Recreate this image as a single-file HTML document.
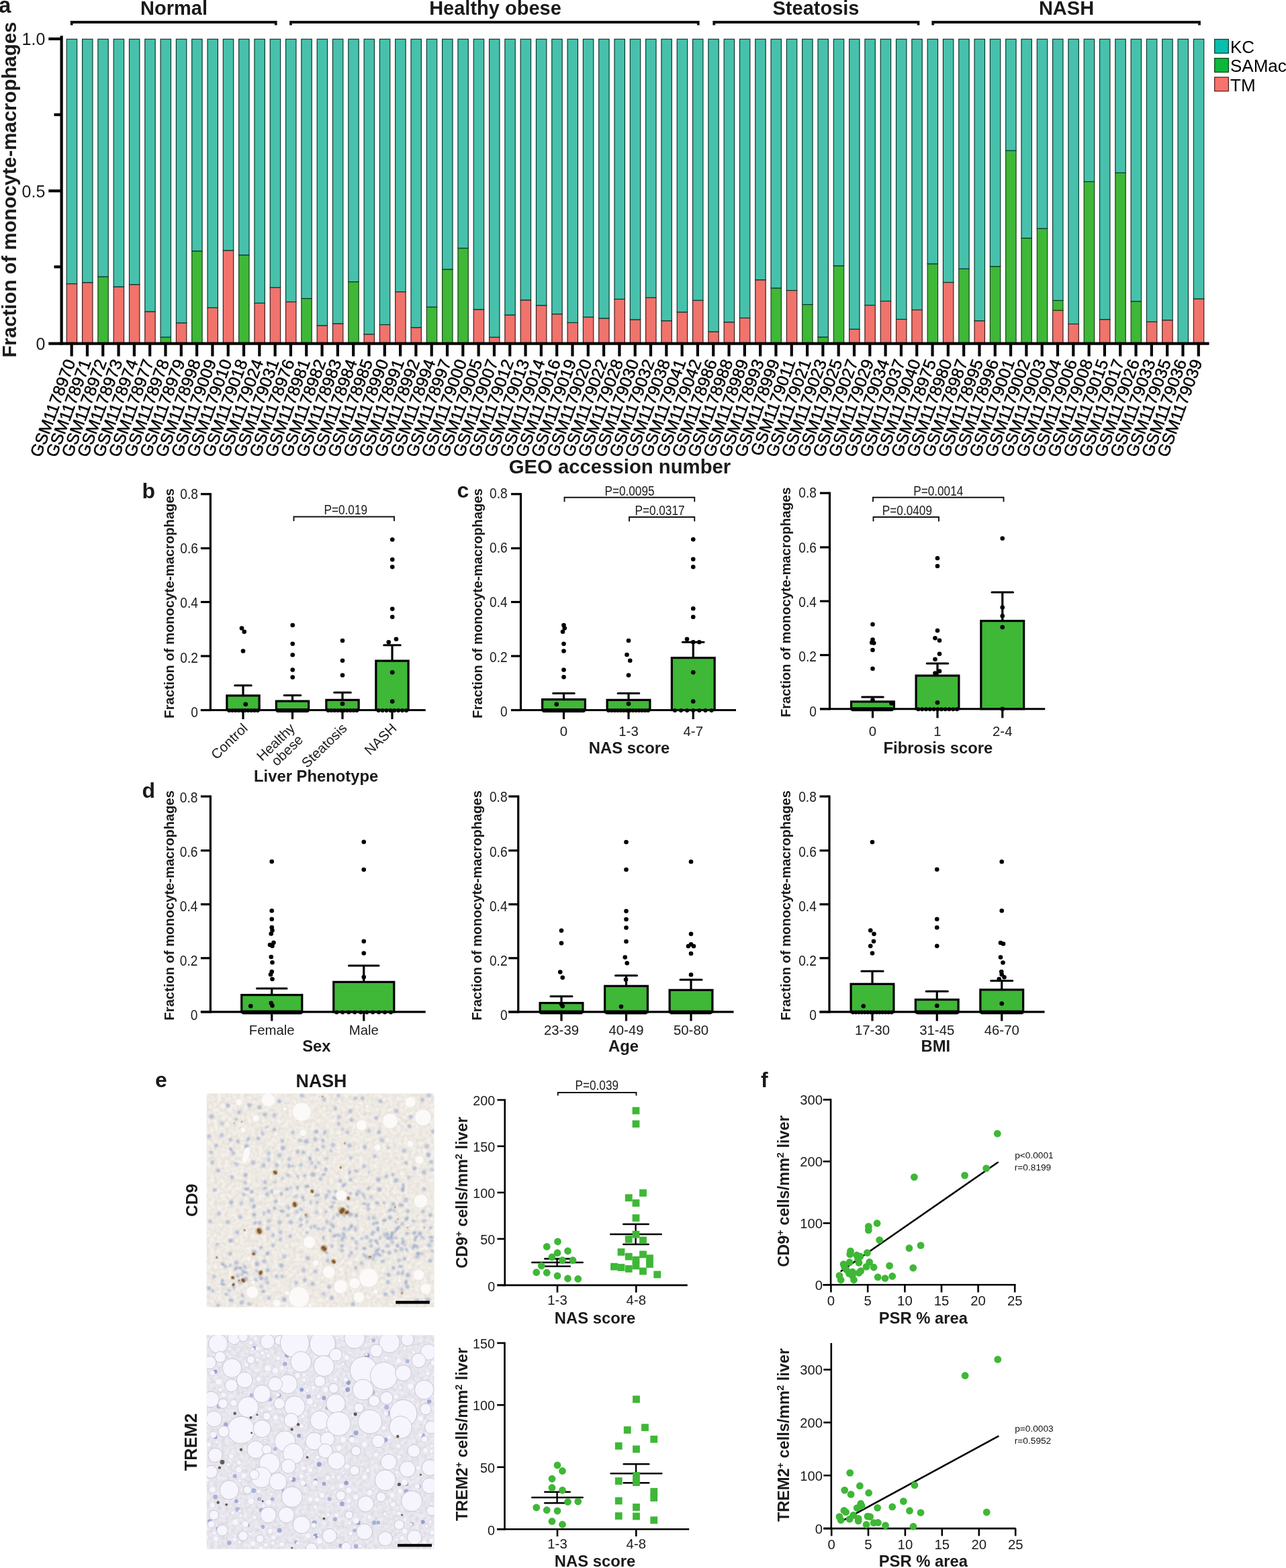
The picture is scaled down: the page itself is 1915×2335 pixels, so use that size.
<!DOCTYPE html>
<html lang="en"><head><meta charset="utf-8"><title>Figure</title>
<style>
html,body{margin:0;padding:0;background:#fff;}
body{width:1915px;height:2335px;overflow:hidden;}
svg{display:block;}
svg text{font-family:"Liberation Sans",sans-serif;}
</style></head><body>
<svg width="1915" height="2335" viewBox="0 0 1915 2335">
<rect width="1915" height="2335" fill="#fff"/>
<g id="panel-a">
<text x="-2.00" y="18.60" font-size="33" font-weight="bold" text-anchor="start" fill="#1a1a1a">a</text>
<text x="259.00" y="22.00" font-size="29" font-weight="bold" text-anchor="middle" fill="#1a1a1a">Normal</text>
<path d="M106.75 37.6V33H410.75V37.6" fill="none" stroke="#111" stroke-width="3.8"/>
<text x="737.50" y="22.00" font-size="29" font-weight="bold" text-anchor="middle" fill="#1a1a1a">Healthy obese</text>
<path d="M433.00 37.6V33H1039.75V37.6" fill="none" stroke="#111" stroke-width="3.8"/>
<text x="1215.00" y="22.00" font-size="29" font-weight="bold" text-anchor="middle" fill="#1a1a1a">Steatosis</text>
<path d="M1063.25 37.6V33H1367.50V37.6" fill="none" stroke="#111" stroke-width="3.8"/>
<text x="1588.00" y="22.00" font-size="29" font-weight="bold" text-anchor="middle" fill="#1a1a1a">NASH</text>
<path d="M1389.25 37.6V33H1786.00V37.6" fill="none" stroke="#111" stroke-width="3.8"/>
<g stroke-width="1.15">
<rect x="99.25" y="422.54" width="15.4" height="88.96" fill="#f0736c" stroke="#3d1815"/>
<rect x="99.25" y="58.30" width="15.4" height="364.24" fill="#47c1ab" stroke="#0a322c"/>
<rect x="122.56" y="420.72" width="15.4" height="90.78" fill="#f0736c" stroke="#3d1815"/>
<rect x="122.56" y="58.30" width="15.4" height="362.42" fill="#47c1ab" stroke="#0a322c"/>
<rect x="145.86" y="412.07" width="15.4" height="99.43" fill="#3fb737" stroke="#143d12"/>
<rect x="145.86" y="58.30" width="15.4" height="353.77" fill="#47c1ab" stroke="#0a322c"/>
<rect x="169.17" y="427.02" width="15.4" height="84.48" fill="#f0736c" stroke="#3d1815"/>
<rect x="169.17" y="58.30" width="15.4" height="368.72" fill="#47c1ab" stroke="#0a322c"/>
<rect x="192.48" y="423.67" width="15.4" height="87.83" fill="#f0736c" stroke="#3d1815"/>
<rect x="192.48" y="58.30" width="15.4" height="365.37" fill="#47c1ab" stroke="#0a322c"/>
<rect x="215.79" y="464.00" width="15.4" height="47.50" fill="#f0736c" stroke="#3d1815"/>
<rect x="215.79" y="58.30" width="15.4" height="405.70" fill="#47c1ab" stroke="#0a322c"/>
<rect x="239.09" y="502.07" width="15.4" height="9.43" fill="#3fb737" stroke="#143d12"/>
<rect x="239.09" y="58.30" width="15.4" height="443.77" fill="#47c1ab" stroke="#0a322c"/>
<rect x="262.40" y="480.77" width="15.4" height="30.73" fill="#f0736c" stroke="#3d1815"/>
<rect x="262.40" y="58.30" width="15.4" height="422.47" fill="#47c1ab" stroke="#0a322c"/>
<rect x="285.71" y="373.82" width="15.4" height="137.68" fill="#3fb737" stroke="#143d12"/>
<rect x="285.71" y="58.30" width="15.4" height="315.52" fill="#47c1ab" stroke="#0a322c"/>
<rect x="309.01" y="458.25" width="15.4" height="53.25" fill="#f0736c" stroke="#3d1815"/>
<rect x="309.01" y="58.30" width="15.4" height="399.95" fill="#47c1ab" stroke="#0a322c"/>
<rect x="332.32" y="372.91" width="15.4" height="138.59" fill="#f0736c" stroke="#3d1815"/>
<rect x="332.32" y="58.30" width="15.4" height="314.61" fill="#47c1ab" stroke="#0a322c"/>
<rect x="355.63" y="379.71" width="15.4" height="131.79" fill="#3fb737" stroke="#143d12"/>
<rect x="355.63" y="58.30" width="15.4" height="321.41" fill="#47c1ab" stroke="#0a322c"/>
<rect x="378.93" y="451.32" width="15.4" height="60.18" fill="#f0736c" stroke="#3d1815"/>
<rect x="378.93" y="58.30" width="15.4" height="393.02" fill="#47c1ab" stroke="#0a322c"/>
<rect x="402.24" y="428.20" width="15.4" height="83.30" fill="#f0736c" stroke="#3d1815"/>
<rect x="402.24" y="58.30" width="15.4" height="369.90" fill="#47c1ab" stroke="#0a322c"/>
<rect x="425.55" y="449.50" width="15.4" height="62.00" fill="#f0736c" stroke="#3d1815"/>
<rect x="425.55" y="58.30" width="15.4" height="391.20" fill="#47c1ab" stroke="#0a322c"/>
<rect x="448.85" y="444.52" width="15.4" height="66.98" fill="#3fb737" stroke="#143d12"/>
<rect x="448.85" y="58.30" width="15.4" height="386.22" fill="#47c1ab" stroke="#0a322c"/>
<rect x="472.16" y="484.72" width="15.4" height="26.78" fill="#f0736c" stroke="#3d1815"/>
<rect x="472.16" y="58.30" width="15.4" height="426.42" fill="#47c1ab" stroke="#0a322c"/>
<rect x="495.47" y="481.95" width="15.4" height="29.55" fill="#f0736c" stroke="#3d1815"/>
<rect x="495.47" y="58.30" width="15.4" height="423.65" fill="#47c1ab" stroke="#0a322c"/>
<rect x="518.78" y="419.59" width="15.4" height="91.91" fill="#3fb737" stroke="#143d12"/>
<rect x="518.78" y="58.30" width="15.4" height="361.29" fill="#47c1ab" stroke="#0a322c"/>
<rect x="542.08" y="497.68" width="15.4" height="13.82" fill="#f0736c" stroke="#3d1815"/>
<rect x="542.08" y="58.30" width="15.4" height="439.38" fill="#47c1ab" stroke="#0a322c"/>
<rect x="565.39" y="483.49" width="15.4" height="28.01" fill="#f0736c" stroke="#3d1815"/>
<rect x="565.39" y="58.30" width="15.4" height="425.19" fill="#47c1ab" stroke="#0a322c"/>
<rect x="588.70" y="434.55" width="15.4" height="76.95" fill="#f0736c" stroke="#3d1815"/>
<rect x="588.70" y="58.30" width="15.4" height="376.25" fill="#47c1ab" stroke="#0a322c"/>
<rect x="612.00" y="487.71" width="15.4" height="23.79" fill="#f0736c" stroke="#3d1815"/>
<rect x="612.00" y="58.30" width="15.4" height="429.41" fill="#47c1ab" stroke="#0a322c"/>
<rect x="635.31" y="457.21" width="15.4" height="54.29" fill="#3fb737" stroke="#143d12"/>
<rect x="635.31" y="58.30" width="15.4" height="398.91" fill="#47c1ab" stroke="#0a322c"/>
<rect x="658.62" y="401.01" width="15.4" height="110.49" fill="#3fb737" stroke="#143d12"/>
<rect x="658.62" y="58.30" width="15.4" height="342.71" fill="#47c1ab" stroke="#0a322c"/>
<rect x="681.92" y="369.51" width="15.4" height="141.99" fill="#3fb737" stroke="#143d12"/>
<rect x="681.92" y="58.30" width="15.4" height="311.21" fill="#47c1ab" stroke="#0a322c"/>
<rect x="705.23" y="460.83" width="15.4" height="50.67" fill="#f0736c" stroke="#3d1815"/>
<rect x="705.23" y="58.30" width="15.4" height="402.53" fill="#47c1ab" stroke="#0a322c"/>
<rect x="728.54" y="502.21" width="15.4" height="9.29" fill="#f0736c" stroke="#3d1815"/>
<rect x="728.54" y="58.30" width="15.4" height="443.91" fill="#47c1ab" stroke="#0a322c"/>
<rect x="751.85" y="468.99" width="15.4" height="42.51" fill="#f0736c" stroke="#3d1815"/>
<rect x="751.85" y="58.30" width="15.4" height="410.69" fill="#47c1ab" stroke="#0a322c"/>
<rect x="775.15" y="446.78" width="15.4" height="64.72" fill="#f0736c" stroke="#3d1815"/>
<rect x="775.15" y="58.30" width="15.4" height="388.48" fill="#47c1ab" stroke="#0a322c"/>
<rect x="798.46" y="454.71" width="15.4" height="56.79" fill="#f0736c" stroke="#3d1815"/>
<rect x="798.46" y="58.30" width="15.4" height="396.41" fill="#47c1ab" stroke="#0a322c"/>
<rect x="821.77" y="467.63" width="15.4" height="43.87" fill="#f0736c" stroke="#3d1815"/>
<rect x="821.77" y="58.30" width="15.4" height="409.33" fill="#47c1ab" stroke="#0a322c"/>
<rect x="845.07" y="480.46" width="15.4" height="31.04" fill="#f0736c" stroke="#3d1815"/>
<rect x="845.07" y="58.30" width="15.4" height="422.16" fill="#47c1ab" stroke="#0a322c"/>
<rect x="868.38" y="472.21" width="15.4" height="39.29" fill="#f0736c" stroke="#3d1815"/>
<rect x="868.38" y="58.30" width="15.4" height="413.91" fill="#47c1ab" stroke="#0a322c"/>
<rect x="891.69" y="473.98" width="15.4" height="37.52" fill="#f0736c" stroke="#3d1815"/>
<rect x="891.69" y="58.30" width="15.4" height="415.68" fill="#47c1ab" stroke="#0a322c"/>
<rect x="915.00" y="445.47" width="15.4" height="66.03" fill="#f0736c" stroke="#3d1815"/>
<rect x="915.00" y="58.30" width="15.4" height="387.17" fill="#47c1ab" stroke="#0a322c"/>
<rect x="938.30" y="475.97" width="15.4" height="35.53" fill="#f0736c" stroke="#3d1815"/>
<rect x="938.30" y="58.30" width="15.4" height="417.67" fill="#47c1ab" stroke="#0a322c"/>
<rect x="961.61" y="443.25" width="15.4" height="68.25" fill="#f0736c" stroke="#3d1815"/>
<rect x="961.61" y="58.30" width="15.4" height="384.95" fill="#47c1ab" stroke="#0a322c"/>
<rect x="984.92" y="477.69" width="15.4" height="33.81" fill="#f0736c" stroke="#3d1815"/>
<rect x="984.92" y="58.30" width="15.4" height="419.39" fill="#47c1ab" stroke="#0a322c"/>
<rect x="1008.22" y="464.73" width="15.4" height="46.77" fill="#f0736c" stroke="#3d1815"/>
<rect x="1008.22" y="58.30" width="15.4" height="406.43" fill="#47c1ab" stroke="#0a322c"/>
<rect x="1031.53" y="447.24" width="15.4" height="64.26" fill="#f0736c" stroke="#3d1815"/>
<rect x="1031.53" y="58.30" width="15.4" height="388.94" fill="#47c1ab" stroke="#0a322c"/>
<rect x="1054.84" y="493.96" width="15.4" height="17.54" fill="#f0736c" stroke="#3d1815"/>
<rect x="1054.84" y="58.30" width="15.4" height="435.66" fill="#47c1ab" stroke="#0a322c"/>
<rect x="1078.14" y="479.69" width="15.4" height="31.81" fill="#f0736c" stroke="#3d1815"/>
<rect x="1078.14" y="58.30" width="15.4" height="421.39" fill="#47c1ab" stroke="#0a322c"/>
<rect x="1101.45" y="473.48" width="15.4" height="38.02" fill="#f0736c" stroke="#3d1815"/>
<rect x="1101.45" y="58.30" width="15.4" height="415.18" fill="#47c1ab" stroke="#0a322c"/>
<rect x="1124.76" y="416.74" width="15.4" height="94.76" fill="#f0736c" stroke="#3d1815"/>
<rect x="1124.76" y="58.30" width="15.4" height="358.44" fill="#47c1ab" stroke="#0a322c"/>
<rect x="1148.06" y="428.97" width="15.4" height="82.53" fill="#3fb737" stroke="#143d12"/>
<rect x="1148.06" y="58.30" width="15.4" height="370.67" fill="#47c1ab" stroke="#0a322c"/>
<rect x="1171.37" y="432.51" width="15.4" height="78.99" fill="#f0736c" stroke="#3d1815"/>
<rect x="1171.37" y="58.30" width="15.4" height="374.21" fill="#47c1ab" stroke="#0a322c"/>
<rect x="1194.68" y="453.49" width="15.4" height="58.01" fill="#3fb737" stroke="#143d12"/>
<rect x="1194.68" y="58.30" width="15.4" height="395.19" fill="#47c1ab" stroke="#0a322c"/>
<rect x="1217.99" y="501.94" width="15.4" height="9.56" fill="#3fb737" stroke="#143d12"/>
<rect x="1217.99" y="58.30" width="15.4" height="443.64" fill="#47c1ab" stroke="#0a322c"/>
<rect x="1241.29" y="395.80" width="15.4" height="115.70" fill="#3fb737" stroke="#143d12"/>
<rect x="1241.29" y="58.30" width="15.4" height="337.50" fill="#47c1ab" stroke="#0a322c"/>
<rect x="1264.60" y="490.20" width="15.4" height="21.30" fill="#f0736c" stroke="#3d1815"/>
<rect x="1264.60" y="58.30" width="15.4" height="431.90" fill="#47c1ab" stroke="#0a322c"/>
<rect x="1287.91" y="454.49" width="15.4" height="57.01" fill="#f0736c" stroke="#3d1815"/>
<rect x="1287.91" y="58.30" width="15.4" height="396.19" fill="#47c1ab" stroke="#0a322c"/>
<rect x="1311.21" y="448.46" width="15.4" height="63.04" fill="#f0736c" stroke="#3d1815"/>
<rect x="1311.21" y="58.30" width="15.4" height="390.16" fill="#47c1ab" stroke="#0a322c"/>
<rect x="1334.52" y="475.47" width="15.4" height="36.03" fill="#f0736c" stroke="#3d1815"/>
<rect x="1334.52" y="58.30" width="15.4" height="417.17" fill="#47c1ab" stroke="#0a322c"/>
<rect x="1357.83" y="461.47" width="15.4" height="50.03" fill="#f0736c" stroke="#3d1815"/>
<rect x="1357.83" y="58.30" width="15.4" height="403.17" fill="#47c1ab" stroke="#0a322c"/>
<rect x="1381.13" y="392.85" width="15.4" height="118.65" fill="#3fb737" stroke="#143d12"/>
<rect x="1381.13" y="58.30" width="15.4" height="334.55" fill="#47c1ab" stroke="#0a322c"/>
<rect x="1404.44" y="420.50" width="15.4" height="91.00" fill="#f0736c" stroke="#3d1815"/>
<rect x="1404.44" y="58.30" width="15.4" height="362.20" fill="#47c1ab" stroke="#0a322c"/>
<rect x="1427.75" y="400.24" width="15.4" height="111.26" fill="#3fb737" stroke="#143d12"/>
<rect x="1427.75" y="58.30" width="15.4" height="341.94" fill="#47c1ab" stroke="#0a322c"/>
<rect x="1451.06" y="477.69" width="15.4" height="33.81" fill="#f0736c" stroke="#3d1815"/>
<rect x="1451.06" y="58.30" width="15.4" height="419.39" fill="#47c1ab" stroke="#0a322c"/>
<rect x="1474.36" y="396.75" width="15.4" height="114.75" fill="#3fb737" stroke="#143d12"/>
<rect x="1474.36" y="58.30" width="15.4" height="338.45" fill="#47c1ab" stroke="#0a322c"/>
<rect x="1497.67" y="224.26" width="15.4" height="287.24" fill="#3fb737" stroke="#143d12"/>
<rect x="1497.67" y="58.30" width="15.4" height="165.96" fill="#47c1ab" stroke="#0a322c"/>
<rect x="1520.98" y="354.56" width="15.4" height="156.94" fill="#3fb737" stroke="#143d12"/>
<rect x="1520.98" y="58.30" width="15.4" height="296.26" fill="#47c1ab" stroke="#0a322c"/>
<rect x="1544.28" y="340.28" width="15.4" height="171.22" fill="#3fb737" stroke="#143d12"/>
<rect x="1544.28" y="58.30" width="15.4" height="281.98" fill="#47c1ab" stroke="#0a322c"/>
<rect x="1567.59" y="462.19" width="15.4" height="49.31" fill="#f0736c" stroke="#3d1815"/>
<rect x="1567.59" y="447.46" width="15.4" height="14.73" fill="#3fb737" stroke="#143d12"/>
<rect x="1567.59" y="58.30" width="15.4" height="389.16" fill="#47c1ab" stroke="#0a322c"/>
<rect x="1590.90" y="482.45" width="15.4" height="29.05" fill="#f0736c" stroke="#3d1815"/>
<rect x="1590.90" y="58.30" width="15.4" height="424.15" fill="#47c1ab" stroke="#0a322c"/>
<rect x="1614.20" y="270.49" width="15.4" height="241.01" fill="#3fb737" stroke="#143d12"/>
<rect x="1614.20" y="58.30" width="15.4" height="212.19" fill="#47c1ab" stroke="#0a322c"/>
<rect x="1637.51" y="475.70" width="15.4" height="35.80" fill="#f0736c" stroke="#3d1815"/>
<rect x="1637.51" y="58.30" width="15.4" height="417.40" fill="#47c1ab" stroke="#0a322c"/>
<rect x="1660.82" y="257.35" width="15.4" height="254.15" fill="#3fb737" stroke="#143d12"/>
<rect x="1660.82" y="58.30" width="15.4" height="199.05" fill="#47c1ab" stroke="#0a322c"/>
<rect x="1684.13" y="448.73" width="15.4" height="62.77" fill="#3fb737" stroke="#143d12"/>
<rect x="1684.13" y="58.30" width="15.4" height="390.43" fill="#47c1ab" stroke="#0a322c"/>
<rect x="1707.43" y="479.19" width="15.4" height="32.31" fill="#f0736c" stroke="#3d1815"/>
<rect x="1707.43" y="58.30" width="15.4" height="420.89" fill="#47c1ab" stroke="#0a322c"/>
<rect x="1730.74" y="476.69" width="15.4" height="34.81" fill="#f0736c" stroke="#3d1815"/>
<rect x="1730.74" y="58.30" width="15.4" height="418.39" fill="#47c1ab" stroke="#0a322c"/>
<rect x="1754.05" y="58.30" width="15.4" height="453.20" fill="#47c1ab" stroke="#0a322c"/>
<rect x="1777.35" y="444.97" width="15.4" height="66.53" fill="#f0736c" stroke="#3d1815"/>
<rect x="1777.35" y="58.30" width="15.4" height="386.67" fill="#47c1ab" stroke="#0a322c"/>
</g>
<line x1="91.60" y1="53.20" x2="91.60" y2="513.60" stroke="#000" stroke-width="4.2" stroke-linecap="butt"/>
<line x1="72.30" y1="511.55" x2="1800.50" y2="511.55" stroke="#000" stroke-width="4.3" stroke-linecap="butt"/>
<line x1="72.30" y1="57.90" x2="91.60" y2="57.90" stroke="#000" stroke-width="4.2" stroke-linecap="butt"/>
<line x1="72.30" y1="284.28" x2="91.60" y2="284.28" stroke="#000" stroke-width="4.2" stroke-linecap="butt"/>
<line x1="80.50" y1="170.78" x2="91.60" y2="170.78" stroke="#000" stroke-width="4.2" stroke-linecap="butt"/>
<line x1="80.50" y1="397.38" x2="91.60" y2="397.38" stroke="#000" stroke-width="4.2" stroke-linecap="butt"/>
<text x="67.30" y="66.50" font-size="25" text-anchor="end" fill="#1a1a1a">1.0</text>
<text x="67.30" y="293.50" font-size="25" text-anchor="end" fill="#1a1a1a">0.5</text>
<text x="67.30" y="520.60" font-size="25" text-anchor="end" fill="#1a1a1a">0</text>
<line x1="106.65" y1="511.50" x2="106.65" y2="530.60" stroke="#000" stroke-width="4.2" stroke-linecap="butt"/>
<text x="112.75" y="539.00" font-size="25" text-anchor="end" fill="#000" transform="rotate(-70 112.75 539.00)" stroke="#000" stroke-width="0.45">GSM1178970</text>
<line x1="129.96" y1="511.50" x2="129.96" y2="530.60" stroke="#000" stroke-width="4.2" stroke-linecap="butt"/>
<text x="136.06" y="539.00" font-size="25" text-anchor="end" fill="#000" transform="rotate(-70 136.06 539.00)" stroke="#000" stroke-width="0.45">GSM1178971</text>
<line x1="153.26" y1="511.50" x2="153.26" y2="530.60" stroke="#000" stroke-width="4.2" stroke-linecap="butt"/>
<text x="159.36" y="539.00" font-size="25" text-anchor="end" fill="#000" transform="rotate(-70 159.36 539.00)" stroke="#000" stroke-width="0.45">GSM1178972</text>
<line x1="176.57" y1="511.50" x2="176.57" y2="530.60" stroke="#000" stroke-width="4.2" stroke-linecap="butt"/>
<text x="182.67" y="539.00" font-size="25" text-anchor="end" fill="#000" transform="rotate(-70 182.67 539.00)" stroke="#000" stroke-width="0.45">GSM1178973</text>
<line x1="199.88" y1="511.50" x2="199.88" y2="530.60" stroke="#000" stroke-width="4.2" stroke-linecap="butt"/>
<text x="205.98" y="539.00" font-size="25" text-anchor="end" fill="#000" transform="rotate(-70 205.98 539.00)" stroke="#000" stroke-width="0.45">GSM1178974</text>
<line x1="223.19" y1="511.50" x2="223.19" y2="530.60" stroke="#000" stroke-width="4.2" stroke-linecap="butt"/>
<text x="229.29" y="539.00" font-size="25" text-anchor="end" fill="#000" transform="rotate(-70 229.29 539.00)" stroke="#000" stroke-width="0.45">GSM1178977</text>
<line x1="246.49" y1="511.50" x2="246.49" y2="530.60" stroke="#000" stroke-width="4.2" stroke-linecap="butt"/>
<text x="252.59" y="539.00" font-size="25" text-anchor="end" fill="#000" transform="rotate(-70 252.59 539.00)" stroke="#000" stroke-width="0.45">GSM1178978</text>
<line x1="269.80" y1="511.50" x2="269.80" y2="530.60" stroke="#000" stroke-width="4.2" stroke-linecap="butt"/>
<text x="275.90" y="539.00" font-size="25" text-anchor="end" fill="#000" transform="rotate(-70 275.90 539.00)" stroke="#000" stroke-width="0.45">GSM1178979</text>
<line x1="293.11" y1="511.50" x2="293.11" y2="530.60" stroke="#000" stroke-width="4.2" stroke-linecap="butt"/>
<text x="299.21" y="539.00" font-size="25" text-anchor="end" fill="#000" transform="rotate(-70 299.21 539.00)" stroke="#000" stroke-width="0.45">GSM1178998</text>
<line x1="316.41" y1="511.50" x2="316.41" y2="530.60" stroke="#000" stroke-width="4.2" stroke-linecap="butt"/>
<text x="322.51" y="539.00" font-size="25" text-anchor="end" fill="#000" transform="rotate(-70 322.51 539.00)" stroke="#000" stroke-width="0.45">GSM1179009</text>
<line x1="339.72" y1="511.50" x2="339.72" y2="530.60" stroke="#000" stroke-width="4.2" stroke-linecap="butt"/>
<text x="345.82" y="539.00" font-size="25" text-anchor="end" fill="#000" transform="rotate(-70 345.82 539.00)" stroke="#000" stroke-width="0.45">GSM1179010</text>
<line x1="363.03" y1="511.50" x2="363.03" y2="530.60" stroke="#000" stroke-width="4.2" stroke-linecap="butt"/>
<text x="369.13" y="539.00" font-size="25" text-anchor="end" fill="#000" transform="rotate(-70 369.13 539.00)" stroke="#000" stroke-width="0.45">GSM1179018</text>
<line x1="386.33" y1="511.50" x2="386.33" y2="530.60" stroke="#000" stroke-width="4.2" stroke-linecap="butt"/>
<text x="392.43" y="539.00" font-size="25" text-anchor="end" fill="#000" transform="rotate(-70 392.43 539.00)" stroke="#000" stroke-width="0.45">GSM1179024</text>
<line x1="409.64" y1="511.50" x2="409.64" y2="530.60" stroke="#000" stroke-width="4.2" stroke-linecap="butt"/>
<text x="415.74" y="539.00" font-size="25" text-anchor="end" fill="#000" transform="rotate(-70 415.74 539.00)" stroke="#000" stroke-width="0.45">GSM1179031</text>
<line x1="432.95" y1="511.50" x2="432.95" y2="530.60" stroke="#000" stroke-width="4.2" stroke-linecap="butt"/>
<text x="439.05" y="539.00" font-size="25" text-anchor="end" fill="#000" transform="rotate(-70 439.05 539.00)" stroke="#000" stroke-width="0.45">GSM1178976</text>
<line x1="456.25" y1="511.50" x2="456.25" y2="530.60" stroke="#000" stroke-width="4.2" stroke-linecap="butt"/>
<text x="462.35" y="539.00" font-size="25" text-anchor="end" fill="#000" transform="rotate(-70 462.35 539.00)" stroke="#000" stroke-width="0.45">GSM1178981</text>
<line x1="479.56" y1="511.50" x2="479.56" y2="530.60" stroke="#000" stroke-width="4.2" stroke-linecap="butt"/>
<text x="485.66" y="539.00" font-size="25" text-anchor="end" fill="#000" transform="rotate(-70 485.66 539.00)" stroke="#000" stroke-width="0.45">GSM1178982</text>
<line x1="502.87" y1="511.50" x2="502.87" y2="530.60" stroke="#000" stroke-width="4.2" stroke-linecap="butt"/>
<text x="508.97" y="539.00" font-size="25" text-anchor="end" fill="#000" transform="rotate(-70 508.97 539.00)" stroke="#000" stroke-width="0.45">GSM1178983</text>
<line x1="526.18" y1="511.50" x2="526.18" y2="530.60" stroke="#000" stroke-width="4.2" stroke-linecap="butt"/>
<text x="532.28" y="539.00" font-size="25" text-anchor="end" fill="#000" transform="rotate(-70 532.28 539.00)" stroke="#000" stroke-width="0.45">GSM1178984</text>
<line x1="549.48" y1="511.50" x2="549.48" y2="530.60" stroke="#000" stroke-width="4.2" stroke-linecap="butt"/>
<text x="555.58" y="539.00" font-size="25" text-anchor="end" fill="#000" transform="rotate(-70 555.58 539.00)" stroke="#000" stroke-width="0.45">GSM1178985</text>
<line x1="572.79" y1="511.50" x2="572.79" y2="530.60" stroke="#000" stroke-width="4.2" stroke-linecap="butt"/>
<text x="578.89" y="539.00" font-size="25" text-anchor="end" fill="#000" transform="rotate(-70 578.89 539.00)" stroke="#000" stroke-width="0.45">GSM1178990</text>
<line x1="596.10" y1="511.50" x2="596.10" y2="530.60" stroke="#000" stroke-width="4.2" stroke-linecap="butt"/>
<text x="602.20" y="539.00" font-size="25" text-anchor="end" fill="#000" transform="rotate(-70 602.20 539.00)" stroke="#000" stroke-width="0.45">GSM1178991</text>
<line x1="619.40" y1="511.50" x2="619.40" y2="530.60" stroke="#000" stroke-width="4.2" stroke-linecap="butt"/>
<text x="625.50" y="539.00" font-size="25" text-anchor="end" fill="#000" transform="rotate(-70 625.50 539.00)" stroke="#000" stroke-width="0.45">GSM1178992</text>
<line x1="642.71" y1="511.50" x2="642.71" y2="530.60" stroke="#000" stroke-width="4.2" stroke-linecap="butt"/>
<text x="648.81" y="539.00" font-size="25" text-anchor="end" fill="#000" transform="rotate(-70 648.81 539.00)" stroke="#000" stroke-width="0.45">GSM1178994</text>
<line x1="666.02" y1="511.50" x2="666.02" y2="530.60" stroke="#000" stroke-width="4.2" stroke-linecap="butt"/>
<text x="672.12" y="539.00" font-size="25" text-anchor="end" fill="#000" transform="rotate(-70 672.12 539.00)" stroke="#000" stroke-width="0.45">GSM1178997</text>
<line x1="689.33" y1="511.50" x2="689.33" y2="530.60" stroke="#000" stroke-width="4.2" stroke-linecap="butt"/>
<text x="695.42" y="539.00" font-size="25" text-anchor="end" fill="#000" transform="rotate(-70 695.42 539.00)" stroke="#000" stroke-width="0.45">GSM1179000</text>
<line x1="712.63" y1="511.50" x2="712.63" y2="530.60" stroke="#000" stroke-width="4.2" stroke-linecap="butt"/>
<text x="718.73" y="539.00" font-size="25" text-anchor="end" fill="#000" transform="rotate(-70 718.73 539.00)" stroke="#000" stroke-width="0.45">GSM1179005</text>
<line x1="735.94" y1="511.50" x2="735.94" y2="530.60" stroke="#000" stroke-width="4.2" stroke-linecap="butt"/>
<text x="742.04" y="539.00" font-size="25" text-anchor="end" fill="#000" transform="rotate(-70 742.04 539.00)" stroke="#000" stroke-width="0.45">GSM1179007</text>
<line x1="759.25" y1="511.50" x2="759.25" y2="530.60" stroke="#000" stroke-width="4.2" stroke-linecap="butt"/>
<text x="765.35" y="539.00" font-size="25" text-anchor="end" fill="#000" transform="rotate(-70 765.35 539.00)" stroke="#000" stroke-width="0.45">GSM1179012</text>
<line x1="782.55" y1="511.50" x2="782.55" y2="530.60" stroke="#000" stroke-width="4.2" stroke-linecap="butt"/>
<text x="788.65" y="539.00" font-size="25" text-anchor="end" fill="#000" transform="rotate(-70 788.65 539.00)" stroke="#000" stroke-width="0.45">GSM1179013</text>
<line x1="805.86" y1="511.50" x2="805.86" y2="530.60" stroke="#000" stroke-width="4.2" stroke-linecap="butt"/>
<text x="811.96" y="539.00" font-size="25" text-anchor="end" fill="#000" transform="rotate(-70 811.96 539.00)" stroke="#000" stroke-width="0.45">GSM1179014</text>
<line x1="829.17" y1="511.50" x2="829.17" y2="530.60" stroke="#000" stroke-width="4.2" stroke-linecap="butt"/>
<text x="835.27" y="539.00" font-size="25" text-anchor="end" fill="#000" transform="rotate(-70 835.27 539.00)" stroke="#000" stroke-width="0.45">GSM1179016</text>
<line x1="852.47" y1="511.50" x2="852.47" y2="530.60" stroke="#000" stroke-width="4.2" stroke-linecap="butt"/>
<text x="858.57" y="539.00" font-size="25" text-anchor="end" fill="#000" transform="rotate(-70 858.57 539.00)" stroke="#000" stroke-width="0.45">GSM1179019</text>
<line x1="875.78" y1="511.50" x2="875.78" y2="530.60" stroke="#000" stroke-width="4.2" stroke-linecap="butt"/>
<text x="881.88" y="539.00" font-size="25" text-anchor="end" fill="#000" transform="rotate(-70 881.88 539.00)" stroke="#000" stroke-width="0.45">GSM1179020</text>
<line x1="899.09" y1="511.50" x2="899.09" y2="530.60" stroke="#000" stroke-width="4.2" stroke-linecap="butt"/>
<text x="905.19" y="539.00" font-size="25" text-anchor="end" fill="#000" transform="rotate(-70 905.19 539.00)" stroke="#000" stroke-width="0.45">GSM1179022</text>
<line x1="922.40" y1="511.50" x2="922.40" y2="530.60" stroke="#000" stroke-width="4.2" stroke-linecap="butt"/>
<text x="928.50" y="539.00" font-size="25" text-anchor="end" fill="#000" transform="rotate(-70 928.50 539.00)" stroke="#000" stroke-width="0.45">GSM1179028</text>
<line x1="945.70" y1="511.50" x2="945.70" y2="530.60" stroke="#000" stroke-width="4.2" stroke-linecap="butt"/>
<text x="951.80" y="539.00" font-size="25" text-anchor="end" fill="#000" transform="rotate(-70 951.80 539.00)" stroke="#000" stroke-width="0.45">GSM1179030</text>
<line x1="969.01" y1="511.50" x2="969.01" y2="530.60" stroke="#000" stroke-width="4.2" stroke-linecap="butt"/>
<text x="975.11" y="539.00" font-size="25" text-anchor="end" fill="#000" transform="rotate(-70 975.11 539.00)" stroke="#000" stroke-width="0.45">GSM1179032</text>
<line x1="992.32" y1="511.50" x2="992.32" y2="530.60" stroke="#000" stroke-width="4.2" stroke-linecap="butt"/>
<text x="998.42" y="539.00" font-size="25" text-anchor="end" fill="#000" transform="rotate(-70 998.42 539.00)" stroke="#000" stroke-width="0.45">GSM1179038</text>
<line x1="1015.62" y1="511.50" x2="1015.62" y2="530.60" stroke="#000" stroke-width="4.2" stroke-linecap="butt"/>
<text x="1021.72" y="539.00" font-size="25" text-anchor="end" fill="#000" transform="rotate(-70 1021.72 539.00)" stroke="#000" stroke-width="0.45">GSM1179041</text>
<line x1="1038.93" y1="511.50" x2="1038.93" y2="530.60" stroke="#000" stroke-width="4.2" stroke-linecap="butt"/>
<text x="1045.03" y="539.00" font-size="25" text-anchor="end" fill="#000" transform="rotate(-70 1045.03 539.00)" stroke="#000" stroke-width="0.45">GSM1179042</text>
<line x1="1062.24" y1="511.50" x2="1062.24" y2="530.60" stroke="#000" stroke-width="4.2" stroke-linecap="butt"/>
<text x="1068.34" y="539.00" font-size="25" text-anchor="end" fill="#000" transform="rotate(-70 1068.34 539.00)" stroke="#000" stroke-width="0.45">GSM1178986</text>
<line x1="1085.54" y1="511.50" x2="1085.54" y2="530.60" stroke="#000" stroke-width="4.2" stroke-linecap="butt"/>
<text x="1091.64" y="539.00" font-size="25" text-anchor="end" fill="#000" transform="rotate(-70 1091.64 539.00)" stroke="#000" stroke-width="0.45">GSM1178988</text>
<line x1="1108.85" y1="511.50" x2="1108.85" y2="530.60" stroke="#000" stroke-width="4.2" stroke-linecap="butt"/>
<text x="1114.95" y="539.00" font-size="25" text-anchor="end" fill="#000" transform="rotate(-70 1114.95 539.00)" stroke="#000" stroke-width="0.45">GSM1178989</text>
<line x1="1132.16" y1="511.50" x2="1132.16" y2="530.60" stroke="#000" stroke-width="4.2" stroke-linecap="butt"/>
<text x="1138.26" y="539.00" font-size="25" text-anchor="end" fill="#000" transform="rotate(-70 1138.26 539.00)" stroke="#000" stroke-width="0.45">GSM1178993</text>
<line x1="1155.46" y1="511.50" x2="1155.46" y2="530.60" stroke="#000" stroke-width="4.2" stroke-linecap="butt"/>
<text x="1161.56" y="539.00" font-size="25" text-anchor="end" fill="#000" transform="rotate(-70 1161.56 539.00)" stroke="#000" stroke-width="0.45">GSM1178999</text>
<line x1="1178.77" y1="511.50" x2="1178.77" y2="530.60" stroke="#000" stroke-width="4.2" stroke-linecap="butt"/>
<text x="1184.87" y="539.00" font-size="25" text-anchor="end" fill="#000" transform="rotate(-70 1184.87 539.00)" stroke="#000" stroke-width="0.45">GSM1179011</text>
<line x1="1202.08" y1="511.50" x2="1202.08" y2="530.60" stroke="#000" stroke-width="4.2" stroke-linecap="butt"/>
<text x="1208.18" y="539.00" font-size="25" text-anchor="end" fill="#000" transform="rotate(-70 1208.18 539.00)" stroke="#000" stroke-width="0.45">GSM1179021</text>
<line x1="1225.39" y1="511.50" x2="1225.39" y2="530.60" stroke="#000" stroke-width="4.2" stroke-linecap="butt"/>
<text x="1231.49" y="539.00" font-size="25" text-anchor="end" fill="#000" transform="rotate(-70 1231.49 539.00)" stroke="#000" stroke-width="0.45">GSM1179023</text>
<line x1="1248.69" y1="511.50" x2="1248.69" y2="530.60" stroke="#000" stroke-width="4.2" stroke-linecap="butt"/>
<text x="1254.79" y="539.00" font-size="25" text-anchor="end" fill="#000" transform="rotate(-70 1254.79 539.00)" stroke="#000" stroke-width="0.45">GSM1179025</text>
<line x1="1272.00" y1="511.50" x2="1272.00" y2="530.60" stroke="#000" stroke-width="4.2" stroke-linecap="butt"/>
<text x="1278.10" y="539.00" font-size="25" text-anchor="end" fill="#000" transform="rotate(-70 1278.10 539.00)" stroke="#000" stroke-width="0.45">GSM1179027</text>
<line x1="1295.31" y1="511.50" x2="1295.31" y2="530.60" stroke="#000" stroke-width="4.2" stroke-linecap="butt"/>
<text x="1301.41" y="539.00" font-size="25" text-anchor="end" fill="#000" transform="rotate(-70 1301.41 539.00)" stroke="#000" stroke-width="0.45">GSM1179029</text>
<line x1="1318.61" y1="511.50" x2="1318.61" y2="530.60" stroke="#000" stroke-width="4.2" stroke-linecap="butt"/>
<text x="1324.71" y="539.00" font-size="25" text-anchor="end" fill="#000" transform="rotate(-70 1324.71 539.00)" stroke="#000" stroke-width="0.45">GSM1179034</text>
<line x1="1341.92" y1="511.50" x2="1341.92" y2="530.60" stroke="#000" stroke-width="4.2" stroke-linecap="butt"/>
<text x="1348.02" y="539.00" font-size="25" text-anchor="end" fill="#000" transform="rotate(-70 1348.02 539.00)" stroke="#000" stroke-width="0.45">GSM1179037</text>
<line x1="1365.23" y1="511.50" x2="1365.23" y2="530.60" stroke="#000" stroke-width="4.2" stroke-linecap="butt"/>
<text x="1371.33" y="539.00" font-size="25" text-anchor="end" fill="#000" transform="rotate(-70 1371.33 539.00)" stroke="#000" stroke-width="0.45">GSM1179040</text>
<line x1="1388.54" y1="511.50" x2="1388.54" y2="530.60" stroke="#000" stroke-width="4.2" stroke-linecap="butt"/>
<text x="1394.63" y="539.00" font-size="25" text-anchor="end" fill="#000" transform="rotate(-70 1394.63 539.00)" stroke="#000" stroke-width="0.45">GSM1178975</text>
<line x1="1411.84" y1="511.50" x2="1411.84" y2="530.60" stroke="#000" stroke-width="4.2" stroke-linecap="butt"/>
<text x="1417.94" y="539.00" font-size="25" text-anchor="end" fill="#000" transform="rotate(-70 1417.94 539.00)" stroke="#000" stroke-width="0.45">GSM1178980</text>
<line x1="1435.15" y1="511.50" x2="1435.15" y2="530.60" stroke="#000" stroke-width="4.2" stroke-linecap="butt"/>
<text x="1441.25" y="539.00" font-size="25" text-anchor="end" fill="#000" transform="rotate(-70 1441.25 539.00)" stroke="#000" stroke-width="0.45">GSM1178987</text>
<line x1="1458.46" y1="511.50" x2="1458.46" y2="530.60" stroke="#000" stroke-width="4.2" stroke-linecap="butt"/>
<text x="1464.56" y="539.00" font-size="25" text-anchor="end" fill="#000" transform="rotate(-70 1464.56 539.00)" stroke="#000" stroke-width="0.45">GSM1178995</text>
<line x1="1481.76" y1="511.50" x2="1481.76" y2="530.60" stroke="#000" stroke-width="4.2" stroke-linecap="butt"/>
<text x="1487.86" y="539.00" font-size="25" text-anchor="end" fill="#000" transform="rotate(-70 1487.86 539.00)" stroke="#000" stroke-width="0.45">GSM1178996</text>
<line x1="1505.07" y1="511.50" x2="1505.07" y2="530.60" stroke="#000" stroke-width="4.2" stroke-linecap="butt"/>
<text x="1511.17" y="539.00" font-size="25" text-anchor="end" fill="#000" transform="rotate(-70 1511.17 539.00)" stroke="#000" stroke-width="0.45">GSM1179001</text>
<line x1="1528.38" y1="511.50" x2="1528.38" y2="530.60" stroke="#000" stroke-width="4.2" stroke-linecap="butt"/>
<text x="1534.48" y="539.00" font-size="25" text-anchor="end" fill="#000" transform="rotate(-70 1534.48 539.00)" stroke="#000" stroke-width="0.45">GSM1179002</text>
<line x1="1551.68" y1="511.50" x2="1551.68" y2="530.60" stroke="#000" stroke-width="4.2" stroke-linecap="butt"/>
<text x="1557.78" y="539.00" font-size="25" text-anchor="end" fill="#000" transform="rotate(-70 1557.78 539.00)" stroke="#000" stroke-width="0.45">GSM1179003</text>
<line x1="1574.99" y1="511.50" x2="1574.99" y2="530.60" stroke="#000" stroke-width="4.2" stroke-linecap="butt"/>
<text x="1581.09" y="539.00" font-size="25" text-anchor="end" fill="#000" transform="rotate(-70 1581.09 539.00)" stroke="#000" stroke-width="0.45">GSM1179004</text>
<line x1="1598.30" y1="511.50" x2="1598.30" y2="530.60" stroke="#000" stroke-width="4.2" stroke-linecap="butt"/>
<text x="1604.40" y="539.00" font-size="25" text-anchor="end" fill="#000" transform="rotate(-70 1604.40 539.00)" stroke="#000" stroke-width="0.45">GSM1179006</text>
<line x1="1621.61" y1="511.50" x2="1621.61" y2="530.60" stroke="#000" stroke-width="4.2" stroke-linecap="butt"/>
<text x="1627.70" y="539.00" font-size="25" text-anchor="end" fill="#000" transform="rotate(-70 1627.70 539.00)" stroke="#000" stroke-width="0.45">GSM1179008</text>
<line x1="1644.91" y1="511.50" x2="1644.91" y2="530.60" stroke="#000" stroke-width="4.2" stroke-linecap="butt"/>
<text x="1651.01" y="539.00" font-size="25" text-anchor="end" fill="#000" transform="rotate(-70 1651.01 539.00)" stroke="#000" stroke-width="0.45">GSM1179015</text>
<line x1="1668.22" y1="511.50" x2="1668.22" y2="530.60" stroke="#000" stroke-width="4.2" stroke-linecap="butt"/>
<text x="1674.32" y="539.00" font-size="25" text-anchor="end" fill="#000" transform="rotate(-70 1674.32 539.00)" stroke="#000" stroke-width="0.45">GSM1179017</text>
<line x1="1691.53" y1="511.50" x2="1691.53" y2="530.60" stroke="#000" stroke-width="4.2" stroke-linecap="butt"/>
<text x="1697.63" y="539.00" font-size="25" text-anchor="end" fill="#000" transform="rotate(-70 1697.63 539.00)" stroke="#000" stroke-width="0.45">GSM1179026</text>
<line x1="1714.83" y1="511.50" x2="1714.83" y2="530.60" stroke="#000" stroke-width="4.2" stroke-linecap="butt"/>
<text x="1720.93" y="539.00" font-size="25" text-anchor="end" fill="#000" transform="rotate(-70 1720.93 539.00)" stroke="#000" stroke-width="0.45">GSM1179033</text>
<line x1="1738.14" y1="511.50" x2="1738.14" y2="530.60" stroke="#000" stroke-width="4.2" stroke-linecap="butt"/>
<text x="1744.24" y="539.00" font-size="25" text-anchor="end" fill="#000" transform="rotate(-70 1744.24 539.00)" stroke="#000" stroke-width="0.45">GSM1179035</text>
<line x1="1761.45" y1="511.50" x2="1761.45" y2="530.60" stroke="#000" stroke-width="4.2" stroke-linecap="butt"/>
<text x="1767.55" y="539.00" font-size="25" text-anchor="end" fill="#000" transform="rotate(-70 1767.55 539.00)" stroke="#000" stroke-width="0.45">GSM1179036</text>
<line x1="1784.75" y1="511.50" x2="1784.75" y2="530.60" stroke="#000" stroke-width="4.2" stroke-linecap="butt"/>
<text x="1790.85" y="539.00" font-size="25" text-anchor="end" fill="#000" transform="rotate(-70 1790.85 539.00)" stroke="#000" stroke-width="0.45">GSM1179039</text>
<text x="23.70" y="532.60" font-size="29.6" font-weight="bold" text-anchor="start" fill="#1a1a1a" transform="rotate(-90 23.70 532.60)" textLength="500" lengthAdjust="spacingAndGlyphs">Fraction of monocyte-macrophages</text>
<text x="923.00" y="704.50" font-size="29.3" font-weight="bold" text-anchor="middle" fill="#1a1a1a">GEO accession number</text>
<rect x="1808.70" y="58.50" width="20.70" height="20.70" fill="#08bfad" stroke="#0a423c" stroke-width="1.3"/>
<text x="1832.00" y="79.00" font-size="26" text-anchor="start" fill="#000">KC</text>
<rect x="1808.70" y="86.80" width="20.70" height="20.70" fill="#0ab93a" stroke="#0d4a18" stroke-width="1.3"/>
<text x="1832.00" y="107.30" font-size="26" text-anchor="start" fill="#000">SAMac</text>
<rect x="1808.70" y="115.00" width="20.70" height="20.70" fill="#f7736c" stroke="#5a2320" stroke-width="1.3"/>
<text x="1832.00" y="135.50" font-size="26" text-anchor="start" fill="#000">TM</text>
</g>
<g id="panel-b">
<text x="211.50" y="742.00" font-size="32" font-weight="bold" text-anchor="start" fill="#1a1a1a">b</text>
<rect x="337.85" y="1035.85" width="48.30" height="21.65" fill="#3fb737" stroke="#000" stroke-width="3.2"/>
<line x1="362.00" y1="1020.75" x2="362.00" y2="1035.25" stroke="#000" stroke-width="3.2" stroke-linecap="butt"/>
<line x1="349.80" y1="1020.75" x2="374.20" y2="1020.75" stroke="#000" stroke-width="3.2" stroke-linecap="round"/>
<rect x="411.35" y="1044.10" width="48.30" height="13.40" fill="#3fb737" stroke="#000" stroke-width="3.2"/>
<line x1="435.50" y1="1035.50" x2="435.50" y2="1043.50" stroke="#000" stroke-width="3.2" stroke-linecap="butt"/>
<line x1="423.30" y1="1035.50" x2="447.70" y2="1035.50" stroke="#000" stroke-width="3.2" stroke-linecap="round"/>
<rect x="485.85" y="1042.35" width="48.30" height="15.15" fill="#3fb737" stroke="#000" stroke-width="3.2"/>
<line x1="510.00" y1="1031.25" x2="510.00" y2="1041.75" stroke="#000" stroke-width="3.2" stroke-linecap="butt"/>
<line x1="497.80" y1="1031.25" x2="522.20" y2="1031.25" stroke="#000" stroke-width="3.2" stroke-linecap="round"/>
<rect x="559.85" y="984.10" width="48.30" height="73.40" fill="#3fb737" stroke="#000" stroke-width="3.2"/>
<line x1="584.00" y1="960.75" x2="584.00" y2="983.50" stroke="#000" stroke-width="3.2" stroke-linecap="butt"/>
<line x1="571.80" y1="960.75" x2="596.20" y2="960.75" stroke="#000" stroke-width="3.2" stroke-linecap="round"/>
<line x1="313.40" y1="734.15" x2="313.40" y2="1059.10" stroke="#000" stroke-width="3.2" stroke-linecap="butt"/>
<line x1="298.90" y1="1057.50" x2="633.70" y2="1057.50" stroke="#000" stroke-width="3.2" stroke-linecap="butt"/>
<line x1="298.90" y1="735.75" x2="313.40" y2="735.75" stroke="#000" stroke-width="3.2" stroke-linecap="butt"/>
<text transform="translate(295.00 742.75) scale(0.9 1)" font-size="21.3" text-anchor="end" fill="#1a1a1a">0.8</text>
<line x1="298.90" y1="816.50" x2="313.40" y2="816.50" stroke="#000" stroke-width="3.2" stroke-linecap="butt"/>
<text transform="translate(295.00 824.40) scale(0.9 1)" font-size="21.3" text-anchor="end" fill="#1a1a1a">0.6</text>
<line x1="298.90" y1="896.50" x2="313.40" y2="896.50" stroke="#000" stroke-width="3.2" stroke-linecap="butt"/>
<text transform="translate(295.00 905.30) scale(0.9 1)" font-size="21.3" text-anchor="end" fill="#1a1a1a">0.4</text>
<line x1="298.90" y1="977.00" x2="313.40" y2="977.00" stroke="#000" stroke-width="3.2" stroke-linecap="butt"/>
<text transform="translate(295.00 986.70) scale(0.9 1)" font-size="21.3" text-anchor="end" fill="#1a1a1a">0.2</text>
<line x1="298.90" y1="1057.50" x2="313.40" y2="1057.50" stroke="#000" stroke-width="3.2" stroke-linecap="butt"/>
<text transform="translate(295.00 1068.10) scale(0.9 1)" font-size="21.3" text-anchor="end" fill="#1a1a1a">0</text>
<line x1="362.00" y1="1057.50" x2="362.00" y2="1071.00" stroke="#000" stroke-width="3.2" stroke-linecap="butt"/>
<text x="370.00" y="1086.00" font-size="20.5" text-anchor="end" fill="#1a1a1a" transform="rotate(-44 370.00 1086.00)">Control</text>
<line x1="435.50" y1="1057.50" x2="435.50" y2="1071.00" stroke="#000" stroke-width="3.2" stroke-linecap="butt"/>
<text x="440.50" y="1086.00" font-size="20.5" text-anchor="end" fill="#1a1a1a" transform="rotate(-44 440.50 1086.00)">Healthy</text>
<text x="452.50" y="1103.00" font-size="20.5" text-anchor="end" fill="#1a1a1a" transform="rotate(-44 452.50 1103.00)">obese</text>
<line x1="510.00" y1="1057.50" x2="510.00" y2="1071.00" stroke="#000" stroke-width="3.2" stroke-linecap="butt"/>
<text x="518.00" y="1086.00" font-size="20.5" text-anchor="end" fill="#1a1a1a" transform="rotate(-44 518.00 1086.00)">Steatosis</text>
<line x1="584.00" y1="1057.50" x2="584.00" y2="1071.00" stroke="#000" stroke-width="3.2" stroke-linecap="butt"/>
<text x="592.00" y="1086.00" font-size="20.5" text-anchor="end" fill="#1a1a1a" transform="rotate(-44 592.00 1086.00)">NASH</text>
<text x="470.60" y="1163.50" font-size="23.8" font-weight="bold" text-anchor="middle" fill="#1a1a1a">Liver Phenotype</text>
<text x="259.15" y="898.42" font-size="20.15" font-weight="bold" text-anchor="middle" fill="#1a1a1a" transform="rotate(-90 259.15 898.42)">Fraction of monocyte-macrophages</text>
<circle cx="360.00" cy="935.50" r="3.3" fill="#000"/>
<circle cx="363.75" cy="940.75" r="3.3" fill="#000"/>
<circle cx="362.00" cy="969.50" r="3.3" fill="#000"/>
<circle cx="365.75" cy="1048.75" r="3.3" fill="#000"/>
<circle cx="435.75" cy="931.00" r="3.3" fill="#000"/>
<circle cx="435.75" cy="958.75" r="3.3" fill="#000"/>
<circle cx="435.75" cy="975.25" r="3.3" fill="#000"/>
<circle cx="435.75" cy="997.50" r="3.3" fill="#000"/>
<circle cx="435.75" cy="1008.50" r="3.3" fill="#000"/>
<circle cx="510.00" cy="954.00" r="3.3" fill="#000"/>
<circle cx="510.00" cy="983.75" r="3.3" fill="#000"/>
<circle cx="510.00" cy="1005.50" r="3.3" fill="#000"/>
<circle cx="510.00" cy="1048.00" r="3.3" fill="#000"/>
<circle cx="584.25" cy="803.50" r="3.3" fill="#000"/>
<circle cx="584.25" cy="833.25" r="3.3" fill="#000"/>
<circle cx="584.25" cy="844.25" r="3.3" fill="#000"/>
<circle cx="584.25" cy="906.75" r="3.3" fill="#000"/>
<circle cx="584.25" cy="918.75" r="3.3" fill="#000"/>
<circle cx="578.75" cy="956.25" r="3.3" fill="#000"/>
<circle cx="590.00" cy="951.75" r="3.3" fill="#000"/>
<circle cx="584.25" cy="1001.25" r="3.3" fill="#000"/>
<circle cx="584.25" cy="1044.50" r="3.3" fill="#000"/>
<circle cx="341.25" cy="1058.00" r="3.0" fill="#000"/>
<circle cx="345.97" cy="1058.00" r="3.0" fill="#000"/>
<circle cx="350.69" cy="1058.00" r="3.0" fill="#000"/>
<circle cx="355.42" cy="1058.00" r="3.0" fill="#000"/>
<circle cx="360.14" cy="1058.00" r="3.0" fill="#000"/>
<circle cx="364.86" cy="1058.00" r="3.0" fill="#000"/>
<circle cx="369.58" cy="1058.00" r="3.0" fill="#000"/>
<circle cx="374.31" cy="1058.00" r="3.0" fill="#000"/>
<circle cx="379.03" cy="1058.00" r="3.0" fill="#000"/>
<circle cx="383.75" cy="1058.00" r="3.0" fill="#000"/>
<circle cx="413.75" cy="1058.00" r="3.0" fill="#000"/>
<circle cx="415.83" cy="1058.00" r="3.0" fill="#000"/>
<circle cx="417.92" cy="1058.00" r="3.0" fill="#000"/>
<circle cx="420.00" cy="1058.00" r="3.0" fill="#000"/>
<circle cx="422.08" cy="1058.00" r="3.0" fill="#000"/>
<circle cx="424.17" cy="1058.00" r="3.0" fill="#000"/>
<circle cx="426.25" cy="1058.00" r="3.0" fill="#000"/>
<circle cx="428.33" cy="1058.00" r="3.0" fill="#000"/>
<circle cx="430.42" cy="1058.00" r="3.0" fill="#000"/>
<circle cx="432.50" cy="1058.00" r="3.0" fill="#000"/>
<circle cx="434.58" cy="1058.00" r="3.0" fill="#000"/>
<circle cx="436.67" cy="1058.00" r="3.0" fill="#000"/>
<circle cx="438.75" cy="1058.00" r="3.0" fill="#000"/>
<circle cx="440.83" cy="1058.00" r="3.0" fill="#000"/>
<circle cx="442.92" cy="1058.00" r="3.0" fill="#000"/>
<circle cx="445.00" cy="1058.00" r="3.0" fill="#000"/>
<circle cx="447.08" cy="1058.00" r="3.0" fill="#000"/>
<circle cx="449.17" cy="1058.00" r="3.0" fill="#000"/>
<circle cx="451.25" cy="1058.00" r="3.0" fill="#000"/>
<circle cx="453.33" cy="1058.00" r="3.0" fill="#000"/>
<circle cx="455.42" cy="1058.00" r="3.0" fill="#000"/>
<circle cx="457.50" cy="1058.00" r="3.0" fill="#000"/>
<circle cx="488.75" cy="1058.00" r="3.0" fill="#000"/>
<circle cx="493.47" cy="1058.00" r="3.0" fill="#000"/>
<circle cx="498.19" cy="1058.00" r="3.0" fill="#000"/>
<circle cx="502.92" cy="1058.00" r="3.0" fill="#000"/>
<circle cx="507.64" cy="1058.00" r="3.0" fill="#000"/>
<circle cx="512.36" cy="1058.00" r="3.0" fill="#000"/>
<circle cx="517.08" cy="1058.00" r="3.0" fill="#000"/>
<circle cx="521.81" cy="1058.00" r="3.0" fill="#000"/>
<circle cx="526.53" cy="1058.00" r="3.0" fill="#000"/>
<circle cx="531.25" cy="1058.00" r="3.0" fill="#000"/>
<circle cx="563.75" cy="1058.00" r="3.0" fill="#000"/>
<circle cx="569.64" cy="1058.00" r="3.0" fill="#000"/>
<circle cx="575.54" cy="1058.00" r="3.0" fill="#000"/>
<circle cx="581.43" cy="1058.00" r="3.0" fill="#000"/>
<circle cx="587.32" cy="1058.00" r="3.0" fill="#000"/>
<circle cx="593.21" cy="1058.00" r="3.0" fill="#000"/>
<circle cx="599.11" cy="1058.00" r="3.0" fill="#000"/>
<circle cx="605.00" cy="1058.00" r="3.0" fill="#000"/>
<path d="M437.50 776.00V769.50H587.00V776.00" fill="none" stroke="#111" stroke-width="1.9"/>
<text transform="translate(514.75 765.60) scale(0.857 1)" font-size="20.1" text-anchor="middle" fill="#1a1a1a">P=0.019</text>
</g>
<g id="panel-c">
<text x="680.50" y="741.00" font-size="32" font-weight="bold" text-anchor="start" fill="#1a1a1a">c</text>
<rect x="807.60" y="1041.60" width="63.80" height="15.90" fill="#3fb737" stroke="#000" stroke-width="3.2"/>
<line x1="839.50" y1="1032.50" x2="839.50" y2="1041.00" stroke="#000" stroke-width="3.2" stroke-linecap="butt"/>
<line x1="823.80" y1="1032.50" x2="855.20" y2="1032.50" stroke="#000" stroke-width="3.2" stroke-linecap="round"/>
<rect x="904.10" y="1042.35" width="63.80" height="15.15" fill="#3fb737" stroke="#000" stroke-width="3.2"/>
<line x1="936.00" y1="1032.50" x2="936.00" y2="1041.75" stroke="#000" stroke-width="3.2" stroke-linecap="butt"/>
<line x1="920.30" y1="1032.50" x2="951.70" y2="1032.50" stroke="#000" stroke-width="3.2" stroke-linecap="round"/>
<rect x="1000.35" y="979.60" width="63.80" height="77.90" fill="#3fb737" stroke="#000" stroke-width="3.2"/>
<line x1="1032.25" y1="956.25" x2="1032.25" y2="979.00" stroke="#000" stroke-width="3.2" stroke-linecap="butt"/>
<line x1="1016.55" y1="956.25" x2="1047.95" y2="956.25" stroke="#000" stroke-width="3.2" stroke-linecap="round"/>
<line x1="775.50" y1="734.15" x2="775.50" y2="1059.10" stroke="#000" stroke-width="3.2" stroke-linecap="butt"/>
<line x1="761.00" y1="1057.50" x2="1096.00" y2="1057.50" stroke="#000" stroke-width="3.2" stroke-linecap="butt"/>
<line x1="761.00" y1="735.75" x2="775.50" y2="735.75" stroke="#000" stroke-width="3.2" stroke-linecap="butt"/>
<text transform="translate(755.70 741.55) scale(0.9 1)" font-size="21.3" text-anchor="end" fill="#1a1a1a">0.8</text>
<line x1="761.00" y1="816.50" x2="775.50" y2="816.50" stroke="#000" stroke-width="3.2" stroke-linecap="butt"/>
<text transform="translate(755.70 823.25) scale(0.9 1)" font-size="21.3" text-anchor="end" fill="#1a1a1a">0.6</text>
<line x1="761.00" y1="896.50" x2="775.50" y2="896.50" stroke="#000" stroke-width="3.2" stroke-linecap="butt"/>
<text transform="translate(755.70 904.20) scale(0.9 1)" font-size="21.3" text-anchor="end" fill="#1a1a1a">0.4</text>
<line x1="761.00" y1="977.00" x2="775.50" y2="977.00" stroke="#000" stroke-width="3.2" stroke-linecap="butt"/>
<text transform="translate(755.70 985.65) scale(0.9 1)" font-size="21.3" text-anchor="end" fill="#1a1a1a">0.2</text>
<line x1="761.00" y1="1057.50" x2="775.50" y2="1057.50" stroke="#000" stroke-width="3.2" stroke-linecap="butt"/>
<text transform="translate(755.70 1067.10) scale(0.9 1)" font-size="21.3" text-anchor="end" fill="#1a1a1a">0</text>
<line x1="839.50" y1="1057.50" x2="839.50" y2="1071.00" stroke="#000" stroke-width="3.2" stroke-linecap="butt"/>
<text transform="translate(839.50 1096.00) scale(0.97 1)" font-size="21" text-anchor="middle" fill="#1a1a1a">0</text>
<line x1="936.00" y1="1057.50" x2="936.00" y2="1071.00" stroke="#000" stroke-width="3.2" stroke-linecap="butt"/>
<text transform="translate(936.00 1096.00) scale(0.97 1)" font-size="21" text-anchor="middle" fill="#1a1a1a">1-3</text>
<line x1="1032.25" y1="1057.50" x2="1032.25" y2="1071.00" stroke="#000" stroke-width="3.2" stroke-linecap="butt"/>
<text transform="translate(1032.25 1096.00) scale(0.97 1)" font-size="21" text-anchor="middle" fill="#1a1a1a">4-7</text>
<text x="937.00" y="1122.00" font-size="23.8" font-weight="bold" text-anchor="middle" fill="#1a1a1a">NAS score</text>
<text x="718.50" y="898.42" font-size="20.15" font-weight="bold" text-anchor="middle" fill="#1a1a1a" transform="rotate(-90 718.50 898.42)">Fraction of monocyte-macrophages</text>
<circle cx="839.50" cy="931.00" r="3.3" fill="#000"/>
<circle cx="840.75" cy="935.50" r="3.3" fill="#000"/>
<circle cx="838.00" cy="940.75" r="3.3" fill="#000"/>
<circle cx="839.50" cy="958.75" r="3.3" fill="#000"/>
<circle cx="839.50" cy="969.50" r="3.3" fill="#000"/>
<circle cx="839.50" cy="997.50" r="3.3" fill="#000"/>
<circle cx="839.50" cy="1008.25" r="3.3" fill="#000"/>
<circle cx="828.75" cy="1048.75" r="3.3" fill="#000"/>
<circle cx="936.00" cy="954.00" r="3.3" fill="#000"/>
<circle cx="933.50" cy="975.00" r="3.3" fill="#000"/>
<circle cx="938.25" cy="983.75" r="3.3" fill="#000"/>
<circle cx="936.00" cy="1005.50" r="3.3" fill="#000"/>
<circle cx="936.00" cy="1048.00" r="3.3" fill="#000"/>
<circle cx="1032.25" cy="803.25" r="3.3" fill="#000"/>
<circle cx="1032.25" cy="832.75" r="3.3" fill="#000"/>
<circle cx="1032.25" cy="844.25" r="3.3" fill="#000"/>
<circle cx="1032.25" cy="906.25" r="3.3" fill="#000"/>
<circle cx="1032.25" cy="918.75" r="3.3" fill="#000"/>
<circle cx="1023.00" cy="951.75" r="3.3" fill="#000"/>
<circle cx="1032.25" cy="956.25" r="3.3" fill="#000"/>
<circle cx="1041.25" cy="956.25" r="3.3" fill="#000"/>
<circle cx="1032.25" cy="1001.25" r="3.3" fill="#000"/>
<circle cx="1032.25" cy="1044.50" r="3.3" fill="#000"/>
<circle cx="810.00" cy="1058.00" r="3.0" fill="#000"/>
<circle cx="812.18" cy="1058.00" r="3.0" fill="#000"/>
<circle cx="814.35" cy="1058.00" r="3.0" fill="#000"/>
<circle cx="816.53" cy="1058.00" r="3.0" fill="#000"/>
<circle cx="818.70" cy="1058.00" r="3.0" fill="#000"/>
<circle cx="820.88" cy="1058.00" r="3.0" fill="#000"/>
<circle cx="823.06" cy="1058.00" r="3.0" fill="#000"/>
<circle cx="825.23" cy="1058.00" r="3.0" fill="#000"/>
<circle cx="827.41" cy="1058.00" r="3.0" fill="#000"/>
<circle cx="829.58" cy="1058.00" r="3.0" fill="#000"/>
<circle cx="831.76" cy="1058.00" r="3.0" fill="#000"/>
<circle cx="833.94" cy="1058.00" r="3.0" fill="#000"/>
<circle cx="836.11" cy="1058.00" r="3.0" fill="#000"/>
<circle cx="838.29" cy="1058.00" r="3.0" fill="#000"/>
<circle cx="840.46" cy="1058.00" r="3.0" fill="#000"/>
<circle cx="842.64" cy="1058.00" r="3.0" fill="#000"/>
<circle cx="844.81" cy="1058.00" r="3.0" fill="#000"/>
<circle cx="846.99" cy="1058.00" r="3.0" fill="#000"/>
<circle cx="849.17" cy="1058.00" r="3.0" fill="#000"/>
<circle cx="851.34" cy="1058.00" r="3.0" fill="#000"/>
<circle cx="853.52" cy="1058.00" r="3.0" fill="#000"/>
<circle cx="855.69" cy="1058.00" r="3.0" fill="#000"/>
<circle cx="857.87" cy="1058.00" r="3.0" fill="#000"/>
<circle cx="860.05" cy="1058.00" r="3.0" fill="#000"/>
<circle cx="862.22" cy="1058.00" r="3.0" fill="#000"/>
<circle cx="864.40" cy="1058.00" r="3.0" fill="#000"/>
<circle cx="866.57" cy="1058.00" r="3.0" fill="#000"/>
<circle cx="868.75" cy="1058.00" r="3.0" fill="#000"/>
<circle cx="906.25" cy="1058.00" r="3.0" fill="#000"/>
<circle cx="910.77" cy="1058.00" r="3.0" fill="#000"/>
<circle cx="915.29" cy="1058.00" r="3.0" fill="#000"/>
<circle cx="919.81" cy="1058.00" r="3.0" fill="#000"/>
<circle cx="924.33" cy="1058.00" r="3.0" fill="#000"/>
<circle cx="928.85" cy="1058.00" r="3.0" fill="#000"/>
<circle cx="933.37" cy="1058.00" r="3.0" fill="#000"/>
<circle cx="937.88" cy="1058.00" r="3.0" fill="#000"/>
<circle cx="942.40" cy="1058.00" r="3.0" fill="#000"/>
<circle cx="946.92" cy="1058.00" r="3.0" fill="#000"/>
<circle cx="951.44" cy="1058.00" r="3.0" fill="#000"/>
<circle cx="955.96" cy="1058.00" r="3.0" fill="#000"/>
<circle cx="960.48" cy="1058.00" r="3.0" fill="#000"/>
<circle cx="965.00" cy="1058.00" r="3.0" fill="#000"/>
<circle cx="1005.00" cy="1058.00" r="3.0" fill="#000"/>
<circle cx="1014.08" cy="1058.00" r="3.0" fill="#000"/>
<circle cx="1023.17" cy="1058.00" r="3.0" fill="#000"/>
<circle cx="1032.25" cy="1058.00" r="3.0" fill="#000"/>
<circle cx="1041.33" cy="1058.00" r="3.0" fill="#000"/>
<circle cx="1050.42" cy="1058.00" r="3.0" fill="#000"/>
<circle cx="1059.50" cy="1058.00" r="3.0" fill="#000"/>
<path d="M840.50 747.25V740.75H1034.25V747.25" fill="none" stroke="#111" stroke-width="1.9"/>
<text transform="translate(937.50 737.60) scale(0.857 1)" font-size="20.1" text-anchor="middle" fill="#1a1a1a">P=0.0095</text>
<path d="M937.00 776.50V770.00H1034.25V776.50" fill="none" stroke="#111" stroke-width="1.9"/>
<text transform="translate(982.50 766.85) scale(0.857 1)" font-size="20.1" text-anchor="middle" fill="#1a1a1a">P=0.0317</text>
<rect x="1267.60" y="1044.85" width="63.80" height="10.90" fill="#3fb737" stroke="#000" stroke-width="3.2"/>
<line x1="1299.50" y1="1038.00" x2="1299.50" y2="1044.25" stroke="#000" stroke-width="3.2" stroke-linecap="butt"/>
<line x1="1283.80" y1="1038.00" x2="1315.20" y2="1038.00" stroke="#000" stroke-width="3.2" stroke-linecap="round"/>
<rect x="1364.10" y="1006.10" width="63.80" height="49.65" fill="#3fb737" stroke="#000" stroke-width="3.2"/>
<line x1="1396.00" y1="988.00" x2="1396.00" y2="1005.50" stroke="#000" stroke-width="3.2" stroke-linecap="butt"/>
<line x1="1380.30" y1="988.00" x2="1411.70" y2="988.00" stroke="#000" stroke-width="3.2" stroke-linecap="round"/>
<rect x="1460.85" y="924.60" width="63.80" height="131.15" fill="#3fb737" stroke="#000" stroke-width="3.2"/>
<line x1="1492.75" y1="882.00" x2="1492.75" y2="924.00" stroke="#000" stroke-width="3.2" stroke-linecap="butt"/>
<line x1="1477.05" y1="882.00" x2="1508.45" y2="882.00" stroke="#000" stroke-width="3.2" stroke-linecap="round"/>
<line x1="1235.50" y1="732.65" x2="1235.50" y2="1057.35" stroke="#000" stroke-width="3.2" stroke-linecap="butt"/>
<line x1="1221.00" y1="1055.75" x2="1556.25" y2="1055.75" stroke="#000" stroke-width="3.2" stroke-linecap="butt"/>
<line x1="1221.00" y1="734.25" x2="1235.50" y2="734.25" stroke="#000" stroke-width="3.2" stroke-linecap="butt"/>
<text transform="translate(1216.00 741.25) scale(0.9 1)" font-size="21.3" text-anchor="end" fill="#1a1a1a">0.8</text>
<line x1="1221.00" y1="815.00" x2="1235.50" y2="815.00" stroke="#000" stroke-width="3.2" stroke-linecap="butt"/>
<text transform="translate(1216.00 822.98) scale(0.9 1)" font-size="21.3" text-anchor="end" fill="#1a1a1a">0.6</text>
<line x1="1221.00" y1="895.25" x2="1235.50" y2="895.25" stroke="#000" stroke-width="3.2" stroke-linecap="butt"/>
<text transform="translate(1216.00 904.21) scale(0.9 1)" font-size="21.3" text-anchor="end" fill="#1a1a1a">0.4</text>
<line x1="1221.00" y1="975.50" x2="1235.50" y2="975.50" stroke="#000" stroke-width="3.2" stroke-linecap="butt"/>
<text transform="translate(1216.00 985.44) scale(0.9 1)" font-size="21.3" text-anchor="end" fill="#1a1a1a">0.2</text>
<line x1="1221.00" y1="1055.75" x2="1235.50" y2="1055.75" stroke="#000" stroke-width="3.2" stroke-linecap="butt"/>
<text transform="translate(1216.00 1066.67) scale(0.9 1)" font-size="21.3" text-anchor="end" fill="#1a1a1a">0</text>
<line x1="1299.50" y1="1055.75" x2="1299.50" y2="1069.25" stroke="#000" stroke-width="3.2" stroke-linecap="butt"/>
<text transform="translate(1299.50 1096.00) scale(0.97 1)" font-size="21" text-anchor="middle" fill="#1a1a1a">0</text>
<line x1="1396.00" y1="1055.75" x2="1396.00" y2="1069.25" stroke="#000" stroke-width="3.2" stroke-linecap="butt"/>
<text transform="translate(1396.00 1096.00) scale(0.97 1)" font-size="21" text-anchor="middle" fill="#1a1a1a">1</text>
<line x1="1492.75" y1="1055.75" x2="1492.75" y2="1069.25" stroke="#000" stroke-width="3.2" stroke-linecap="butt"/>
<text transform="translate(1492.75 1096.00) scale(0.97 1)" font-size="21" text-anchor="middle" fill="#1a1a1a">2-4</text>
<text x="1396.90" y="1122.00" font-size="23.8" font-weight="bold" text-anchor="middle" fill="#1a1a1a">Fibrosis score</text>
<text x="1177.50" y="896.80" font-size="20.15" font-weight="bold" text-anchor="middle" fill="#1a1a1a" transform="rotate(-90 1177.50 896.80)">Fraction of monocyte-macrophages</text>
<circle cx="1299.50" cy="929.75" r="3.3" fill="#000"/>
<circle cx="1299.50" cy="952.50" r="3.3" fill="#000"/>
<circle cx="1298.25" cy="957.00" r="3.3" fill="#000"/>
<circle cx="1301.25" cy="957.50" r="3.3" fill="#000"/>
<circle cx="1299.50" cy="968.00" r="3.3" fill="#000"/>
<circle cx="1299.50" cy="995.75" r="3.3" fill="#000"/>
<circle cx="1299.50" cy="1042.50" r="3.3" fill="#000"/>
<circle cx="1327.50" cy="1047.50" r="3.3" fill="#000"/>
<circle cx="1396.00" cy="831.25" r="3.3" fill="#000"/>
<circle cx="1396.00" cy="843.00" r="3.3" fill="#000"/>
<circle cx="1396.00" cy="939.00" r="3.3" fill="#000"/>
<circle cx="1392.50" cy="950.25" r="3.3" fill="#000"/>
<circle cx="1399.00" cy="953.75" r="3.3" fill="#000"/>
<circle cx="1399.00" cy="973.75" r="3.3" fill="#000"/>
<circle cx="1392.50" cy="981.75" r="3.3" fill="#000"/>
<circle cx="1399.00" cy="999.50" r="3.3" fill="#000"/>
<circle cx="1392.50" cy="1002.50" r="3.3" fill="#000"/>
<circle cx="1396.00" cy="1046.25" r="3.3" fill="#000"/>
<circle cx="1492.75" cy="801.75" r="3.3" fill="#000"/>
<circle cx="1492.75" cy="904.50" r="3.3" fill="#000"/>
<circle cx="1492.75" cy="917.25" r="3.3" fill="#000"/>
<circle cx="1492.75" cy="934.00" r="3.3" fill="#000"/>
<circle cx="1492.75" cy="1055.75" r="3.3" fill="#000"/>
<circle cx="1270.00" cy="1056.25" r="3.0" fill="#000"/>
<circle cx="1272.13" cy="1056.25" r="3.0" fill="#000"/>
<circle cx="1274.26" cy="1056.25" r="3.0" fill="#000"/>
<circle cx="1276.39" cy="1056.25" r="3.0" fill="#000"/>
<circle cx="1278.52" cy="1056.25" r="3.0" fill="#000"/>
<circle cx="1280.65" cy="1056.25" r="3.0" fill="#000"/>
<circle cx="1282.78" cy="1056.25" r="3.0" fill="#000"/>
<circle cx="1284.91" cy="1056.25" r="3.0" fill="#000"/>
<circle cx="1287.04" cy="1056.25" r="3.0" fill="#000"/>
<circle cx="1289.17" cy="1056.25" r="3.0" fill="#000"/>
<circle cx="1291.30" cy="1056.25" r="3.0" fill="#000"/>
<circle cx="1293.43" cy="1056.25" r="3.0" fill="#000"/>
<circle cx="1295.56" cy="1056.25" r="3.0" fill="#000"/>
<circle cx="1297.69" cy="1056.25" r="3.0" fill="#000"/>
<circle cx="1299.81" cy="1056.25" r="3.0" fill="#000"/>
<circle cx="1301.94" cy="1056.25" r="3.0" fill="#000"/>
<circle cx="1304.07" cy="1056.25" r="3.0" fill="#000"/>
<circle cx="1306.20" cy="1056.25" r="3.0" fill="#000"/>
<circle cx="1308.33" cy="1056.25" r="3.0" fill="#000"/>
<circle cx="1310.46" cy="1056.25" r="3.0" fill="#000"/>
<circle cx="1312.59" cy="1056.25" r="3.0" fill="#000"/>
<circle cx="1314.72" cy="1056.25" r="3.0" fill="#000"/>
<circle cx="1316.85" cy="1056.25" r="3.0" fill="#000"/>
<circle cx="1318.98" cy="1056.25" r="3.0" fill="#000"/>
<circle cx="1321.11" cy="1056.25" r="3.0" fill="#000"/>
<circle cx="1323.24" cy="1056.25" r="3.0" fill="#000"/>
<circle cx="1325.37" cy="1056.25" r="3.0" fill="#000"/>
<circle cx="1327.50" cy="1056.25" r="3.0" fill="#000"/>
<circle cx="1367.50" cy="1056.25" r="3.0" fill="#000"/>
<circle cx="1373.25" cy="1056.25" r="3.0" fill="#000"/>
<circle cx="1379.00" cy="1056.25" r="3.0" fill="#000"/>
<circle cx="1384.75" cy="1056.25" r="3.0" fill="#000"/>
<circle cx="1390.50" cy="1056.25" r="3.0" fill="#000"/>
<circle cx="1396.25" cy="1056.25" r="3.0" fill="#000"/>
<circle cx="1402.00" cy="1056.25" r="3.0" fill="#000"/>
<circle cx="1407.75" cy="1056.25" r="3.0" fill="#000"/>
<circle cx="1413.50" cy="1056.25" r="3.0" fill="#000"/>
<circle cx="1419.25" cy="1056.25" r="3.0" fill="#000"/>
<circle cx="1425.00" cy="1056.25" r="3.0" fill="#000"/>
<path d="M1300.00 747.25V740.75H1494.50V747.25" fill="none" stroke="#111" stroke-width="1.9"/>
<text transform="translate(1397.25 737.60) scale(0.857 1)" font-size="20.1" text-anchor="middle" fill="#1a1a1a">P=0.0014</text>
<path d="M1300.50 776.50V770.00H1398.00V776.50" fill="none" stroke="#111" stroke-width="1.9"/>
<text transform="translate(1350.90 766.60) scale(0.857 1)" font-size="20.1" text-anchor="middle" fill="#1a1a1a">P=0.0409</text>
</g>
<g id="panel-d">
<text x="211.50" y="1187.50" font-size="32" font-weight="bold" text-anchor="start" fill="#1a1a1a">d</text>
<rect x="359.73" y="1481.60" width="90.05" height="25.30" fill="#3fb737" stroke="#000" stroke-width="3.2"/>
<line x1="404.75" y1="1472.00" x2="404.75" y2="1481.00" stroke="#000" stroke-width="3.2" stroke-linecap="butt"/>
<line x1="382.55" y1="1472.00" x2="426.95" y2="1472.00" stroke="#000" stroke-width="3.2" stroke-linecap="round"/>
<rect x="496.73" y="1462.35" width="90.05" height="44.55" fill="#3fb737" stroke="#000" stroke-width="3.2"/>
<line x1="541.75" y1="1438.00" x2="541.75" y2="1461.75" stroke="#000" stroke-width="3.2" stroke-linecap="butt"/>
<line x1="519.55" y1="1438.00" x2="563.95" y2="1438.00" stroke="#000" stroke-width="3.2" stroke-linecap="round"/>
<line x1="313.40" y1="1184.40" x2="313.40" y2="1508.50" stroke="#000" stroke-width="3.2" stroke-linecap="butt"/>
<line x1="298.90" y1="1506.90" x2="633.70" y2="1506.90" stroke="#000" stroke-width="3.2" stroke-linecap="butt"/>
<line x1="298.90" y1="1186.00" x2="313.40" y2="1186.00" stroke="#000" stroke-width="3.2" stroke-linecap="butt"/>
<text transform="translate(294.40 1194.50) scale(0.9 1)" font-size="21.3" text-anchor="end" fill="#1a1a1a">0.8</text>
<line x1="298.90" y1="1266.60" x2="313.40" y2="1266.60" stroke="#000" stroke-width="3.2" stroke-linecap="butt"/>
<text transform="translate(294.40 1276.00) scale(0.9 1)" font-size="21.3" text-anchor="end" fill="#1a1a1a">0.6</text>
<line x1="298.90" y1="1346.70" x2="313.40" y2="1346.70" stroke="#000" stroke-width="3.2" stroke-linecap="butt"/>
<text transform="translate(294.40 1357.00) scale(0.9 1)" font-size="21.3" text-anchor="end" fill="#1a1a1a">0.4</text>
<line x1="298.90" y1="1426.80" x2="313.40" y2="1426.80" stroke="#000" stroke-width="3.2" stroke-linecap="butt"/>
<text transform="translate(294.40 1438.00) scale(0.9 1)" font-size="21.3" text-anchor="end" fill="#1a1a1a">0.2</text>
<line x1="298.90" y1="1506.90" x2="313.40" y2="1506.90" stroke="#000" stroke-width="3.2" stroke-linecap="butt"/>
<text transform="translate(294.40 1519.00) scale(0.9 1)" font-size="21.3" text-anchor="end" fill="#1a1a1a">0</text>
<line x1="404.75" y1="1506.90" x2="404.75" y2="1520.40" stroke="#000" stroke-width="3.2" stroke-linecap="butt"/>
<text transform="translate(404.75 1541.00) scale(0.97 1)" font-size="21" text-anchor="middle" fill="#1a1a1a">Female</text>
<line x1="541.75" y1="1506.90" x2="541.75" y2="1520.40" stroke="#000" stroke-width="3.2" stroke-linecap="butt"/>
<text transform="translate(541.75 1541.00) scale(0.97 1)" font-size="21" text-anchor="middle" fill="#1a1a1a">Male</text>
<text x="471.40" y="1566.25" font-size="23.8" font-weight="bold" text-anchor="middle" fill="#1a1a1a">Sex</text>
<text x="259.15" y="1348.25" font-size="20.15" font-weight="bold" text-anchor="middle" fill="#1a1a1a" transform="rotate(-90 259.15 1348.25)">Fraction of monocyte-macrophages</text>
<circle cx="404.75" cy="1283.00" r="3.3" fill="#000"/>
<circle cx="404.75" cy="1356.25" r="3.3" fill="#000"/>
<circle cx="404.75" cy="1368.75" r="3.3" fill="#000"/>
<circle cx="404.75" cy="1381.00" r="3.3" fill="#000"/>
<circle cx="405.50" cy="1385.50" r="3.3" fill="#000"/>
<circle cx="403.75" cy="1390.50" r="3.3" fill="#000"/>
<circle cx="407.50" cy="1403.75" r="3.3" fill="#000"/>
<circle cx="402.00" cy="1407.00" r="3.3" fill="#000"/>
<circle cx="405.50" cy="1408.75" r="3.3" fill="#000"/>
<circle cx="403.75" cy="1425.00" r="3.3" fill="#000"/>
<circle cx="405.50" cy="1433.25" r="3.3" fill="#000"/>
<circle cx="404.75" cy="1447.00" r="3.3" fill="#000"/>
<circle cx="403.00" cy="1451.25" r="3.3" fill="#000"/>
<circle cx="405.50" cy="1458.00" r="3.3" fill="#000"/>
<circle cx="403.75" cy="1493.75" r="3.3" fill="#000"/>
<circle cx="405.50" cy="1497.50" r="3.3" fill="#000"/>
<circle cx="373.25" cy="1498.25" r="3.3" fill="#000"/>
<circle cx="541.75" cy="1253.75" r="3.3" fill="#000"/>
<circle cx="541.75" cy="1295.00" r="3.3" fill="#000"/>
<circle cx="541.75" cy="1401.75" r="3.3" fill="#000"/>
<circle cx="541.75" cy="1419.50" r="3.3" fill="#000"/>
<circle cx="541.75" cy="1455.00" r="3.3" fill="#000"/>
<circle cx="362.50" cy="1507.40" r="3.0" fill="#000"/>
<circle cx="364.68" cy="1507.40" r="3.0" fill="#000"/>
<circle cx="366.86" cy="1507.40" r="3.0" fill="#000"/>
<circle cx="369.04" cy="1507.40" r="3.0" fill="#000"/>
<circle cx="371.22" cy="1507.40" r="3.0" fill="#000"/>
<circle cx="373.40" cy="1507.40" r="3.0" fill="#000"/>
<circle cx="375.58" cy="1507.40" r="3.0" fill="#000"/>
<circle cx="377.76" cy="1507.40" r="3.0" fill="#000"/>
<circle cx="379.94" cy="1507.40" r="3.0" fill="#000"/>
<circle cx="382.12" cy="1507.40" r="3.0" fill="#000"/>
<circle cx="384.29" cy="1507.40" r="3.0" fill="#000"/>
<circle cx="386.47" cy="1507.40" r="3.0" fill="#000"/>
<circle cx="388.65" cy="1507.40" r="3.0" fill="#000"/>
<circle cx="390.83" cy="1507.40" r="3.0" fill="#000"/>
<circle cx="393.01" cy="1507.40" r="3.0" fill="#000"/>
<circle cx="395.19" cy="1507.40" r="3.0" fill="#000"/>
<circle cx="397.37" cy="1507.40" r="3.0" fill="#000"/>
<circle cx="399.55" cy="1507.40" r="3.0" fill="#000"/>
<circle cx="401.73" cy="1507.40" r="3.0" fill="#000"/>
<circle cx="403.91" cy="1507.40" r="3.0" fill="#000"/>
<circle cx="406.09" cy="1507.40" r="3.0" fill="#000"/>
<circle cx="408.27" cy="1507.40" r="3.0" fill="#000"/>
<circle cx="410.45" cy="1507.40" r="3.0" fill="#000"/>
<circle cx="412.63" cy="1507.40" r="3.0" fill="#000"/>
<circle cx="414.81" cy="1507.40" r="3.0" fill="#000"/>
<circle cx="416.99" cy="1507.40" r="3.0" fill="#000"/>
<circle cx="419.17" cy="1507.40" r="3.0" fill="#000"/>
<circle cx="421.35" cy="1507.40" r="3.0" fill="#000"/>
<circle cx="423.53" cy="1507.40" r="3.0" fill="#000"/>
<circle cx="425.71" cy="1507.40" r="3.0" fill="#000"/>
<circle cx="427.88" cy="1507.40" r="3.0" fill="#000"/>
<circle cx="430.06" cy="1507.40" r="3.0" fill="#000"/>
<circle cx="432.24" cy="1507.40" r="3.0" fill="#000"/>
<circle cx="434.42" cy="1507.40" r="3.0" fill="#000"/>
<circle cx="436.60" cy="1507.40" r="3.0" fill="#000"/>
<circle cx="438.78" cy="1507.40" r="3.0" fill="#000"/>
<circle cx="440.96" cy="1507.40" r="3.0" fill="#000"/>
<circle cx="443.14" cy="1507.40" r="3.0" fill="#000"/>
<circle cx="445.32" cy="1507.40" r="3.0" fill="#000"/>
<circle cx="447.50" cy="1507.40" r="3.0" fill="#000"/>
<circle cx="501.25" cy="1507.40" r="3.0" fill="#000"/>
<circle cx="510.22" cy="1507.40" r="3.0" fill="#000"/>
<circle cx="519.19" cy="1507.40" r="3.0" fill="#000"/>
<circle cx="528.17" cy="1507.40" r="3.0" fill="#000"/>
<circle cx="537.14" cy="1507.40" r="3.0" fill="#000"/>
<circle cx="546.11" cy="1507.40" r="3.0" fill="#000"/>
<circle cx="555.08" cy="1507.40" r="3.0" fill="#000"/>
<circle cx="564.06" cy="1507.40" r="3.0" fill="#000"/>
<circle cx="573.03" cy="1507.40" r="3.0" fill="#000"/>
<circle cx="582.00" cy="1507.40" r="3.0" fill="#000"/>
<rect x="804.10" y="1493.60" width="63.80" height="13.30" fill="#3fb737" stroke="#000" stroke-width="3.2"/>
<line x1="836.00" y1="1483.75" x2="836.00" y2="1493.00" stroke="#000" stroke-width="3.2" stroke-linecap="butt"/>
<line x1="820.05" y1="1483.75" x2="851.95" y2="1483.75" stroke="#000" stroke-width="3.2" stroke-linecap="round"/>
<rect x="900.60" y="1468.35" width="63.80" height="38.55" fill="#3fb737" stroke="#000" stroke-width="3.2"/>
<line x1="932.50" y1="1452.75" x2="932.50" y2="1467.75" stroke="#000" stroke-width="3.2" stroke-linecap="butt"/>
<line x1="916.55" y1="1452.75" x2="948.45" y2="1452.75" stroke="#000" stroke-width="3.2" stroke-linecap="round"/>
<rect x="997.10" y="1474.35" width="63.80" height="32.55" fill="#3fb737" stroke="#000" stroke-width="3.2"/>
<line x1="1029.00" y1="1459.00" x2="1029.00" y2="1473.75" stroke="#000" stroke-width="3.2" stroke-linecap="butt"/>
<line x1="1013.05" y1="1459.00" x2="1044.95" y2="1459.00" stroke="#000" stroke-width="3.2" stroke-linecap="round"/>
<line x1="771.75" y1="1184.40" x2="771.75" y2="1508.50" stroke="#000" stroke-width="3.2" stroke-linecap="butt"/>
<line x1="757.25" y1="1506.90" x2="1092.50" y2="1506.90" stroke="#000" stroke-width="3.2" stroke-linecap="butt"/>
<line x1="757.25" y1="1186.00" x2="771.75" y2="1186.00" stroke="#000" stroke-width="3.2" stroke-linecap="butt"/>
<text transform="translate(755.55 1194.10) scale(0.9 1)" font-size="21.3" text-anchor="end" fill="#1a1a1a">0.8</text>
<line x1="757.25" y1="1266.60" x2="771.75" y2="1266.60" stroke="#000" stroke-width="3.2" stroke-linecap="butt"/>
<text transform="translate(755.55 1275.60) scale(0.9 1)" font-size="21.3" text-anchor="end" fill="#1a1a1a">0.6</text>
<line x1="757.25" y1="1346.70" x2="771.75" y2="1346.70" stroke="#000" stroke-width="3.2" stroke-linecap="butt"/>
<text transform="translate(755.55 1356.60) scale(0.9 1)" font-size="21.3" text-anchor="end" fill="#1a1a1a">0.4</text>
<line x1="757.25" y1="1426.80" x2="771.75" y2="1426.80" stroke="#000" stroke-width="3.2" stroke-linecap="butt"/>
<text transform="translate(755.55 1437.60) scale(0.9 1)" font-size="21.3" text-anchor="end" fill="#1a1a1a">0.2</text>
<line x1="757.25" y1="1506.90" x2="771.75" y2="1506.90" stroke="#000" stroke-width="3.2" stroke-linecap="butt"/>
<text transform="translate(755.55 1518.60) scale(0.9 1)" font-size="21.3" text-anchor="end" fill="#1a1a1a">0</text>
<line x1="836.00" y1="1506.90" x2="836.00" y2="1520.40" stroke="#000" stroke-width="3.2" stroke-linecap="butt"/>
<text transform="translate(836.00 1541.25) scale(0.97 1)" font-size="21" text-anchor="middle" fill="#1a1a1a">23-39</text>
<line x1="932.50" y1="1506.90" x2="932.50" y2="1520.40" stroke="#000" stroke-width="3.2" stroke-linecap="butt"/>
<text transform="translate(932.50 1541.25) scale(0.97 1)" font-size="21" text-anchor="middle" fill="#1a1a1a">40-49</text>
<line x1="1029.00" y1="1506.90" x2="1029.00" y2="1520.40" stroke="#000" stroke-width="3.2" stroke-linecap="butt"/>
<text transform="translate(1029.00 1541.25) scale(0.97 1)" font-size="21" text-anchor="middle" fill="#1a1a1a">50-80</text>
<text x="928.60" y="1565.50" font-size="23.8" font-weight="bold" text-anchor="middle" fill="#1a1a1a">Age</text>
<text x="716.75" y="1348.25" font-size="20.15" font-weight="bold" text-anchor="middle" fill="#1a1a1a" transform="rotate(-90 716.75 1348.25)">Fraction of monocyte-macrophages</text>
<circle cx="836.00" cy="1385.75" r="3.3" fill="#000"/>
<circle cx="836.00" cy="1404.50" r="3.3" fill="#000"/>
<circle cx="834.25" cy="1447.50" r="3.3" fill="#000"/>
<circle cx="837.75" cy="1455.75" r="3.3" fill="#000"/>
<circle cx="836.00" cy="1495.00" r="3.3" fill="#000"/>
<circle cx="837.75" cy="1498.25" r="3.3" fill="#000"/>
<circle cx="932.50" cy="1254.00" r="3.3" fill="#000"/>
<circle cx="932.50" cy="1295.00" r="3.3" fill="#000"/>
<circle cx="932.50" cy="1356.75" r="3.3" fill="#000"/>
<circle cx="932.50" cy="1369.00" r="3.3" fill="#000"/>
<circle cx="932.50" cy="1381.50" r="3.3" fill="#000"/>
<circle cx="932.50" cy="1402.00" r="3.3" fill="#000"/>
<circle cx="930.75" cy="1425.50" r="3.3" fill="#000"/>
<circle cx="933.75" cy="1434.25" r="3.3" fill="#000"/>
<circle cx="932.00" cy="1458.75" r="3.3" fill="#000"/>
<circle cx="925.00" cy="1499.00" r="3.3" fill="#000"/>
<circle cx="1029.00" cy="1283.25" r="3.3" fill="#000"/>
<circle cx="1029.00" cy="1390.75" r="3.3" fill="#000"/>
<circle cx="1029.00" cy="1406.25" r="3.3" fill="#000"/>
<circle cx="1025.00" cy="1409.00" r="3.3" fill="#000"/>
<circle cx="1033.00" cy="1409.00" r="3.3" fill="#000"/>
<circle cx="1029.00" cy="1420.00" r="3.3" fill="#000"/>
<circle cx="1029.00" cy="1451.50" r="3.3" fill="#000"/>
<circle cx="806.25" cy="1507.40" r="3.0" fill="#000"/>
<circle cx="809.05" cy="1507.40" r="3.0" fill="#000"/>
<circle cx="811.85" cy="1507.40" r="3.0" fill="#000"/>
<circle cx="814.64" cy="1507.40" r="3.0" fill="#000"/>
<circle cx="817.44" cy="1507.40" r="3.0" fill="#000"/>
<circle cx="820.24" cy="1507.40" r="3.0" fill="#000"/>
<circle cx="823.04" cy="1507.40" r="3.0" fill="#000"/>
<circle cx="825.83" cy="1507.40" r="3.0" fill="#000"/>
<circle cx="828.63" cy="1507.40" r="3.0" fill="#000"/>
<circle cx="831.43" cy="1507.40" r="3.0" fill="#000"/>
<circle cx="834.23" cy="1507.40" r="3.0" fill="#000"/>
<circle cx="837.02" cy="1507.40" r="3.0" fill="#000"/>
<circle cx="839.82" cy="1507.40" r="3.0" fill="#000"/>
<circle cx="842.62" cy="1507.40" r="3.0" fill="#000"/>
<circle cx="845.42" cy="1507.40" r="3.0" fill="#000"/>
<circle cx="848.21" cy="1507.40" r="3.0" fill="#000"/>
<circle cx="851.01" cy="1507.40" r="3.0" fill="#000"/>
<circle cx="853.81" cy="1507.40" r="3.0" fill="#000"/>
<circle cx="856.61" cy="1507.40" r="3.0" fill="#000"/>
<circle cx="859.40" cy="1507.40" r="3.0" fill="#000"/>
<circle cx="862.20" cy="1507.40" r="3.0" fill="#000"/>
<circle cx="865.00" cy="1507.40" r="3.0" fill="#000"/>
<circle cx="903.75" cy="1507.40" r="3.0" fill="#000"/>
<circle cx="905.88" cy="1507.40" r="3.0" fill="#000"/>
<circle cx="908.01" cy="1507.40" r="3.0" fill="#000"/>
<circle cx="910.14" cy="1507.40" r="3.0" fill="#000"/>
<circle cx="912.27" cy="1507.40" r="3.0" fill="#000"/>
<circle cx="914.40" cy="1507.40" r="3.0" fill="#000"/>
<circle cx="916.53" cy="1507.40" r="3.0" fill="#000"/>
<circle cx="918.66" cy="1507.40" r="3.0" fill="#000"/>
<circle cx="920.79" cy="1507.40" r="3.0" fill="#000"/>
<circle cx="922.92" cy="1507.40" r="3.0" fill="#000"/>
<circle cx="925.05" cy="1507.40" r="3.0" fill="#000"/>
<circle cx="927.18" cy="1507.40" r="3.0" fill="#000"/>
<circle cx="929.31" cy="1507.40" r="3.0" fill="#000"/>
<circle cx="931.44" cy="1507.40" r="3.0" fill="#000"/>
<circle cx="933.56" cy="1507.40" r="3.0" fill="#000"/>
<circle cx="935.69" cy="1507.40" r="3.0" fill="#000"/>
<circle cx="937.82" cy="1507.40" r="3.0" fill="#000"/>
<circle cx="939.95" cy="1507.40" r="3.0" fill="#000"/>
<circle cx="942.08" cy="1507.40" r="3.0" fill="#000"/>
<circle cx="944.21" cy="1507.40" r="3.0" fill="#000"/>
<circle cx="946.34" cy="1507.40" r="3.0" fill="#000"/>
<circle cx="948.47" cy="1507.40" r="3.0" fill="#000"/>
<circle cx="950.60" cy="1507.40" r="3.0" fill="#000"/>
<circle cx="952.73" cy="1507.40" r="3.0" fill="#000"/>
<circle cx="954.86" cy="1507.40" r="3.0" fill="#000"/>
<circle cx="956.99" cy="1507.40" r="3.0" fill="#000"/>
<circle cx="959.12" cy="1507.40" r="3.0" fill="#000"/>
<circle cx="961.25" cy="1507.40" r="3.0" fill="#000"/>
<circle cx="1000.00" cy="1507.40" r="3.0" fill="#000"/>
<circle cx="1002.74" cy="1507.40" r="3.0" fill="#000"/>
<circle cx="1005.48" cy="1507.40" r="3.0" fill="#000"/>
<circle cx="1008.21" cy="1507.40" r="3.0" fill="#000"/>
<circle cx="1010.95" cy="1507.40" r="3.0" fill="#000"/>
<circle cx="1013.69" cy="1507.40" r="3.0" fill="#000"/>
<circle cx="1016.43" cy="1507.40" r="3.0" fill="#000"/>
<circle cx="1019.17" cy="1507.40" r="3.0" fill="#000"/>
<circle cx="1021.90" cy="1507.40" r="3.0" fill="#000"/>
<circle cx="1024.64" cy="1507.40" r="3.0" fill="#000"/>
<circle cx="1027.38" cy="1507.40" r="3.0" fill="#000"/>
<circle cx="1030.12" cy="1507.40" r="3.0" fill="#000"/>
<circle cx="1032.86" cy="1507.40" r="3.0" fill="#000"/>
<circle cx="1035.60" cy="1507.40" r="3.0" fill="#000"/>
<circle cx="1038.33" cy="1507.40" r="3.0" fill="#000"/>
<circle cx="1041.07" cy="1507.40" r="3.0" fill="#000"/>
<circle cx="1043.81" cy="1507.40" r="3.0" fill="#000"/>
<circle cx="1046.55" cy="1507.40" r="3.0" fill="#000"/>
<circle cx="1049.29" cy="1507.40" r="3.0" fill="#000"/>
<circle cx="1052.02" cy="1507.40" r="3.0" fill="#000"/>
<circle cx="1054.76" cy="1507.40" r="3.0" fill="#000"/>
<circle cx="1057.50" cy="1507.40" r="3.0" fill="#000"/>
<rect x="1267.10" y="1465.35" width="63.80" height="41.55" fill="#3fb737" stroke="#000" stroke-width="3.2"/>
<line x1="1299.00" y1="1446.25" x2="1299.00" y2="1464.75" stroke="#000" stroke-width="3.2" stroke-linecap="butt"/>
<line x1="1283.05" y1="1446.25" x2="1314.95" y2="1446.25" stroke="#000" stroke-width="3.2" stroke-linecap="round"/>
<rect x="1363.35" y="1488.60" width="63.80" height="18.30" fill="#3fb737" stroke="#000" stroke-width="3.2"/>
<line x1="1395.25" y1="1476.25" x2="1395.25" y2="1488.00" stroke="#000" stroke-width="3.2" stroke-linecap="butt"/>
<line x1="1379.30" y1="1476.25" x2="1411.20" y2="1476.25" stroke="#000" stroke-width="3.2" stroke-linecap="round"/>
<rect x="1459.85" y="1473.85" width="63.80" height="33.05" fill="#3fb737" stroke="#000" stroke-width="3.2"/>
<line x1="1491.75" y1="1460.50" x2="1491.75" y2="1473.25" stroke="#000" stroke-width="3.2" stroke-linecap="butt"/>
<line x1="1475.80" y1="1460.50" x2="1507.70" y2="1460.50" stroke="#000" stroke-width="3.2" stroke-linecap="round"/>
<line x1="1235.00" y1="1184.40" x2="1235.00" y2="1508.50" stroke="#000" stroke-width="3.2" stroke-linecap="butt"/>
<line x1="1220.50" y1="1506.90" x2="1555.50" y2="1506.90" stroke="#000" stroke-width="3.2" stroke-linecap="butt"/>
<line x1="1220.50" y1="1186.00" x2="1235.00" y2="1186.00" stroke="#000" stroke-width="3.2" stroke-linecap="butt"/>
<text transform="translate(1215.80 1194.10) scale(0.9 1)" font-size="21.3" text-anchor="end" fill="#1a1a1a">0.8</text>
<line x1="1220.50" y1="1266.60" x2="1235.00" y2="1266.60" stroke="#000" stroke-width="3.2" stroke-linecap="butt"/>
<text transform="translate(1215.80 1275.60) scale(0.9 1)" font-size="21.3" text-anchor="end" fill="#1a1a1a">0.6</text>
<line x1="1220.50" y1="1346.70" x2="1235.00" y2="1346.70" stroke="#000" stroke-width="3.2" stroke-linecap="butt"/>
<text transform="translate(1215.80 1356.60) scale(0.9 1)" font-size="21.3" text-anchor="end" fill="#1a1a1a">0.4</text>
<line x1="1220.50" y1="1426.80" x2="1235.00" y2="1426.80" stroke="#000" stroke-width="3.2" stroke-linecap="butt"/>
<text transform="translate(1215.80 1437.60) scale(0.9 1)" font-size="21.3" text-anchor="end" fill="#1a1a1a">0.2</text>
<line x1="1220.50" y1="1506.90" x2="1235.00" y2="1506.90" stroke="#000" stroke-width="3.2" stroke-linecap="butt"/>
<text transform="translate(1215.80 1518.60) scale(0.9 1)" font-size="21.3" text-anchor="end" fill="#1a1a1a">0</text>
<line x1="1299.00" y1="1506.90" x2="1299.00" y2="1520.40" stroke="#000" stroke-width="3.2" stroke-linecap="butt"/>
<text transform="translate(1299.00 1541.25) scale(0.97 1)" font-size="21" text-anchor="middle" fill="#1a1a1a">17-30</text>
<line x1="1395.25" y1="1506.90" x2="1395.25" y2="1520.40" stroke="#000" stroke-width="3.2" stroke-linecap="butt"/>
<text transform="translate(1395.25 1541.25) scale(0.97 1)" font-size="21" text-anchor="middle" fill="#1a1a1a">31-45</text>
<line x1="1491.75" y1="1506.90" x2="1491.75" y2="1520.40" stroke="#000" stroke-width="3.2" stroke-linecap="butt"/>
<text transform="translate(1491.75 1541.25) scale(0.97 1)" font-size="21" text-anchor="middle" fill="#1a1a1a">46-70</text>
<text x="1393.40" y="1565.50" font-size="23.8" font-weight="bold" text-anchor="middle" fill="#1a1a1a">BMI</text>
<text x="1176.50" y="1348.25" font-size="20.15" font-weight="bold" text-anchor="middle" fill="#1a1a1a" transform="rotate(-90 1176.50 1348.25)">Fraction of monocyte-macrophages</text>
<circle cx="1299.00" cy="1254.00" r="3.3" fill="#000"/>
<circle cx="1296.25" cy="1385.50" r="3.3" fill="#000"/>
<circle cx="1301.50" cy="1390.75" r="3.3" fill="#000"/>
<circle cx="1301.00" cy="1401.75" r="3.3" fill="#000"/>
<circle cx="1296.25" cy="1408.75" r="3.3" fill="#000"/>
<circle cx="1299.00" cy="1419.50" r="3.3" fill="#000"/>
<circle cx="1285.75" cy="1498.25" r="3.3" fill="#000"/>
<circle cx="1395.25" cy="1294.75" r="3.3" fill="#000"/>
<circle cx="1395.25" cy="1368.75" r="3.3" fill="#000"/>
<circle cx="1395.25" cy="1381.25" r="3.3" fill="#000"/>
<circle cx="1395.25" cy="1408.75" r="3.3" fill="#000"/>
<circle cx="1395.25" cy="1497.75" r="3.3" fill="#000"/>
<circle cx="1491.75" cy="1283.25" r="3.3" fill="#000"/>
<circle cx="1491.75" cy="1356.25" r="3.3" fill="#000"/>
<circle cx="1490.00" cy="1404.00" r="3.3" fill="#000"/>
<circle cx="1494.00" cy="1405.50" r="3.3" fill="#000"/>
<circle cx="1490.00" cy="1425.50" r="3.3" fill="#000"/>
<circle cx="1493.50" cy="1433.50" r="3.3" fill="#000"/>
<circle cx="1491.25" cy="1447.00" r="3.3" fill="#000"/>
<circle cx="1491.75" cy="1451.25" r="3.3" fill="#000"/>
<circle cx="1495.50" cy="1455.25" r="3.3" fill="#000"/>
<circle cx="1487.75" cy="1458.00" r="3.3" fill="#000"/>
<circle cx="1491.75" cy="1494.50" r="3.3" fill="#000"/>
<circle cx="1270.00" cy="1507.40" r="3.0" fill="#000"/>
<circle cx="1274.42" cy="1507.40" r="3.0" fill="#000"/>
<circle cx="1278.85" cy="1507.40" r="3.0" fill="#000"/>
<circle cx="1283.27" cy="1507.40" r="3.0" fill="#000"/>
<circle cx="1287.69" cy="1507.40" r="3.0" fill="#000"/>
<circle cx="1292.12" cy="1507.40" r="3.0" fill="#000"/>
<circle cx="1296.54" cy="1507.40" r="3.0" fill="#000"/>
<circle cx="1300.96" cy="1507.40" r="3.0" fill="#000"/>
<circle cx="1305.38" cy="1507.40" r="3.0" fill="#000"/>
<circle cx="1309.81" cy="1507.40" r="3.0" fill="#000"/>
<circle cx="1314.23" cy="1507.40" r="3.0" fill="#000"/>
<circle cx="1318.65" cy="1507.40" r="3.0" fill="#000"/>
<circle cx="1323.08" cy="1507.40" r="3.0" fill="#000"/>
<circle cx="1327.50" cy="1507.40" r="3.0" fill="#000"/>
<circle cx="1366.25" cy="1507.40" r="3.0" fill="#000"/>
<circle cx="1368.28" cy="1507.40" r="3.0" fill="#000"/>
<circle cx="1370.30" cy="1507.40" r="3.0" fill="#000"/>
<circle cx="1372.33" cy="1507.40" r="3.0" fill="#000"/>
<circle cx="1374.35" cy="1507.40" r="3.0" fill="#000"/>
<circle cx="1376.38" cy="1507.40" r="3.0" fill="#000"/>
<circle cx="1378.41" cy="1507.40" r="3.0" fill="#000"/>
<circle cx="1380.43" cy="1507.40" r="3.0" fill="#000"/>
<circle cx="1382.46" cy="1507.40" r="3.0" fill="#000"/>
<circle cx="1384.48" cy="1507.40" r="3.0" fill="#000"/>
<circle cx="1386.51" cy="1507.40" r="3.0" fill="#000"/>
<circle cx="1388.53" cy="1507.40" r="3.0" fill="#000"/>
<circle cx="1390.56" cy="1507.40" r="3.0" fill="#000"/>
<circle cx="1392.59" cy="1507.40" r="3.0" fill="#000"/>
<circle cx="1394.61" cy="1507.40" r="3.0" fill="#000"/>
<circle cx="1396.64" cy="1507.40" r="3.0" fill="#000"/>
<circle cx="1398.66" cy="1507.40" r="3.0" fill="#000"/>
<circle cx="1400.69" cy="1507.40" r="3.0" fill="#000"/>
<circle cx="1402.72" cy="1507.40" r="3.0" fill="#000"/>
<circle cx="1404.74" cy="1507.40" r="3.0" fill="#000"/>
<circle cx="1406.77" cy="1507.40" r="3.0" fill="#000"/>
<circle cx="1408.79" cy="1507.40" r="3.0" fill="#000"/>
<circle cx="1410.82" cy="1507.40" r="3.0" fill="#000"/>
<circle cx="1412.84" cy="1507.40" r="3.0" fill="#000"/>
<circle cx="1414.87" cy="1507.40" r="3.0" fill="#000"/>
<circle cx="1416.90" cy="1507.40" r="3.0" fill="#000"/>
<circle cx="1418.92" cy="1507.40" r="3.0" fill="#000"/>
<circle cx="1420.95" cy="1507.40" r="3.0" fill="#000"/>
<circle cx="1422.97" cy="1507.40" r="3.0" fill="#000"/>
<circle cx="1425.00" cy="1507.40" r="3.0" fill="#000"/>
<circle cx="1462.50" cy="1507.40" r="3.0" fill="#000"/>
<circle cx="1465.30" cy="1507.40" r="3.0" fill="#000"/>
<circle cx="1468.10" cy="1507.40" r="3.0" fill="#000"/>
<circle cx="1470.89" cy="1507.40" r="3.0" fill="#000"/>
<circle cx="1473.69" cy="1507.40" r="3.0" fill="#000"/>
<circle cx="1476.49" cy="1507.40" r="3.0" fill="#000"/>
<circle cx="1479.29" cy="1507.40" r="3.0" fill="#000"/>
<circle cx="1482.08" cy="1507.40" r="3.0" fill="#000"/>
<circle cx="1484.88" cy="1507.40" r="3.0" fill="#000"/>
<circle cx="1487.68" cy="1507.40" r="3.0" fill="#000"/>
<circle cx="1490.48" cy="1507.40" r="3.0" fill="#000"/>
<circle cx="1493.27" cy="1507.40" r="3.0" fill="#000"/>
<circle cx="1496.07" cy="1507.40" r="3.0" fill="#000"/>
<circle cx="1498.87" cy="1507.40" r="3.0" fill="#000"/>
<circle cx="1501.67" cy="1507.40" r="3.0" fill="#000"/>
<circle cx="1504.46" cy="1507.40" r="3.0" fill="#000"/>
<circle cx="1507.26" cy="1507.40" r="3.0" fill="#000"/>
<circle cx="1510.06" cy="1507.40" r="3.0" fill="#000"/>
<circle cx="1512.86" cy="1507.40" r="3.0" fill="#000"/>
<circle cx="1515.65" cy="1507.40" r="3.0" fill="#000"/>
<circle cx="1518.45" cy="1507.40" r="3.0" fill="#000"/>
<circle cx="1521.25" cy="1507.40" r="3.0" fill="#000"/>
</g>
<g id="panel-e">
<text x="231.00" y="1618.70" font-size="32" font-weight="bold" text-anchor="start" fill="#1a1a1a">e</text>
<text x="478.50" y="1618.90" font-size="26.8" font-weight="bold" text-anchor="middle" fill="#1a1a1a">NASH</text>
<text x="294.00" y="1787.30" font-size="24.6" font-weight="bold" text-anchor="middle" fill="#1a1a1a" transform="rotate(-90 294.00 1787.30)">CD9</text>
<text x="293.00" y="2147.50" font-size="25.2" font-weight="bold" text-anchor="middle" fill="#1a1a1a" transform="rotate(-90 293.00 2147.50)">TREM2</text>
<svg x="307.8" y="1628.4" width="338.7" height="318" viewBox="0 0 338.7 318" overflow="hidden">
<defs><filter id="t1" x="0" y="0" width="100%" height="100%" color-interpolation-filters="sRGB"><feTurbulence type="fractalNoise" baseFrequency="0.18" numOctaves="2" seed="4"/><feColorMatrix type="matrix" values="0.13 0 0 0 0.868  0.13 0 0 0 0.85  0.13 0 0 0 0.826  0 0 0 0 1"/></filter><filter id="b1" x="-5%" y="-5%" width="110%" height="110%"><feGaussianBlur stdDeviation="0.7"/></filter><filter id="n1" x="-5%" y="-5%" width="110%" height="110%"><feGaussianBlur stdDeviation="1.0"/></filter></defs>
<rect width="338.7" height="318" rx="3" fill="#ece9e6"/>
<rect width="338.7" height="318" rx="3" filter="url(#t1)"/>
<g filter="url(#n1)" opacity="0.8">
<ellipse cx="201.3" cy="227.0" rx="2.5" ry="2.4" fill="#8f9fc6" transform="rotate(26 201.3 227.0)"/>
<ellipse cx="281.9" cy="203.8" rx="3.2" ry="1.5" fill="#8f9fc6" transform="rotate(112 281.9 203.8)"/>
<ellipse cx="268.9" cy="209.3" rx="3.1" ry="2.2" fill="#9aa9cd" transform="rotate(61 268.9 209.3)"/>
<ellipse cx="276.8" cy="221.2" rx="2.8" ry="2.6" fill="#a9b7d6" transform="rotate(92 276.8 221.2)"/>
<ellipse cx="281.4" cy="215.2" rx="2.7" ry="2.0" fill="#a2b1d2" transform="rotate(24 281.4 215.2)"/>
<ellipse cx="244.5" cy="219.4" rx="3.2" ry="2.1" fill="#a9b7d6" transform="rotate(120 244.5 219.4)"/>
<ellipse cx="203.9" cy="209.0" rx="3.0" ry="1.6" fill="#8f9fc6" transform="rotate(35 203.9 209.0)"/>
<ellipse cx="237.3" cy="242.4" rx="2.6" ry="2.4" fill="#a2b1d2" transform="rotate(121 237.3 242.4)"/>
<ellipse cx="241.4" cy="244.9" rx="2.7" ry="2.2" fill="#a9b7d6" transform="rotate(138 241.4 244.9)"/>
<ellipse cx="281.6" cy="191.4" rx="3.0" ry="2.0" fill="#a9b7d6" transform="rotate(40 281.6 191.4)"/>
<ellipse cx="278.2" cy="259.3" rx="2.6" ry="2.4" fill="#8f9fc6" transform="rotate(40 278.2 259.3)"/>
<ellipse cx="294.9" cy="225.5" rx="2.3" ry="2.1" fill="#a9b7d6" transform="rotate(115 294.9 225.5)"/>
<ellipse cx="235.0" cy="164.2" rx="2.8" ry="1.8" fill="#8f9fc6" transform="rotate(178 235.0 164.2)"/>
<ellipse cx="291.7" cy="266.6" rx="3.5" ry="1.6" fill="#8f9fc6" transform="rotate(109 291.7 266.6)"/>
<ellipse cx="262.3" cy="234.9" rx="2.4" ry="2.1" fill="#8f9fc6" transform="rotate(98 262.3 234.9)"/>
<ellipse cx="308.0" cy="189.9" rx="3.3" ry="1.7" fill="#a9b7d6" transform="rotate(21 308.0 189.9)"/>
<ellipse cx="222.8" cy="221.8" rx="3.7" ry="2.0" fill="#a9b7d6" transform="rotate(80 222.8 221.8)"/>
<ellipse cx="309.4" cy="207.5" rx="2.8" ry="2.3" fill="#8f9fc6" transform="rotate(127 309.4 207.5)"/>
<ellipse cx="252.0" cy="219.1" rx="2.6" ry="1.6" fill="#8f9fc6" transform="rotate(5 252.0 219.1)"/>
<ellipse cx="234.6" cy="230.7" rx="3.1" ry="1.9" fill="#8f9fc6" transform="rotate(176 234.6 230.7)"/>
<ellipse cx="264.9" cy="188.9" rx="3.7" ry="1.9" fill="#8f9fc6" transform="rotate(162 264.9 188.9)"/>
<ellipse cx="321.4" cy="214.6" rx="3.3" ry="1.8" fill="#a2b1d2" transform="rotate(29 321.4 214.6)"/>
<ellipse cx="323.8" cy="189.5" rx="3.6" ry="2.2" fill="#a9b7d6" transform="rotate(164 323.8 189.5)"/>
<ellipse cx="279.4" cy="174.4" rx="3.2" ry="1.6" fill="#a9b7d6" transform="rotate(49 279.4 174.4)"/>
<ellipse cx="246.4" cy="209.3" rx="3.0" ry="2.1" fill="#a2b1d2" transform="rotate(126 246.4 209.3)"/>
<ellipse cx="297.5" cy="232.3" rx="2.9" ry="1.6" fill="#8f9fc6" transform="rotate(60 297.5 232.3)"/>
<ellipse cx="252.2" cy="237.5" rx="3.2" ry="2.1" fill="#a2b1d2" transform="rotate(115 252.2 237.5)"/>
<ellipse cx="309.7" cy="226.4" rx="3.3" ry="1.9" fill="#8f9fc6" transform="rotate(32 309.7 226.4)"/>
<ellipse cx="177.9" cy="236.6" rx="3.3" ry="1.5" fill="#8f9fc6" transform="rotate(40 177.9 236.6)"/>
<ellipse cx="256.8" cy="239.8" rx="3.7" ry="1.8" fill="#8f9fc6" transform="rotate(40 256.8 239.8)"/>
<ellipse cx="286.6" cy="248.6" rx="2.8" ry="2.2" fill="#a9b7d6" transform="rotate(152 286.6 248.6)"/>
<ellipse cx="264.9" cy="210.7" rx="3.7" ry="2.1" fill="#a9b7d6" transform="rotate(73 264.9 210.7)"/>
<ellipse cx="217.2" cy="215.7" rx="2.7" ry="1.6" fill="#8f9fc6" transform="rotate(19 217.2 215.7)"/>
<ellipse cx="221.8" cy="259.4" rx="2.7" ry="1.9" fill="#8f9fc6" transform="rotate(90 221.8 259.4)"/>
<ellipse cx="294.6" cy="246.2" rx="2.9" ry="2.0" fill="#8f9fc6" transform="rotate(66 294.6 246.2)"/>
<ellipse cx="252.6" cy="234.0" rx="3.4" ry="2.0" fill="#a9b7d6" transform="rotate(152 252.6 234.0)"/>
<ellipse cx="212.3" cy="241.8" rx="2.7" ry="1.9" fill="#a9b7d6" transform="rotate(73 212.3 241.8)"/>
<ellipse cx="333.7" cy="199.7" rx="3.2" ry="1.6" fill="#9aa9cd" transform="rotate(142 333.7 199.7)"/>
<ellipse cx="312.2" cy="213.4" rx="3.1" ry="1.5" fill="#8f9fc6" transform="rotate(150 312.2 213.4)"/>
<ellipse cx="284.9" cy="199.9" rx="4.2" ry="2.1" fill="#8f9fc6" transform="rotate(135 284.9 199.9)"/>
<ellipse cx="335.9" cy="234.5" rx="3.2" ry="1.6" fill="#a2b1d2" transform="rotate(35 335.9 234.5)"/>
<ellipse cx="333.9" cy="214.0" rx="3.8" ry="1.8" fill="#8f9fc6" transform="rotate(4 333.9 214.0)"/>
<ellipse cx="241.3" cy="185.9" rx="3.3" ry="1.9" fill="#a9b7d6" transform="rotate(95 241.3 185.9)"/>
<ellipse cx="202.4" cy="218.6" rx="2.9" ry="2.0" fill="#a9b7d6" transform="rotate(114 202.4 218.6)"/>
<ellipse cx="269.8" cy="215.5" rx="2.9" ry="2.4" fill="#8f9fc6" transform="rotate(4 269.8 215.5)"/>
<ellipse cx="223.6" cy="150.1" rx="3.1" ry="2.2" fill="#8f9fc6" transform="rotate(77 223.6 150.1)"/>
<ellipse cx="264.0" cy="162.7" rx="2.2" ry="1.9" fill="#9aa9cd" transform="rotate(11 264.0 162.7)"/>
<ellipse cx="289.5" cy="166.3" rx="3.9" ry="2.2" fill="#9aa9cd" transform="rotate(6 289.5 166.3)"/>
<ellipse cx="215.4" cy="197.9" rx="3.4" ry="2.2" fill="#8f9fc6" transform="rotate(113 215.4 197.9)"/>
<ellipse cx="215.4" cy="237.4" rx="2.3" ry="2.1" fill="#8f9fc6" transform="rotate(44 215.4 237.4)"/>
<ellipse cx="298.4" cy="208.4" rx="3.0" ry="1.8" fill="#8f9fc6" transform="rotate(166 298.4 208.4)"/>
<ellipse cx="292.2" cy="221.7" rx="3.6" ry="1.8" fill="#8f9fc6" transform="rotate(132 292.2 221.7)"/>
<ellipse cx="310.3" cy="217.7" rx="2.8" ry="1.8" fill="#8f9fc6" transform="rotate(112 310.3 217.7)"/>
<ellipse cx="188.3" cy="197.4" rx="2.9" ry="2.2" fill="#8f9fc6" transform="rotate(79 188.3 197.4)"/>
<ellipse cx="245.0" cy="226.8" rx="2.8" ry="2.4" fill="#a2b1d2" transform="rotate(114 245.0 226.8)"/>
<ellipse cx="247.6" cy="246.1" rx="3.6" ry="2.3" fill="#a9b7d6" transform="rotate(59 247.6 246.1)"/>
<ellipse cx="315.0" cy="238.2" rx="3.7" ry="2.2" fill="#8f9fc6" transform="rotate(169 315.0 238.2)"/>
<ellipse cx="276.6" cy="207.1" rx="3.1" ry="1.8" fill="#9aa9cd" transform="rotate(179 276.6 207.1)"/>
<ellipse cx="201.6" cy="215.7" rx="2.1" ry="1.9" fill="#8f9fc6" transform="rotate(121 201.6 215.7)"/>
<ellipse cx="320.5" cy="238.8" rx="2.2" ry="2.0" fill="#a2b1d2" transform="rotate(49 320.5 238.8)"/>
<ellipse cx="221.5" cy="201.7" rx="4.4" ry="2.1" fill="#a9b7d6" transform="rotate(83 221.5 201.7)"/>
<ellipse cx="223.1" cy="230.7" rx="2.4" ry="2.0" fill="#a9b7d6" transform="rotate(163 223.1 230.7)"/>
<ellipse cx="253.3" cy="192.6" rx="3.5" ry="1.7" fill="#8f9fc6" transform="rotate(4 253.3 192.6)"/>
<ellipse cx="249.2" cy="241.4" rx="2.3" ry="2.2" fill="#9aa9cd" transform="rotate(9 249.2 241.4)"/>
<ellipse cx="231.1" cy="215.6" rx="2.9" ry="1.8" fill="#a9b7d6" transform="rotate(140 231.1 215.6)"/>
<ellipse cx="255.4" cy="232.4" rx="2.6" ry="1.8" fill="#8f9fc6" transform="rotate(151 255.4 232.4)"/>
<ellipse cx="296.7" cy="281.1" rx="3.9" ry="2.0" fill="#8f9fc6" transform="rotate(99 296.7 281.1)"/>
<ellipse cx="313.6" cy="228.1" rx="3.1" ry="1.9" fill="#9aa9cd" transform="rotate(88 313.6 228.1)"/>
<ellipse cx="253.9" cy="222.4" rx="2.9" ry="2.0" fill="#9aa9cd" transform="rotate(65 253.9 222.4)"/>
<ellipse cx="173.6" cy="201.1" rx="3.8" ry="1.7" fill="#a9b7d6" transform="rotate(142 173.6 201.1)"/>
<ellipse cx="183.7" cy="204.1" rx="2.2" ry="2.2" fill="#9aa9cd" transform="rotate(162 183.7 204.1)"/>
<ellipse cx="204.3" cy="212.7" rx="3.5" ry="2.4" fill="#a9b7d6" transform="rotate(40 204.3 212.7)"/>
<ellipse cx="190.1" cy="212.1" rx="3.6" ry="2.0" fill="#8f9fc6" transform="rotate(156 190.1 212.1)"/>
<ellipse cx="248.3" cy="194.1" rx="2.6" ry="2.3" fill="#a2b1d2" transform="rotate(149 248.3 194.1)"/>
<ellipse cx="284.1" cy="226.7" rx="2.8" ry="2.4" fill="#8f9fc6" transform="rotate(91 284.1 226.7)"/>
<ellipse cx="291.6" cy="217.0" rx="2.7" ry="2.0" fill="#a9b7d6" transform="rotate(119 291.6 217.0)"/>
<ellipse cx="240.8" cy="172.3" rx="3.1" ry="2.3" fill="#a9b7d6" transform="rotate(135 240.8 172.3)"/>
<ellipse cx="290.4" cy="291.8" rx="3.2" ry="2.4" fill="#a9b7d6" transform="rotate(64 290.4 291.8)"/>
<ellipse cx="234.7" cy="240.3" rx="3.1" ry="1.5" fill="#9aa9cd" transform="rotate(54 234.7 240.3)"/>
<ellipse cx="275.3" cy="216.0" rx="3.2" ry="1.8" fill="#a2b1d2" transform="rotate(168 275.3 216.0)"/>
<ellipse cx="275.4" cy="211.5" rx="4.1" ry="2.2" fill="#8f9fc6" transform="rotate(110 275.4 211.5)"/>
<ellipse cx="335.0" cy="219.5" rx="2.7" ry="2.0" fill="#9aa9cd" transform="rotate(164 335.0 219.5)"/>
<ellipse cx="177.7" cy="154.8" rx="3.5" ry="1.7" fill="#a2b1d2" transform="rotate(124 177.7 154.8)"/>
<ellipse cx="205.1" cy="181.3" rx="3.8" ry="1.9" fill="#a2b1d2" transform="rotate(89 205.1 181.3)"/>
<ellipse cx="272.8" cy="173.7" rx="4.0" ry="2.2" fill="#a2b1d2" transform="rotate(152 272.8 173.7)"/>
<ellipse cx="196.4" cy="211.0" rx="3.9" ry="2.2" fill="#a2b1d2" transform="rotate(21 196.4 211.0)"/>
<ellipse cx="288.4" cy="257.5" rx="3.2" ry="1.8" fill="#9aa9cd" transform="rotate(178 288.4 257.5)"/>
<ellipse cx="248.2" cy="206.5" rx="2.9" ry="2.1" fill="#a2b1d2" transform="rotate(30 248.2 206.5)"/>
<ellipse cx="307.7" cy="229.1" rx="2.8" ry="2.5" fill="#9aa9cd" transform="rotate(133 307.7 229.1)"/>
<ellipse cx="291.2" cy="194.0" rx="3.1" ry="2.5" fill="#a9b7d6" transform="rotate(101 291.2 194.0)"/>
<ellipse cx="292.0" cy="143.2" rx="3.7" ry="2.2" fill="#8f9fc6" transform="rotate(93 292.0 143.2)"/>
<ellipse cx="262.0" cy="250.0" rx="3.2" ry="2.0" fill="#9aa9cd" transform="rotate(165 262.0 250.0)"/>
<ellipse cx="281.7" cy="234.3" rx="2.5" ry="2.1" fill="#9aa9cd" transform="rotate(155 281.7 234.3)"/>
<ellipse cx="258.2" cy="214.9" rx="2.6" ry="1.8" fill="#a2b1d2" transform="rotate(96 258.2 214.9)"/>
<ellipse cx="313.7" cy="243.1" rx="3.9" ry="2.0" fill="#a2b1d2" transform="rotate(151 313.7 243.1)"/>
<ellipse cx="135.6" cy="123.6" rx="3.2" ry="1.6" fill="#9aa9cd" transform="rotate(73 135.6 123.6)"/>
<ellipse cx="143.1" cy="154.9" rx="2.5" ry="1.9" fill="#8f9fc6" transform="rotate(160 143.1 154.9)"/>
<ellipse cx="189.1" cy="184.8" rx="3.1" ry="1.7" fill="#a9b7d6" transform="rotate(107 189.1 184.8)"/>
<ellipse cx="173.0" cy="69.6" rx="2.8" ry="2.0" fill="#9aa9cd" transform="rotate(50 173.0 69.6)"/>
<ellipse cx="164.6" cy="162.2" rx="2.9" ry="2.3" fill="#a9b7d6" transform="rotate(159 164.6 162.2)"/>
<ellipse cx="125.1" cy="140.6" rx="2.3" ry="1.8" fill="#a9b7d6" transform="rotate(1 125.1 140.6)"/>
<ellipse cx="82.9" cy="58.9" rx="3.9" ry="2.2" fill="#a9b7d6" transform="rotate(71 82.9 58.9)"/>
<ellipse cx="121.3" cy="121.5" rx="3.4" ry="2.3" fill="#a9b7d6" transform="rotate(28 121.3 121.5)"/>
<ellipse cx="112.3" cy="175.0" rx="4.0" ry="2.0" fill="#8f9fc6" transform="rotate(8 112.3 175.0)"/>
<ellipse cx="59.5" cy="142.3" rx="4.1" ry="2.0" fill="#9aa9cd" transform="rotate(176 59.5 142.3)"/>
<ellipse cx="110.9" cy="149.4" rx="2.6" ry="2.0" fill="#8f9fc6" transform="rotate(69 110.9 149.4)"/>
<ellipse cx="100.9" cy="170.6" rx="2.8" ry="1.9" fill="#8f9fc6" transform="rotate(19 100.9 170.6)"/>
<ellipse cx="149.3" cy="183.8" rx="3.5" ry="1.6" fill="#9aa9cd" transform="rotate(141 149.3 183.8)"/>
<ellipse cx="127.1" cy="107.8" rx="2.9" ry="1.6" fill="#a2b1d2" transform="rotate(177 127.1 107.8)"/>
<ellipse cx="182.3" cy="145.8" rx="2.9" ry="2.4" fill="#a9b7d6" transform="rotate(66 182.3 145.8)"/>
<ellipse cx="112.8" cy="126.3" rx="2.4" ry="1.8" fill="#a9b7d6" transform="rotate(135 112.8 126.3)"/>
<ellipse cx="160.7" cy="198.0" rx="2.7" ry="2.4" fill="#a2b1d2" transform="rotate(61 160.7 198.0)"/>
<ellipse cx="98.7" cy="211.0" rx="2.7" ry="2.6" fill="#a2b1d2" transform="rotate(5 98.7 211.0)"/>
<ellipse cx="139.6" cy="70.1" rx="3.4" ry="2.3" fill="#a9b7d6" transform="rotate(30 139.6 70.1)"/>
<ellipse cx="162.1" cy="109.7" rx="3.2" ry="1.6" fill="#9aa9cd" transform="rotate(88 162.1 109.7)"/>
<ellipse cx="149.3" cy="138.5" rx="4.0" ry="2.1" fill="#8f9fc6" transform="rotate(173 149.3 138.5)"/>
<ellipse cx="92.4" cy="98.6" rx="3.6" ry="2.2" fill="#a9b7d6" transform="rotate(104 92.4 98.6)"/>
<ellipse cx="154.6" cy="162.0" rx="3.2" ry="1.5" fill="#a2b1d2" transform="rotate(84 154.6 162.0)"/>
<ellipse cx="122.5" cy="107.7" rx="3.4" ry="1.9" fill="#9aa9cd" transform="rotate(95 122.5 107.7)"/>
<ellipse cx="61.8" cy="67.9" rx="3.9" ry="2.2" fill="#a2b1d2" transform="rotate(125 61.8 67.9)"/>
<ellipse cx="166.3" cy="201.4" rx="2.9" ry="1.9" fill="#a2b1d2" transform="rotate(177 166.3 201.4)"/>
<ellipse cx="270.6" cy="80.9" rx="2.1" ry="1.9" fill="#a2b1d2" transform="rotate(167 270.6 80.9)"/>
<ellipse cx="140.2" cy="106.4" rx="3.3" ry="2.2" fill="#a9b7d6" transform="rotate(101 140.2 106.4)"/>
<ellipse cx="177.8" cy="175.7" rx="2.6" ry="1.6" fill="#9aa9cd" transform="rotate(138 177.8 175.7)"/>
<ellipse cx="234.5" cy="154.3" rx="3.7" ry="1.7" fill="#a9b7d6" transform="rotate(79 234.5 154.3)"/>
<ellipse cx="202.0" cy="53.2" rx="2.2" ry="1.8" fill="#a9b7d6" transform="rotate(63 202.0 53.2)"/>
<ellipse cx="194.8" cy="180.9" rx="3.4" ry="2.0" fill="#a9b7d6" transform="rotate(50 194.8 180.9)"/>
<ellipse cx="140.8" cy="172.5" rx="3.5" ry="2.3" fill="#a9b7d6" transform="rotate(37 140.8 172.5)"/>
<ellipse cx="144.7" cy="158.6" rx="2.1" ry="1.9" fill="#a9b7d6" transform="rotate(139 144.7 158.6)"/>
<ellipse cx="85.1" cy="178.7" rx="3.4" ry="2.0" fill="#a9b7d6" transform="rotate(99 85.1 178.7)"/>
<ellipse cx="166.5" cy="151.1" rx="2.3" ry="2.0" fill="#8f9fc6" transform="rotate(87 166.5 151.1)"/>
<ellipse cx="121.7" cy="169.7" rx="3.5" ry="2.0" fill="#a2b1d2" transform="rotate(76 121.7 169.7)"/>
<ellipse cx="255.0" cy="201.9" rx="3.8" ry="2.1" fill="#8f9fc6" transform="rotate(93 255.0 201.9)"/>
<ellipse cx="132.0" cy="153.3" rx="3.6" ry="2.0" fill="#a9b7d6" transform="rotate(150 132.0 153.3)"/>
<ellipse cx="178.8" cy="151.2" rx="2.9" ry="2.2" fill="#a9b7d6" transform="rotate(2 178.8 151.2)"/>
<ellipse cx="174.0" cy="214.5" rx="3.4" ry="1.8" fill="#9aa9cd" transform="rotate(101 174.0 214.5)"/>
<ellipse cx="156.6" cy="103.3" rx="2.9" ry="2.3" fill="#a9b7d6" transform="rotate(165 156.6 103.3)"/>
<ellipse cx="185.2" cy="85.7" rx="2.9" ry="1.9" fill="#a9b7d6" transform="rotate(40 185.2 85.7)"/>
<ellipse cx="164.8" cy="83.5" rx="2.7" ry="2.5" fill="#a2b1d2" transform="rotate(176 164.8 83.5)"/>
<ellipse cx="162.5" cy="151.8" rx="2.6" ry="1.8" fill="#8f9fc6" transform="rotate(155 162.5 151.8)"/>
<ellipse cx="145.9" cy="122.5" rx="2.8" ry="2.2" fill="#a9b7d6" transform="rotate(173 145.9 122.5)"/>
<ellipse cx="101.3" cy="132.0" rx="2.4" ry="2.0" fill="#a9b7d6" transform="rotate(173 101.3 132.0)"/>
<ellipse cx="36.3" cy="83.2" rx="3.4" ry="1.7" fill="#8f9fc6" transform="rotate(52 36.3 83.2)"/>
<ellipse cx="86.4" cy="141.2" rx="3.6" ry="2.2" fill="#a2b1d2" transform="rotate(156 86.4 141.2)"/>
<ellipse cx="154.9" cy="199.3" rx="2.9" ry="1.5" fill="#9aa9cd" transform="rotate(104 154.9 199.3)"/>
<ellipse cx="55.2" cy="150.3" rx="2.6" ry="2.3" fill="#a2b1d2" transform="rotate(177 55.2 150.3)"/>
<ellipse cx="153.7" cy="96.6" rx="3.5" ry="2.1" fill="#8f9fc6" transform="rotate(75 153.7 96.6)"/>
<ellipse cx="72.1" cy="192.5" rx="3.0" ry="2.2" fill="#9aa9cd" transform="rotate(134 72.1 192.5)"/>
<ellipse cx="96.8" cy="146.2" rx="3.0" ry="2.2" fill="#a2b1d2" transform="rotate(80 96.8 146.2)"/>
<ellipse cx="70.3" cy="167.9" rx="2.9" ry="2.5" fill="#8f9fc6" transform="rotate(144 70.3 167.9)"/>
<ellipse cx="144.2" cy="87.7" rx="2.7" ry="2.0" fill="#8f9fc6" transform="rotate(25 144.2 87.7)"/>
<ellipse cx="175.6" cy="57.9" rx="3.5" ry="2.2" fill="#9aa9cd" transform="rotate(123 175.6 57.9)"/>
<ellipse cx="149.7" cy="207.2" rx="2.8" ry="2.0" fill="#a2b1d2" transform="rotate(162 149.7 207.2)"/>
<ellipse cx="57.1" cy="133.3" rx="2.7" ry="2.5" fill="#a9b7d6" transform="rotate(58 57.1 133.3)"/>
<ellipse cx="167.4" cy="103.4" rx="2.6" ry="2.2" fill="#a9b7d6" transform="rotate(159 167.4 103.4)"/>
<ellipse cx="178.3" cy="96.8" rx="3.6" ry="1.7" fill="#a9b7d6" transform="rotate(153 178.3 96.8)"/>
<ellipse cx="90.8" cy="237.9" rx="3.3" ry="2.3" fill="#8f9fc6" transform="rotate(131 90.8 237.9)"/>
<ellipse cx="44.1" cy="104.7" rx="4.1" ry="2.2" fill="#a9b7d6" transform="rotate(22 44.1 104.7)"/>
<ellipse cx="70.7" cy="180.4" rx="2.8" ry="2.6" fill="#8f9fc6" transform="rotate(127 70.7 180.4)"/>
<ellipse cx="186.1" cy="168.8" rx="3.6" ry="2.0" fill="#9aa9cd" transform="rotate(163 186.1 168.8)"/>
<ellipse cx="140.1" cy="196.4" rx="2.9" ry="1.8" fill="#8f9fc6" transform="rotate(117 140.1 196.4)"/>
<ellipse cx="135.1" cy="139.7" rx="3.0" ry="1.9" fill="#8f9fc6" transform="rotate(103 135.1 139.7)"/>
<ellipse cx="89.7" cy="49.8" rx="3.2" ry="1.5" fill="#a9b7d6" transform="rotate(145 89.7 49.8)"/>
<ellipse cx="119.4" cy="142.4" rx="3.1" ry="1.9" fill="#8f9fc6" transform="rotate(167 119.4 142.4)"/>
<ellipse cx="15.7" cy="224.7" rx="3.3" ry="1.9" fill="#a9b7d6" transform="rotate(146 15.7 224.7)"/>
<ellipse cx="24.1" cy="284.0" rx="3.9" ry="1.9" fill="#8f9fc6" transform="rotate(24 24.1 284.0)"/>
<ellipse cx="24.1" cy="254.3" rx="3.3" ry="1.9" fill="#8f9fc6" transform="rotate(23 24.1 254.3)"/>
<ellipse cx="48.7" cy="281.2" rx="3.3" ry="1.9" fill="#a2b1d2" transform="rotate(40 48.7 281.2)"/>
<ellipse cx="84.2" cy="294.6" rx="2.8" ry="2.0" fill="#8f9fc6" transform="rotate(14 84.2 294.6)"/>
<ellipse cx="72.9" cy="277.3" rx="3.3" ry="1.9" fill="#a9b7d6" transform="rotate(45 72.9 277.3)"/>
<ellipse cx="35.3" cy="255.8" rx="2.5" ry="1.7" fill="#a2b1d2" transform="rotate(111 35.3 255.8)"/>
<ellipse cx="88.8" cy="275.4" rx="3.0" ry="1.6" fill="#9aa9cd" transform="rotate(140 88.8 275.4)"/>
<ellipse cx="23.6" cy="278.7" rx="2.5" ry="2.5" fill="#9aa9cd" transform="rotate(112 23.6 278.7)"/>
<ellipse cx="43.9" cy="260.3" rx="4.2" ry="2.0" fill="#8f9fc6" transform="rotate(133 43.9 260.3)"/>
<ellipse cx="79.8" cy="271.7" rx="3.2" ry="2.2" fill="#a9b7d6" transform="rotate(99 79.8 271.7)"/>
<ellipse cx="74.5" cy="264.3" rx="3.0" ry="1.8" fill="#a9b7d6" transform="rotate(46 74.5 264.3)"/>
<ellipse cx="9.0" cy="293.7" rx="3.0" ry="1.6" fill="#9aa9cd" transform="rotate(90 9.0 293.7)"/>
<ellipse cx="90.4" cy="281.6" rx="2.6" ry="2.4" fill="#a2b1d2" transform="rotate(60 90.4 281.6)"/>
<ellipse cx="39.7" cy="287.8" rx="4.2" ry="2.2" fill="#a9b7d6" transform="rotate(62 39.7 287.8)"/>
<ellipse cx="59.5" cy="266.5" rx="2.7" ry="1.6" fill="#9aa9cd" transform="rotate(31 59.5 266.5)"/>
<ellipse cx="63.5" cy="313.2" rx="3.2" ry="2.1" fill="#a9b7d6" transform="rotate(17 63.5 313.2)"/>
<ellipse cx="36.5" cy="307.9" rx="4.0" ry="2.1" fill="#9aa9cd" transform="rotate(9 36.5 307.9)"/>
<ellipse cx="55.0" cy="265.4" rx="3.6" ry="1.9" fill="#8f9fc6" transform="rotate(46 55.0 265.4)"/>
<ellipse cx="52.4" cy="269.5" rx="2.4" ry="1.9" fill="#a2b1d2" transform="rotate(164 52.4 269.5)"/>
<ellipse cx="80.8" cy="229.5" rx="2.7" ry="2.1" fill="#9aa9cd" transform="rotate(150 80.8 229.5)"/>
<ellipse cx="81.7" cy="275.6" rx="2.8" ry="2.1" fill="#8f9fc6" transform="rotate(157 81.7 275.6)"/>
<ellipse cx="29.3" cy="298.9" rx="3.0" ry="2.1" fill="#a2b1d2" transform="rotate(6 29.3 298.9)"/>
<ellipse cx="33.8" cy="293.0" rx="3.0" ry="1.9" fill="#a9b7d6" transform="rotate(25 33.8 293.0)"/>
<ellipse cx="49.9" cy="260.2" rx="2.6" ry="2.3" fill="#8f9fc6" transform="rotate(20 49.9 260.2)"/>
<ellipse cx="28.1" cy="257.9" rx="3.0" ry="1.9" fill="#a2b1d2" transform="rotate(151 28.1 257.9)"/>
<ellipse cx="56.9" cy="258.1" rx="3.7" ry="2.1" fill="#a2b1d2" transform="rotate(63 56.9 258.1)"/>
<ellipse cx="53.0" cy="300.8" rx="3.6" ry="1.9" fill="#a2b1d2" transform="rotate(75 53.0 300.8)"/>
<ellipse cx="103.6" cy="272.4" rx="3.4" ry="2.3" fill="#a2b1d2" transform="rotate(91 103.6 272.4)"/>
<ellipse cx="226.6" cy="145.9" rx="4.1" ry="2.1" fill="#a9b7d6" transform="rotate(37 226.6 145.9)"/>
<ellipse cx="212.8" cy="117.5" rx="3.1" ry="1.7" fill="#8f9fc6" transform="rotate(92 212.8 117.5)"/>
<ellipse cx="214.0" cy="148.8" rx="2.8" ry="1.7" fill="#9aa9cd" transform="rotate(179 214.0 148.8)"/>
<ellipse cx="222.5" cy="115.3" rx="3.6" ry="1.7" fill="#8f9fc6" transform="rotate(26 222.5 115.3)"/>
<ellipse cx="210.1" cy="168.7" rx="3.0" ry="1.7" fill="#a2b1d2" transform="rotate(60 210.1 168.7)"/>
<ellipse cx="292.6" cy="136.8" rx="3.7" ry="1.8" fill="#9aa9cd" transform="rotate(65 292.6 136.8)"/>
<ellipse cx="177.3" cy="113.0" rx="3.1" ry="2.4" fill="#9aa9cd" transform="rotate(95 177.3 113.0)"/>
<ellipse cx="241.0" cy="140.9" rx="3.4" ry="1.8" fill="#9aa9cd" transform="rotate(137 241.0 140.9)"/>
<ellipse cx="191.7" cy="146.0" rx="2.4" ry="2.2" fill="#a2b1d2" transform="rotate(123 191.7 146.0)"/>
<ellipse cx="190.4" cy="155.6" rx="4.1" ry="1.9" fill="#8f9fc6" transform="rotate(33 190.4 155.6)"/>
<ellipse cx="210.7" cy="155.5" rx="2.4" ry="1.8" fill="#8f9fc6" transform="rotate(96 210.7 155.5)"/>
<ellipse cx="189.1" cy="162.5" rx="3.1" ry="1.6" fill="#9aa9cd" transform="rotate(179 189.1 162.5)"/>
<ellipse cx="222.8" cy="181.9" rx="3.0" ry="2.3" fill="#8f9fc6" transform="rotate(116 222.8 181.9)"/>
<ellipse cx="173.9" cy="120.5" rx="3.5" ry="1.9" fill="#9aa9cd" transform="rotate(164 173.9 120.5)"/>
<ellipse cx="184.9" cy="194.7" rx="2.6" ry="2.4" fill="#a9b7d6" transform="rotate(133 184.9 194.7)"/>
<ellipse cx="232.6" cy="150.0" rx="2.3" ry="2.0" fill="#a2b1d2" transform="rotate(62 232.6 150.0)"/>
<ellipse cx="240.3" cy="166.1" rx="3.6" ry="1.9" fill="#a2b1d2" transform="rotate(115 240.3 166.1)"/>
<ellipse cx="253.6" cy="162.9" rx="3.6" ry="2.1" fill="#9aa9cd" transform="rotate(32 253.6 162.9)"/>
<ellipse cx="267.4" cy="123.3" rx="3.1" ry="1.7" fill="#8f9fc6" transform="rotate(113 267.4 123.3)"/>
<ellipse cx="241.7" cy="117.4" rx="2.8" ry="1.7" fill="#a9b7d6" transform="rotate(105 241.7 117.4)"/>
<ellipse cx="297.8" cy="186.3" rx="3.6" ry="2.2" fill="#8f9fc6" transform="rotate(138 297.8 186.3)"/>
<ellipse cx="211.7" cy="202.3" rx="2.8" ry="2.2" fill="#a9b7d6" transform="rotate(115 211.7 202.3)"/>
<ellipse cx="149.6" cy="190.9" rx="2.5" ry="1.9" fill="#a2b1d2" transform="rotate(77 149.6 190.9)"/>
<ellipse cx="276.9" cy="120.9" rx="2.4" ry="2.3" fill="#9aa9cd" transform="rotate(28 276.9 120.9)"/>
<ellipse cx="204.2" cy="136.3" rx="3.8" ry="2.2" fill="#9aa9cd" transform="rotate(136 204.2 136.3)"/>
<circle cx="196.4" cy="2.9" r="2.6" fill="#a9b6d4"/>
<circle cx="23.1" cy="44.4" r="2.9" fill="#b0bcd8"/>
<circle cx="52.2" cy="311.4" r="3.4" fill="#a9b6d4"/>
<circle cx="209.5" cy="57.6" r="2.8" fill="#a9b6d4"/>
<circle cx="14.1" cy="77.5" r="2.7" fill="#a3b1d0"/>
<circle cx="309.7" cy="111.5" r="2.9" fill="#9fadcf"/>
<circle cx="92.2" cy="89.3" r="3.0" fill="#b0bcd8"/>
<circle cx="115.2" cy="242.8" r="3.3" fill="#b0bcd8"/>
<circle cx="134.3" cy="176.5" r="2.8" fill="#b0bcd8"/>
<circle cx="17.0" cy="114.4" r="3.0" fill="#a3b1d0"/>
<circle cx="108.1" cy="11.6" r="2.8" fill="#9fadcf"/>
<circle cx="36.6" cy="162.2" r="3.2" fill="#9fadcf"/>
<circle cx="104.3" cy="106.8" r="3.2" fill="#a9b6d4"/>
<circle cx="4.8" cy="190.4" r="2.8" fill="#a9b6d4"/>
<circle cx="90.9" cy="263.1" r="3.0" fill="#a3b1d0"/>
<circle cx="112.5" cy="70.3" r="2.7" fill="#a9b6d4"/>
<circle cx="124.5" cy="212.8" r="2.7" fill="#9fadcf"/>
<circle cx="282.0" cy="129.3" r="3.3" fill="#9fadcf"/>
<circle cx="46.4" cy="71.1" r="2.7" fill="#9fadcf"/>
<circle cx="256.4" cy="57.4" r="2.9" fill="#a3b1d0"/>
<circle cx="252.6" cy="36.2" r="2.7" fill="#9fadcf"/>
<circle cx="86.7" cy="31.5" r="2.9" fill="#a3b1d0"/>
<circle cx="201.4" cy="233.8" r="2.8" fill="#a3b1d0"/>
<circle cx="92.4" cy="304.6" r="2.6" fill="#a3b1d0"/>
<circle cx="323.4" cy="117.3" r="3.3" fill="#a9b6d4"/>
<circle cx="91.2" cy="201.0" r="3.3" fill="#a9b6d4"/>
<circle cx="272.9" cy="184.7" r="3.1" fill="#9fadcf"/>
<circle cx="78.8" cy="192.8" r="2.7" fill="#a3b1d0"/>
<circle cx="7.2" cy="34.0" r="3.2" fill="#a3b1d0"/>
<circle cx="31.6" cy="17.7" r="2.9" fill="#9fadcf"/>
<circle cx="214.5" cy="128.7" r="2.7" fill="#a9b6d4"/>
<circle cx="301.9" cy="48.5" r="2.8" fill="#9fadcf"/>
<circle cx="140.0" cy="187.7" r="2.7" fill="#a9b6d4"/>
<circle cx="48.2" cy="27.8" r="2.9" fill="#a3b1d0"/>
<circle cx="186.2" cy="304.3" r="3.0" fill="#9fadcf"/>
<circle cx="163.0" cy="56.9" r="3.1" fill="#a3b1d0"/>
<circle cx="112.5" cy="272.1" r="2.8" fill="#a9b6d4"/>
<circle cx="169.7" cy="127.4" r="2.9" fill="#b0bcd8"/>
<circle cx="180.1" cy="248.7" r="2.9" fill="#a9b6d4"/>
<circle cx="109.8" cy="217.8" r="2.7" fill="#a3b1d0"/>
<circle cx="299.0" cy="288.1" r="3.0" fill="#a3b1d0"/>
<circle cx="69.0" cy="103.1" r="3.3" fill="#a9b6d4"/>
<circle cx="34.7" cy="238.6" r="2.7" fill="#9fadcf"/>
<circle cx="108.3" cy="91.9" r="3.5" fill="#b0bcd8"/>
<circle cx="84.4" cy="107.3" r="3.3" fill="#a9b6d4"/>
<circle cx="312.9" cy="308.8" r="3.4" fill="#a3b1d0"/>
<circle cx="331.6" cy="226.2" r="3.1" fill="#a9b6d4"/>
<circle cx="157.7" cy="283.3" r="3.2" fill="#a9b6d4"/>
<circle cx="258.5" cy="11.4" r="2.8" fill="#9fadcf"/>
<circle cx="248.4" cy="184.9" r="2.9" fill="#a9b6d4"/>
<circle cx="255.7" cy="127.9" r="3.4" fill="#a3b1d0"/>
<circle cx="35.9" cy="218.9" r="3.2" fill="#9fadcf"/>
<circle cx="161.3" cy="265.1" r="2.7" fill="#a3b1d0"/>
<circle cx="245.1" cy="154.5" r="2.7" fill="#b0bcd8"/>
<circle cx="46.0" cy="271.7" r="2.7" fill="#a9b6d4"/>
<circle cx="186.4" cy="227.1" r="2.6" fill="#a9b6d4"/>
<circle cx="67.2" cy="158.8" r="3.3" fill="#b0bcd8"/>
<circle cx="282.0" cy="26.1" r="3.1" fill="#a9b6d4"/>
<circle cx="204.9" cy="201.4" r="2.8" fill="#a9b6d4"/>
<circle cx="321.4" cy="9.2" r="2.9" fill="#a3b1d0"/>
<circle cx="16.9" cy="315.1" r="2.8" fill="#a3b1d0"/>
<circle cx="63.6" cy="17.3" r="3.1" fill="#9fadcf"/>
<circle cx="191.4" cy="22.5" r="2.8" fill="#a9b6d4"/>
<circle cx="31.3" cy="191.5" r="3.1" fill="#a9b6d4"/>
<circle cx="92.6" cy="189.8" r="3.0" fill="#b0bcd8"/>
<circle cx="299.7" cy="175.1" r="2.9" fill="#a3b1d0"/>
<circle cx="70.7" cy="236.2" r="3.4" fill="#a9b6d4"/>
<circle cx="269.6" cy="280.7" r="2.9" fill="#a3b1d0"/>
<circle cx="301.1" cy="124.9" r="2.7" fill="#b0bcd8"/>
<circle cx="113.5" cy="81.3" r="3.3" fill="#9fadcf"/>
<circle cx="173.4" cy="79.0" r="2.7" fill="#a9b6d4"/>
<circle cx="59.4" cy="78.7" r="3.1" fill="#9fadcf"/>
<circle cx="78.6" cy="20.9" r="2.9" fill="#a3b1d0"/>
<circle cx="330.7" cy="2.7" r="3.3" fill="#b0bcd8"/>
<circle cx="102.9" cy="160.6" r="2.8" fill="#9fadcf"/>
<circle cx="299.3" cy="270.4" r="3.4" fill="#a3b1d0"/>
<circle cx="215.7" cy="39.3" r="3.0" fill="#a9b6d4"/>
<circle cx="333.1" cy="180.8" r="2.9" fill="#9fadcf"/>
<circle cx="108.6" cy="191.9" r="3.3" fill="#b0bcd8"/>
<circle cx="198.8" cy="130.1" r="2.8" fill="#a9b6d4"/>
<circle cx="272.1" cy="237.3" r="2.9" fill="#a3b1d0"/>
<circle cx="6.7" cy="87.6" r="3.0" fill="#b0bcd8"/>
<circle cx="98.6" cy="226.4" r="2.7" fill="#a3b1d0"/>
<circle cx="196.9" cy="34.9" r="2.9" fill="#b0bcd8"/>
<circle cx="50.0" cy="184.1" r="2.9" fill="#a3b1d0"/>
<circle cx="235.5" cy="79.8" r="3.1" fill="#a3b1d0"/>
<circle cx="230.7" cy="252.7" r="2.8" fill="#a3b1d0"/>
<circle cx="234.2" cy="108.4" r="2.9" fill="#a9b6d4"/>
<circle cx="336.5" cy="56.7" r="2.6" fill="#a3b1d0"/>
<circle cx="22.3" cy="62.1" r="3.4" fill="#b0bcd8"/>
<circle cx="178.8" cy="191.0" r="2.7" fill="#a9b6d4"/>
<circle cx="278.0" cy="164.6" r="2.9" fill="#9fadcf"/>
<circle cx="303.9" cy="34.8" r="3.1" fill="#a9b6d4"/>
<circle cx="39.5" cy="88.7" r="2.8" fill="#a9b6d4"/>
<circle cx="174.9" cy="8.9" r="2.8" fill="#a9b6d4"/>
<circle cx="163.3" cy="176.7" r="2.8" fill="#b0bcd8"/>
<circle cx="257.1" cy="142.8" r="3.3" fill="#9fadcf"/>
<circle cx="269.1" cy="226.6" r="3.1" fill="#a9b6d4"/>
<circle cx="76.7" cy="67.0" r="2.8" fill="#9fadcf"/>
<circle cx="317.5" cy="208.4" r="3.3" fill="#9fadcf"/>
<circle cx="37.7" cy="124.7" r="2.9" fill="#a3b1d0"/>
<circle cx="221.1" cy="6.8" r="2.6" fill="#a9b6d4"/>
<circle cx="125.2" cy="192.0" r="3.0" fill="#a3b1d0"/>
<circle cx="261.1" cy="69.4" r="3.4" fill="#b0bcd8"/>
<circle cx="11.2" cy="272.5" r="2.9" fill="#a9b6d4"/>
<circle cx="89.9" cy="150.3" r="3.1" fill="#a9b6d4"/>
<circle cx="327.9" cy="78.4" r="3.5" fill="#b0bcd8"/>
<circle cx="213.9" cy="180.0" r="3.3" fill="#9fadcf"/>
<circle cx="111.2" cy="256.3" r="3.4" fill="#9fadcf"/>
<circle cx="8.5" cy="102.3" r="2.9" fill="#a3b1d0"/>
<circle cx="146.0" cy="277.6" r="2.8" fill="#a3b1d0"/>
<circle cx="324.0" cy="142.5" r="2.7" fill="#a3b1d0"/>
<circle cx="293.6" cy="85.2" r="3.4" fill="#b0bcd8"/>
<circle cx="144.2" cy="263.1" r="3.5" fill="#b0bcd8"/>
<circle cx="214.3" cy="95.8" r="2.7" fill="#a9b6d4"/>
<circle cx="330.1" cy="91.2" r="3.3" fill="#a3b1d0"/>
<circle cx="17.9" cy="179.1" r="2.7" fill="#9fadcf"/>
<circle cx="43.8" cy="38.4" r="2.7" fill="#b0bcd8"/>
<circle cx="135.4" cy="86.8" r="2.7" fill="#9fadcf"/>
<circle cx="332.8" cy="249.0" r="3.1" fill="#9fadcf"/>
<circle cx="217.8" cy="313.7" r="2.8" fill="#9fadcf"/>
<circle cx="182.4" cy="288.3" r="3.0" fill="#a3b1d0"/>
<circle cx="35.4" cy="68.8" r="2.7" fill="#a3b1d0"/>
<circle cx="296.9" cy="103.2" r="2.6" fill="#9fadcf"/>
<circle cx="250.4" cy="93.1" r="2.7" fill="#9fadcf"/>
<circle cx="213.8" cy="26.1" r="3.2" fill="#a9b6d4"/>
<circle cx="241.5" cy="55.5" r="2.9" fill="#b0bcd8"/>
<circle cx="174.1" cy="298.3" r="2.9" fill="#b0bcd8"/>
<circle cx="150.4" cy="245.2" r="3.2" fill="#9fadcf"/>
<circle cx="45.4" cy="206.7" r="2.9" fill="#a3b1d0"/>
<circle cx="58.3" cy="276.0" r="3.3" fill="#a3b1d0"/>
<circle cx="109.7" cy="206.8" r="3.0" fill="#a9b6d4"/>
<circle cx="231.9" cy="7.1" r="3.1" fill="#a9b6d4"/>
<circle cx="296.5" cy="158.5" r="3.4" fill="#b0bcd8"/>
<circle cx="285.0" cy="267.8" r="2.9" fill="#b0bcd8"/>
<circle cx="321.9" cy="175.8" r="2.6" fill="#a3b1d0"/>
<circle cx="128.2" cy="57.9" r="3.0" fill="#b0bcd8"/>
<circle cx="277.3" cy="296.1" r="3.0" fill="#a9b6d4"/>
<circle cx="120.8" cy="181.6" r="2.6" fill="#a9b6d4"/>
<circle cx="334.1" cy="101.8" r="2.9" fill="#a9b6d4"/>
<circle cx="148.3" cy="71.3" r="3.4" fill="#9fadcf"/>
<circle cx="86.6" cy="132.0" r="2.9" fill="#a3b1d0"/>
<circle cx="12.0" cy="143.8" r="2.7" fill="#a3b1d0"/>
<circle cx="85.6" cy="249.8" r="3.0" fill="#a3b1d0"/>
<circle cx="3.6" cy="63.8" r="3.0" fill="#a9b6d4"/>
<circle cx="133.1" cy="281.7" r="2.6" fill="#a3b1d0"/>
<circle cx="81.0" cy="287.5" r="2.7" fill="#b0bcd8"/>
<circle cx="3.3" cy="290.0" r="3.0" fill="#9fadcf"/>
<circle cx="212.6" cy="77.6" r="3.4" fill="#a9b6d4"/>
<circle cx="75.0" cy="253.7" r="3.3" fill="#9fadcf"/>
<circle cx="290.0" cy="231.7" r="3.2" fill="#b0bcd8"/>
<circle cx="122.6" cy="97.6" r="3.1" fill="#b0bcd8"/>
<circle cx="161.6" cy="68.3" r="3.1" fill="#a3b1d0"/>
<circle cx="142.0" cy="3.3" r="3.0" fill="#a9b6d4"/>
<circle cx="100.6" cy="32.0" r="2.9" fill="#a9b6d4"/>
<circle cx="57.7" cy="121.3" r="3.1" fill="#9fadcf"/>
<circle cx="329.4" cy="307.7" r="3.4" fill="#9fadcf"/>
<circle cx="115.5" cy="306.7" r="3.3" fill="#9fadcf"/>
<circle cx="270.6" cy="270.0" r="3.0" fill="#9fadcf"/>
<circle cx="196.5" cy="45.0" r="2.7" fill="#a3b1d0"/>
<circle cx="158.1" cy="120.8" r="3.5" fill="#9fadcf"/>
<circle cx="51.1" cy="163.5" r="2.8" fill="#b0bcd8"/>
<circle cx="44.2" cy="251.8" r="2.9" fill="#a3b1d0"/>
<circle cx="238.2" cy="213.9" r="3.2" fill="#b0bcd8"/>
<circle cx="335.2" cy="113.5" r="2.7" fill="#b0bcd8"/>
<circle cx="92.2" cy="175.6" r="2.8" fill="#9fadcf"/>
<circle cx="100.6" cy="53.7" r="2.6" fill="#9fadcf"/>
<circle cx="67.2" cy="146.1" r="2.7" fill="#9fadcf"/>
<circle cx="187.7" cy="76.6" r="3.3" fill="#b0bcd8"/>
<circle cx="266.1" cy="299.0" r="2.9" fill="#9fadcf"/>
</g>
<g filter="url(#b1)">
<circle cx="141.4" cy="27.4" r="14.1" fill="#fbfaf8" stroke="#e6e2dd" stroke-width="0.8"/>
<circle cx="91.7" cy="9.7" r="10.4" fill="#fbfaf8" stroke="#e6e2dd" stroke-width="0.8"/>
<circle cx="273.1" cy="40.9" r="11.4" fill="#fbfaf8" stroke="#e6e2dd" stroke-width="0.8"/>
<circle cx="321.9" cy="35.7" r="12.4" fill="#fbfaf8" stroke="#e6e2dd" stroke-width="0.8"/>
<circle cx="303.2" cy="12.9" r="8.3" fill="#fbfaf8" stroke="#e6e2dd" stroke-width="0.8"/>
<circle cx="230.6" cy="47.1" r="8.3" fill="#fbfaf8" stroke="#e6e2dd" stroke-width="0.8"/>
<circle cx="73.0" cy="36.7" r="5.2" fill="#fbfaf8" stroke="#e6e2dd" stroke-width="0.8"/>
<circle cx="143.5" cy="58.5" r="5.2" fill="#fbfaf8" stroke="#e6e2dd" stroke-width="0.8"/>
<circle cx="254.5" cy="80.3" r="5.2" fill="#fbfaf8" stroke="#e6e2dd" stroke-width="0.8"/>
<circle cx="316.7" cy="98.9" r="6.6" fill="#fbfaf8" stroke="#e6e2dd" stroke-width="0.8"/>
<circle cx="200.5" cy="151.8" r="8.3" fill="#fbfaf8" stroke="#e6e2dd" stroke-width="0.8"/>
<circle cx="318.7" cy="160.1" r="10.4" fill="#fbfaf8" stroke="#e6e2dd" stroke-width="0.8"/>
<circle cx="152.8" cy="221.3" r="9.3" fill="#fbfaf8" stroke="#e6e2dd" stroke-width="0.8"/>
<circle cx="181.9" cy="265.9" r="9.3" fill="#fbfaf8" stroke="#e6e2dd" stroke-width="0.8"/>
<circle cx="199.5" cy="287.6" r="10.4" fill="#fbfaf8" stroke="#e6e2dd" stroke-width="0.8"/>
<circle cx="241.0" cy="274.2" r="14.5" fill="#fbfaf8" stroke="#e6e2dd" stroke-width="0.8"/>
<circle cx="220.2" cy="282.5" r="8.3" fill="#fbfaf8" stroke="#e6e2dd" stroke-width="0.8"/>
<circle cx="226.5" cy="303.2" r="8.3" fill="#fbfaf8" stroke="#e6e2dd" stroke-width="0.8"/>
<circle cx="137.3" cy="303.2" r="15.6" fill="#fbfaf8" stroke="#e6e2dd" stroke-width="0.8"/>
<circle cx="67.8" cy="295.9" r="9.3" fill="#fbfaf8" stroke="#e6e2dd" stroke-width="0.8"/>
<circle cx="315.6" cy="270.0" r="8.3" fill="#fbfaf8" stroke="#e6e2dd" stroke-width="0.8"/>
<circle cx="326.0" cy="290.8" r="8.3" fill="#fbfaf8" stroke="#e6e2dd" stroke-width="0.8"/>
<circle cx="162.2" cy="252.4" r="4.6" fill="#fbfaf8" stroke="#e6e2dd" stroke-width="0.8"/>
<circle cx="119.7" cy="297.0" r="3.7" fill="#fbfaf8" stroke="#e6e2dd" stroke-width="0.8"/>
<circle cx="104.1" cy="312.5" r="6.2" fill="#fbfaf8" stroke="#e6e2dd" stroke-width="0.8"/>
<circle cx="62.6" cy="246.2" r="3.1" fill="#fbfaf8" stroke="#e6e2dd" stroke-width="0.8"/>
<circle cx="68.9" cy="281.4" r="3.1" fill="#fbfaf8" stroke="#e6e2dd" stroke-width="0.8"/>
<circle cx="303.2" cy="75.1" r="5.2" fill="#fbfaf8" stroke="#e6e2dd" stroke-width="0.8"/>
<circle cx="116.5" cy="23.2" r="3.1" fill="#fbfaf8" stroke="#e6e2dd" stroke-width="0.8"/>
<circle cx="48.1" cy="12.9" r="5.2" fill="#fbfaf8" stroke="#e6e2dd" stroke-width="0.8"/>
<circle cx="54.3" cy="54.3" r="4.1" fill="#fbfaf8" stroke="#e6e2dd" stroke-width="0.8"/>
<circle cx="238.9" cy="19.1" r="2.5" fill="#fbfaf8" stroke="#e6e2dd" stroke-width="0.8"/>
<circle cx="199.5" cy="261.7" r="2.9" fill="#fbfaf8" stroke="#e6e2dd" stroke-width="0.8"/>
<circle cx="153.9" cy="315.6" r="2.9" fill="#fbfaf8" stroke="#e6e2dd" stroke-width="0.8"/>
<circle cx="251.3" cy="294.9" r="3.7" fill="#fbfaf8" stroke="#e6e2dd" stroke-width="0.8"/>
<circle cx="286.6" cy="278.3" r="2.9" fill="#fbfaf8" stroke="#e6e2dd" stroke-width="0.8"/>
<ellipse cx="58.5" cy="91.7" rx="4.6" ry="12.4" fill="#fbfaf9" transform="rotate(15 58.5 91.7)"/>
<circle cx="102.0" cy="117.6" r="4.1" fill="#b08a5a" opacity="0.50"/>
<ellipse cx="102.0" cy="117.6" rx="3.0" ry="2.1" fill="#7a4d1e" opacity="0.90" transform="rotate(43 102.0 117.6)"/>
<circle cx="131.1" cy="165.3" r="5.0" fill="#b08a5a" opacity="0.50"/>
<ellipse cx="131.1" cy="165.3" rx="3.6" ry="2.5" fill="#7a4d1e" opacity="0.90" transform="rotate(78 131.1 165.3)"/>
<circle cx="157.0" cy="145.6" r="3.4" fill="#b08a5a" opacity="0.50"/>
<ellipse cx="157.0" cy="145.6" rx="2.5" ry="1.7" fill="#7a4d1e" opacity="0.90" transform="rotate(68 157.0 145.6)"/>
<circle cx="201.6" cy="174.6" r="6.4" fill="#b08a5a" opacity="0.50"/>
<ellipse cx="201.6" cy="174.6" rx="4.6" ry="3.2" fill="#7a4d1e" opacity="0.90" transform="rotate(123 201.6 174.6)"/>
<circle cx="208.8" cy="177.1" r="4.1" fill="#b08a5a" opacity="0.50"/>
<ellipse cx="208.8" cy="177.1" rx="3.0" ry="2.1" fill="#7a4d1e" opacity="0.90" transform="rotate(157 208.8 177.1)"/>
<circle cx="210.9" cy="156.0" r="3.2" fill="#b08a5a" opacity="0.45"/>
<ellipse cx="210.9" cy="156.0" rx="2.3" ry="1.6" fill="#7a4d1e" opacity="0.81" transform="rotate(64 210.9 156.0)"/>
<circle cx="199.5" cy="110.3" r="2.3" fill="#b08a5a" opacity="0.40"/>
<ellipse cx="199.5" cy="110.3" rx="1.7" ry="1.1" fill="#7a4d1e" opacity="0.72" transform="rotate(95 199.5 110.3)"/>
<circle cx="78.2" cy="204.7" r="5.7" fill="#b08a5a" opacity="0.50"/>
<ellipse cx="78.2" cy="204.7" rx="4.1" ry="2.9" fill="#7a4d1e" opacity="0.90" transform="rotate(66 78.2 204.7)"/>
<circle cx="56.4" cy="203.6" r="2.3" fill="#b08a5a" opacity="0.30"/>
<ellipse cx="56.4" cy="203.6" rx="1.7" ry="1.1" fill="#7a4d1e" opacity="0.54" transform="rotate(43 56.4 203.6)"/>
<circle cx="174.6" cy="230.6" r="5.7" fill="#b08a5a" opacity="0.50"/>
<ellipse cx="174.6" cy="230.6" rx="4.1" ry="2.9" fill="#7a4d1e" opacity="0.90" transform="rotate(38 174.6 230.6)"/>
<circle cx="189.1" cy="250.3" r="4.1" fill="#b08a5a" opacity="0.50"/>
<ellipse cx="189.1" cy="250.3" rx="3.0" ry="2.1" fill="#7a4d1e" opacity="0.90" transform="rotate(44 189.1 250.3)"/>
<circle cx="69.9" cy="238.9" r="3.2" fill="#b08a5a" opacity="0.45"/>
<ellipse cx="69.9" cy="238.9" rx="2.3" ry="1.6" fill="#7a4d1e" opacity="0.81" transform="rotate(15 69.9 238.9)"/>
<circle cx="80.3" cy="266.9" r="4.1" fill="#b08a5a" opacity="0.50"/>
<ellipse cx="80.3" cy="266.9" rx="3.0" ry="2.1" fill="#7a4d1e" opacity="0.90" transform="rotate(115 80.3 266.9)"/>
<circle cx="54.3" cy="278.3" r="4.1" fill="#b08a5a" opacity="0.50"/>
<ellipse cx="54.3" cy="278.3" rx="3.0" ry="2.1" fill="#7a4d1e" opacity="0.90" transform="rotate(46 54.3 278.3)"/>
<circle cx="38.8" cy="274.2" r="3.2" fill="#b08a5a" opacity="0.50"/>
<ellipse cx="38.8" cy="274.2" rx="2.3" ry="1.6" fill="#7a4d1e" opacity="0.90" transform="rotate(25 38.8 274.2)"/>
<circle cx="39.8" cy="284.5" r="2.7" fill="#b08a5a" opacity="0.50"/>
<ellipse cx="39.8" cy="284.5" rx="2.0" ry="1.4" fill="#7a4d1e" opacity="0.90" transform="rotate(146 39.8 284.5)"/>
<circle cx="48.1" cy="278.3" r="1.8" fill="#b08a5a" opacity="0.40"/>
<ellipse cx="48.1" cy="278.3" rx="1.3" ry="0.9" fill="#7a4d1e" opacity="0.72" transform="rotate(103 48.1 278.3)"/>
<circle cx="14.9" cy="244.1" r="2.3" fill="#b08a5a" opacity="0.35"/>
<ellipse cx="14.9" cy="244.1" rx="1.7" ry="1.1" fill="#7a4d1e" opacity="0.63" transform="rotate(67 14.9 244.1)"/>
<circle cx="147.7" cy="180.8" r="3.2" fill="#b08a5a" opacity="0.25"/>
<ellipse cx="147.7" cy="180.8" rx="2.3" ry="1.6" fill="#7a4d1e" opacity="0.45" transform="rotate(123 147.7 180.8)"/>
<circle cx="290.8" cy="297.0" r="2.7" fill="#b08a5a" opacity="0.25"/>
<ellipse cx="290.8" cy="297.0" rx="2.0" ry="1.4" fill="#7a4d1e" opacity="0.45" transform="rotate(92 290.8 297.0)"/>
<circle cx="243.1" cy="243.1" r="2.7" fill="#b08a5a" opacity="0.30"/>
<ellipse cx="243.1" cy="243.1" rx="2.0" ry="1.4" fill="#7a4d1e" opacity="0.54" transform="rotate(177 243.1 243.1)"/>
<circle cx="280.4" cy="169.4" r="2.3" fill="#b08a5a" opacity="0.25"/>
<ellipse cx="280.4" cy="169.4" rx="1.7" ry="1.1" fill="#7a4d1e" opacity="0.45" transform="rotate(108 280.4 169.4)"/>
<circle cx="52.3" cy="41.9" r="1.8" fill="#b08a5a" opacity="0.25"/>
<ellipse cx="52.3" cy="41.9" rx="1.3" ry="0.9" fill="#7a4d1e" opacity="0.45" transform="rotate(140 52.3 41.9)"/>
<circle cx="40.9" cy="44.0" r="1.8" fill="#b08a5a" opacity="0.20"/>
<ellipse cx="40.9" cy="44.0" rx="1.3" ry="0.9" fill="#7a4d1e" opacity="0.36" transform="rotate(143 40.9 44.0)"/>
<circle cx="205.7" cy="74.0" r="2.3" fill="#b08a5a" opacity="0.25"/>
<ellipse cx="205.7" cy="74.0" rx="1.7" ry="1.1" fill="#7a4d1e" opacity="0.45" transform="rotate(98 205.7 74.0)"/>
<circle cx="172.5" cy="4.6" r="1.8" fill="#b08a5a" opacity="0.30"/>
<ellipse cx="172.5" cy="4.6" rx="1.3" ry="0.9" fill="#7a4d1e" opacity="0.54" transform="rotate(25 172.5 4.6)"/>
<circle cx="284.5" cy="187.1" r="1.8" fill="#b08a5a" opacity="0.20"/>
<ellipse cx="284.5" cy="187.1" rx="1.3" ry="0.9" fill="#7a4d1e" opacity="0.36" transform="rotate(97 284.5 187.1)"/>
<circle cx="299.0" cy="199.5" r="1.8" fill="#b08a5a" opacity="0.20"/>
<ellipse cx="299.0" cy="199.5" rx="1.3" ry="0.9" fill="#7a4d1e" opacity="0.36" transform="rotate(118 299.0 199.5)"/>
<circle cx="323.9" cy="199.5" r="1.6" fill="#b08a5a" opacity="0.20"/>
<ellipse cx="323.9" cy="199.5" rx="1.2" ry="0.8" fill="#7a4d1e" opacity="0.36" transform="rotate(23 323.9 199.5)"/>
</g>
</svg>
<svg x="307.8" y="1988.2" width="338.7" height="318.5" viewBox="0 0 338.7 318.5" overflow="hidden">
<defs><filter id="t2" x="0" y="0" width="100%" height="100%" color-interpolation-filters="sRGB"><feTurbulence type="fractalNoise" baseFrequency="0.18" numOctaves="2" seed="9"/><feColorMatrix type="matrix" values="0.13 0 0 0 0.84  0.13 0 0 0 0.832  0.13 0 0 0 0.86  0 0 0 0 1"/></filter><filter id="b2" x="-5%" y="-5%" width="110%" height="110%"><feGaussianBlur stdDeviation="0.6"/></filter></defs>
<rect width="338.7" height="318.5" rx="2" fill="#e7e6ef"/>
<rect width="338.7" height="318.5" rx="2" filter="url(#t2)"/>
<g filter="url(#b2)">
<circle cx="70.9" cy="19.1" r="2.9" fill="#959fd0"/>
<circle cx="119.7" cy="29.4" r="3.6" fill="#959fd0"/>
<circle cx="238.9" cy="30.5" r="3.6" fill="#959fd0"/>
<circle cx="248.2" cy="7.7" r="3.0" fill="#adb8de"/>
<circle cx="299.0" cy="38.8" r="2.9" fill="#adb8de"/>
<circle cx="116.5" cy="42.9" r="3.2" fill="#a6b1da"/>
<circle cx="12.9" cy="54.3" r="3.0" fill="#959fd0"/>
<circle cx="66.8" cy="89.6" r="3.0" fill="#adb8de"/>
<circle cx="107.2" cy="89.6" r="3.5" fill="#9da8d6"/>
<circle cx="94.8" cy="95.8" r="2.9" fill="#adb8de"/>
<circle cx="141.4" cy="81.3" r="2.9" fill="#959fd0"/>
<circle cx="210.9" cy="70.9" r="3.3" fill="#959fd0"/>
<circle cx="209.9" cy="81.3" r="3.4" fill="#959fd0"/>
<circle cx="331.2" cy="98.9" r="3.2" fill="#9da8d6"/>
<circle cx="179.8" cy="108.3" r="3.1" fill="#a6b1da"/>
<circle cx="18.0" cy="106.2" r="3.4" fill="#adb8de"/>
<circle cx="174.6" cy="93.7" r="3.1" fill="#9da8d6"/>
<circle cx="267.9" cy="107.2" r="3.5" fill="#adb8de"/>
<circle cx="28.4" cy="133.1" r="3.0" fill="#9da8d6"/>
<circle cx="222.3" cy="145.6" r="3.5" fill="#9da8d6"/>
<circle cx="216.1" cy="152.8" r="3.4" fill="#9da8d6"/>
<circle cx="12.9" cy="151.8" r="3.1" fill="#9da8d6"/>
<circle cx="167.4" cy="192.2" r="3.5" fill="#959fd0"/>
<circle cx="102.0" cy="169.4" r="2.9" fill="#adb8de"/>
<circle cx="41.9" cy="209.9" r="3.0" fill="#a6b1da"/>
<circle cx="69.9" cy="231.6" r="3.5" fill="#a6b1da"/>
<circle cx="114.5" cy="231.6" r="2.9" fill="#adb8de"/>
<circle cx="129.0" cy="215.1" r="3.6" fill="#959fd0"/>
<circle cx="162.2" cy="216.1" r="2.8" fill="#9da8d6"/>
<circle cx="174.6" cy="221.3" r="2.9" fill="#9da8d6"/>
<circle cx="297.0" cy="221.3" r="3.5" fill="#9da8d6"/>
<circle cx="315.6" cy="225.4" r="3.6" fill="#a6b1da"/>
<circle cx="297.0" cy="232.7" r="3.6" fill="#a6b1da"/>
<circle cx="12.9" cy="241.0" r="3.4" fill="#a6b1da"/>
<circle cx="78.2" cy="244.1" r="3.0" fill="#adb8de"/>
<circle cx="97.9" cy="244.1" r="2.8" fill="#a6b1da"/>
<circle cx="182.9" cy="244.1" r="3.0" fill="#adb8de"/>
<circle cx="201.6" cy="251.3" r="3.4" fill="#9da8d6"/>
<circle cx="81.3" cy="260.7" r="3.3" fill="#a6b1da"/>
<circle cx="4.6" cy="277.3" r="3.2" fill="#9da8d6"/>
<circle cx="160.1" cy="279.3" r="3.6" fill="#a6b1da"/>
<circle cx="17.0" cy="288.7" r="3.3" fill="#9da8d6"/>
<circle cx="83.4" cy="285.6" r="3.0" fill="#a6b1da"/>
<circle cx="225.4" cy="279.3" r="3.5" fill="#959fd0"/>
<circle cx="249.3" cy="279.3" r="3.2" fill="#a6b1da"/>
<circle cx="255.5" cy="279.3" r="2.9" fill="#a6b1da"/>
<circle cx="220.2" cy="290.8" r="3.0" fill="#adb8de"/>
<circle cx="305.3" cy="281.4" r="3.2" fill="#adb8de"/>
<circle cx="162.2" cy="299.0" r="3.5" fill="#959fd0"/>
<circle cx="133.1" cy="308.4" r="2.9" fill="#a6b1da"/>
<circle cx="199.5" cy="313.6" r="3.0" fill="#9da8d6"/>
<circle cx="222.3" cy="314.6" r="3.2" fill="#a6b1da"/>
<circle cx="44.0" cy="247.2" r="2.8" fill="#9da8d6"/>
<circle cx="272.1" cy="116.5" r="3.2" fill="#a6b1da"/>
<circle cx="151.8" cy="91.7" r="3.3" fill="#a6b1da"/>
<circle cx="247.2" cy="85.4" r="3.5" fill="#adb8de"/>
<circle cx="137.3" cy="149.7" r="2.9" fill="#959fd0"/>
<circle cx="321.9" cy="149.7" r="3.1" fill="#9da8d6"/>
<circle cx="265.9" cy="156.0" r="3.5" fill="#9da8d6"/>
<circle cx="207.8" cy="220.2" r="3.2" fill="#959fd0"/>
<circle cx="145.6" cy="222.3" r="2.8" fill="#9da8d6"/>
<circle cx="46.0" cy="259.6" r="3.5" fill="#adb8de"/>
<circle cx="108.3" cy="290.8" r="3.4" fill="#9da8d6"/>
<circle cx="60.6" cy="282.5" r="3.2" fill="#959fd0"/>
<circle cx="33.6" cy="309.4" r="3.3" fill="#a6b1da"/>
<circle cx="191.2" cy="274.2" r="3.0" fill="#a6b1da"/>
<circle cx="321.9" cy="278.3" r="3.0" fill="#959fd0"/>
<circle cx="9.8" cy="148.3" r="4.8" fill="#f6f5fc" stroke="#cfcdda" stroke-width="0.5"/>
<circle cx="219.8" cy="286.9" r="2.0" fill="#f6f5fc" stroke="#cfcdda" stroke-width="0.5"/>
<circle cx="158.9" cy="78.5" r="3.4" fill="#f6f5fc" stroke="#cfcdda" stroke-width="0.5"/>
<circle cx="194.4" cy="4.2" r="2.3" fill="#f6f5fc" stroke="#cfcdda" stroke-width="0.5"/>
<circle cx="94.7" cy="291.9" r="4.2" fill="#f6f5fc" stroke="#cfcdda" stroke-width="0.5"/>
<circle cx="54.1" cy="253.9" r="2.1" fill="#f6f5fc" stroke="#cfcdda" stroke-width="0.5"/>
<circle cx="209.1" cy="40.4" r="1.6" fill="#f6f5fc" stroke="#cfcdda" stroke-width="0.5"/>
<circle cx="332.7" cy="277.9" r="2.6" fill="#f6f5fc" stroke="#cfcdda" stroke-width="0.5"/>
<circle cx="325.7" cy="171.7" r="3.9" fill="#f6f5fc" stroke="#cfcdda" stroke-width="0.5"/>
<circle cx="327.4" cy="284.7" r="2.6" fill="#f6f5fc" stroke="#cfcdda" stroke-width="0.5"/>
<circle cx="122.3" cy="52.9" r="2.1" fill="#f6f5fc" stroke="#cfcdda" stroke-width="0.5"/>
<circle cx="1.1" cy="215.9" r="2.7" fill="#f6f5fc" stroke="#cfcdda" stroke-width="0.5"/>
<circle cx="19.3" cy="310.6" r="1.7" fill="#f6f5fc" stroke="#cfcdda" stroke-width="0.5"/>
<circle cx="254.0" cy="269.1" r="1.7" fill="#f6f5fc" stroke="#cfcdda" stroke-width="0.5"/>
<circle cx="266.8" cy="116.6" r="3.6" fill="#f6f5fc" stroke="#cfcdda" stroke-width="0.5"/>
<circle cx="60.1" cy="24.9" r="2.1" fill="#f6f5fc" stroke="#cfcdda" stroke-width="0.5"/>
<circle cx="233.4" cy="317.5" r="2.1" fill="#f6f5fc" stroke="#cfcdda" stroke-width="0.5"/>
<circle cx="167.2" cy="267.0" r="2.0" fill="#f6f5fc" stroke="#cfcdda" stroke-width="0.5"/>
<circle cx="266.9" cy="34.0" r="3.1" fill="#f6f5fc" stroke="#cfcdda" stroke-width="0.5"/>
<circle cx="50.5" cy="269.0" r="2.6" fill="#f6f5fc" stroke="#cfcdda" stroke-width="0.5"/>
<circle cx="334.8" cy="305.7" r="3.7" fill="#f6f5fc" stroke="#cfcdda" stroke-width="0.5"/>
<circle cx="169.1" cy="107.8" r="1.9" fill="#f6f5fc" stroke="#cfcdda" stroke-width="0.5"/>
<circle cx="92.2" cy="249.1" r="4.5" fill="#f6f5fc" stroke="#cfcdda" stroke-width="0.5"/>
<circle cx="235.3" cy="211.5" r="4.2" fill="#f6f5fc" stroke="#cfcdda" stroke-width="0.5"/>
<circle cx="164.5" cy="245.2" r="3.9" fill="#f6f5fc" stroke="#cfcdda" stroke-width="0.5"/>
<circle cx="99.5" cy="301.2" r="3.8" fill="#f6f5fc" stroke="#cfcdda" stroke-width="0.5"/>
<circle cx="294.6" cy="219.2" r="4.9" fill="#f6f5fc" stroke="#cfcdda" stroke-width="0.5"/>
<circle cx="161.6" cy="220.2" r="4.0" fill="#f6f5fc" stroke="#cfcdda" stroke-width="0.5"/>
<circle cx="196.7" cy="212.0" r="3.0" fill="#f6f5fc" stroke="#cfcdda" stroke-width="0.5"/>
<circle cx="211.3" cy="246.7" r="3.8" fill="#f6f5fc" stroke="#cfcdda" stroke-width="0.5"/>
<circle cx="244.0" cy="8.8" r="2.1" fill="#f6f5fc" stroke="#cfcdda" stroke-width="0.5"/>
<circle cx="149.4" cy="207.1" r="2.3" fill="#f6f5fc" stroke="#cfcdda" stroke-width="0.5"/>
<circle cx="232.3" cy="200.9" r="1.7" fill="#f6f5fc" stroke="#cfcdda" stroke-width="0.5"/>
<circle cx="65.5" cy="11.4" r="3.2" fill="#f6f5fc" stroke="#cfcdda" stroke-width="0.5"/>
<circle cx="80.6" cy="287.7" r="1.6" fill="#f6f5fc" stroke="#cfcdda" stroke-width="0.5"/>
<circle cx="39.0" cy="264.8" r="2.9" fill="#f6f5fc" stroke="#cfcdda" stroke-width="0.5"/>
<circle cx="48.1" cy="189.8" r="3.5" fill="#f6f5fc" stroke="#cfcdda" stroke-width="0.5"/>
<circle cx="324.2" cy="308.3" r="3.7" fill="#f6f5fc" stroke="#cfcdda" stroke-width="0.5"/>
<circle cx="118.9" cy="284.6" r="1.6" fill="#f6f5fc" stroke="#cfcdda" stroke-width="0.5"/>
<circle cx="36.6" cy="180.2" r="3.7" fill="#f6f5fc" stroke="#cfcdda" stroke-width="0.5"/>
<circle cx="47.7" cy="200.5" r="4.6" fill="#f6f5fc" stroke="#cfcdda" stroke-width="0.5"/>
<circle cx="98.7" cy="309.7" r="2.9" fill="#f6f5fc" stroke="#cfcdda" stroke-width="0.5"/>
<circle cx="88.0" cy="312.4" r="3.3" fill="#f6f5fc" stroke="#cfcdda" stroke-width="0.5"/>
<circle cx="166.6" cy="91.2" r="3.2" fill="#f6f5fc" stroke="#cfcdda" stroke-width="0.5"/>
<circle cx="90.7" cy="49.3" r="5.0" fill="#f6f5fc" stroke="#cfcdda" stroke-width="0.5"/>
<circle cx="252.3" cy="188.2" r="1.7" fill="#f6f5fc" stroke="#cfcdda" stroke-width="0.5"/>
<circle cx="239.9" cy="201.4" r="3.2" fill="#f6f5fc" stroke="#cfcdda" stroke-width="0.5"/>
<circle cx="112.0" cy="48.9" r="3.6" fill="#f6f5fc" stroke="#cfcdda" stroke-width="0.5"/>
<circle cx="277.6" cy="252.2" r="3.9" fill="#f6f5fc" stroke="#cfcdda" stroke-width="0.5"/>
<circle cx="8.7" cy="230.1" r="4.9" fill="#f6f5fc" stroke="#cfcdda" stroke-width="0.5"/>
<circle cx="203.3" cy="155.9" r="4.8" fill="#f6f5fc" stroke="#cfcdda" stroke-width="0.5"/>
<circle cx="28.9" cy="212.7" r="1.9" fill="#f6f5fc" stroke="#cfcdda" stroke-width="0.5"/>
<circle cx="159.3" cy="283.4" r="3.7" fill="#f6f5fc" stroke="#cfcdda" stroke-width="0.5"/>
<circle cx="145.2" cy="148.3" r="1.9" fill="#f6f5fc" stroke="#cfcdda" stroke-width="0.5"/>
<circle cx="10.9" cy="294.5" r="2.9" fill="#f6f5fc" stroke="#cfcdda" stroke-width="0.5"/>
<circle cx="159.8" cy="301.1" r="2.0" fill="#f6f5fc" stroke="#cfcdda" stroke-width="0.5"/>
<circle cx="8.4" cy="73.4" r="1.9" fill="#f6f5fc" stroke="#cfcdda" stroke-width="0.5"/>
<circle cx="135.8" cy="310.1" r="2.8" fill="#f6f5fc" stroke="#cfcdda" stroke-width="0.5"/>
<circle cx="248.0" cy="228.7" r="2.2" fill="#f6f5fc" stroke="#cfcdda" stroke-width="0.5"/>
<circle cx="335.2" cy="165.3" r="2.8" fill="#f6f5fc" stroke="#cfcdda" stroke-width="0.5"/>
<circle cx="166.4" cy="298.0" r="1.8" fill="#f6f5fc" stroke="#cfcdda" stroke-width="0.5"/>
<circle cx="20.4" cy="81.4" r="3.0" fill="#f6f5fc" stroke="#cfcdda" stroke-width="0.5"/>
<circle cx="103.6" cy="16.4" r="1.7" fill="#f6f5fc" stroke="#cfcdda" stroke-width="0.5"/>
<circle cx="329.1" cy="57.1" r="3.3" fill="#f6f5fc" stroke="#cfcdda" stroke-width="0.5"/>
<circle cx="106.3" cy="34.4" r="3.4" fill="#f6f5fc" stroke="#cfcdda" stroke-width="0.5"/>
<circle cx="72.6" cy="5.5" r="3.4" fill="#f6f5fc" stroke="#cfcdda" stroke-width="0.5"/>
<circle cx="164.8" cy="182.0" r="2.9" fill="#f6f5fc" stroke="#cfcdda" stroke-width="0.5"/>
<circle cx="211.7" cy="231.1" r="4.7" fill="#f6f5fc" stroke="#cfcdda" stroke-width="0.5"/>
<circle cx="75.9" cy="36.8" r="2.7" fill="#f6f5fc" stroke="#cfcdda" stroke-width="0.5"/>
<circle cx="106.0" cy="41.3" r="1.9" fill="#f6f5fc" stroke="#cfcdda" stroke-width="0.5"/>
<circle cx="82.9" cy="26.9" r="3.1" fill="#f6f5fc" stroke="#cfcdda" stroke-width="0.5"/>
<circle cx="237.3" cy="15.3" r="2.3" fill="#f6f5fc" stroke="#cfcdda" stroke-width="0.5"/>
<circle cx="258.7" cy="177.5" r="1.7" fill="#f6f5fc" stroke="#cfcdda" stroke-width="0.5"/>
<circle cx="291.2" cy="302.3" r="3.7" fill="#f6f5fc" stroke="#cfcdda" stroke-width="0.5"/>
<circle cx="280.1" cy="231.5" r="1.9" fill="#f6f5fc" stroke="#cfcdda" stroke-width="0.5"/>
<circle cx="151.1" cy="298.9" r="4.3" fill="#f6f5fc" stroke="#cfcdda" stroke-width="0.5"/>
<circle cx="40.0" cy="101.0" r="4.7" fill="#f6f5fc" stroke="#cfcdda" stroke-width="0.5"/>
<circle cx="81.8" cy="112.0" r="2.4" fill="#f6f5fc" stroke="#cfcdda" stroke-width="0.5"/>
<circle cx="281.7" cy="156.1" r="1.7" fill="#f6f5fc" stroke="#cfcdda" stroke-width="0.5"/>
<circle cx="211.0" cy="254.9" r="2.9" fill="#f6f5fc" stroke="#cfcdda" stroke-width="0.5"/>
<circle cx="3.4" cy="163.0" r="3.6" fill="#f6f5fc" stroke="#cfcdda" stroke-width="0.5"/>
<circle cx="206.9" cy="66.5" r="3.4" fill="#f6f5fc" stroke="#cfcdda" stroke-width="0.5"/>
<circle cx="303.5" cy="76.1" r="4.9" fill="#f6f5fc" stroke="#cfcdda" stroke-width="0.5"/>
<circle cx="187.4" cy="227.8" r="2.9" fill="#f6f5fc" stroke="#cfcdda" stroke-width="0.5"/>
<circle cx="76.1" cy="20.0" r="3.5" fill="#f6f5fc" stroke="#cfcdda" stroke-width="0.5"/>
<circle cx="141.2" cy="135.5" r="3.4" fill="#f6f5fc" stroke="#cfcdda" stroke-width="0.5"/>
<circle cx="306.4" cy="96.3" r="2.6" fill="#f6f5fc" stroke="#cfcdda" stroke-width="0.5"/>
<circle cx="204.4" cy="58.6" r="2.2" fill="#f6f5fc" stroke="#cfcdda" stroke-width="0.5"/>
<circle cx="282.7" cy="304.9" r="2.7" fill="#f6f5fc" stroke="#cfcdda" stroke-width="0.5"/>
<circle cx="161.5" cy="32.1" r="2.3" fill="#f6f5fc" stroke="#cfcdda" stroke-width="0.5"/>
<circle cx="53.1" cy="29.6" r="2.1" fill="#f6f5fc" stroke="#cfcdda" stroke-width="0.5"/>
<circle cx="208.5" cy="33.4" r="4.2" fill="#f6f5fc" stroke="#cfcdda" stroke-width="0.5"/>
<circle cx="34.8" cy="20.5" r="2.3" fill="#f6f5fc" stroke="#cfcdda" stroke-width="0.5"/>
<circle cx="167.8" cy="306.6" r="4.8" fill="#f6f5fc" stroke="#cfcdda" stroke-width="0.5"/>
<circle cx="91.8" cy="30.6" r="3.2" fill="#f6f5fc" stroke="#cfcdda" stroke-width="0.5"/>
<circle cx="18.0" cy="69.6" r="4.9" fill="#f6f5fc" stroke="#cfcdda" stroke-width="0.5"/>
<circle cx="263.7" cy="138.5" r="3.6" fill="#f6f5fc" stroke="#cfcdda" stroke-width="0.5"/>
<circle cx="256.1" cy="284.0" r="2.1" fill="#f6f5fc" stroke="#cfcdda" stroke-width="0.5"/>
<circle cx="304.0" cy="282.0" r="2.3" fill="#f6f5fc" stroke="#cfcdda" stroke-width="0.5"/>
<circle cx="202.9" cy="43.4" r="2.4" fill="#f6f5fc" stroke="#cfcdda" stroke-width="0.5"/>
<circle cx="237.8" cy="28.7" r="2.0" fill="#f6f5fc" stroke="#cfcdda" stroke-width="0.5"/>
<circle cx="218.0" cy="119.4" r="2.9" fill="#f6f5fc" stroke="#cfcdda" stroke-width="0.5"/>
<circle cx="102.2" cy="53.1" r="4.8" fill="#f6f5fc" stroke="#cfcdda" stroke-width="0.5"/>
<circle cx="191.7" cy="66.0" r="3.1" fill="#f6f5fc" stroke="#cfcdda" stroke-width="0.5"/>
<circle cx="48.7" cy="308.2" r="2.5" fill="#f6f5fc" stroke="#cfcdda" stroke-width="0.5"/>
<circle cx="167.4" cy="277.5" r="1.7" fill="#f6f5fc" stroke="#cfcdda" stroke-width="0.5"/>
<circle cx="231.7" cy="29.6" r="1.8" fill="#f6f5fc" stroke="#cfcdda" stroke-width="0.5"/>
<circle cx="285.7" cy="38.4" r="4.2" fill="#f6f5fc" stroke="#cfcdda" stroke-width="0.5"/>
<circle cx="89.2" cy="301.5" r="2.3" fill="#f6f5fc" stroke="#cfcdda" stroke-width="0.5"/>
<circle cx="29.9" cy="112.3" r="1.9" fill="#f6f5fc" stroke="#cfcdda" stroke-width="0.5"/>
<circle cx="144.0" cy="198.0" r="3.8" fill="#f6f5fc" stroke="#cfcdda" stroke-width="0.5"/>
<circle cx="59.2" cy="44.2" r="3.3" fill="#f6f5fc" stroke="#cfcdda" stroke-width="0.5"/>
<circle cx="188.1" cy="211.0" r="3.0" fill="#f6f5fc" stroke="#cfcdda" stroke-width="0.5"/>
<circle cx="265.6" cy="266.2" r="2.6" fill="#f6f5fc" stroke="#cfcdda" stroke-width="0.5"/>
<circle cx="217.0" cy="304.6" r="2.0" fill="#f6f5fc" stroke="#cfcdda" stroke-width="0.5"/>
<circle cx="260.8" cy="107.1" r="2.0" fill="#f6f5fc" stroke="#cfcdda" stroke-width="0.5"/>
<circle cx="294.6" cy="20.0" r="2.6" fill="#f6f5fc" stroke="#cfcdda" stroke-width="0.5"/>
<circle cx="303.6" cy="161.3" r="2.0" fill="#f6f5fc" stroke="#cfcdda" stroke-width="0.5"/>
<circle cx="140.9" cy="72.0" r="1.7" fill="#f6f5fc" stroke="#cfcdda" stroke-width="0.5"/>
<circle cx="38.9" cy="171.2" r="1.9" fill="#f6f5fc" stroke="#cfcdda" stroke-width="0.5"/>
<circle cx="334.4" cy="172.9" r="3.1" fill="#f6f5fc" stroke="#cfcdda" stroke-width="0.5"/>
<circle cx="144.9" cy="66.6" r="3.3" fill="#f6f5fc" stroke="#cfcdda" stroke-width="0.5"/>
<circle cx="318.0" cy="148.4" r="3.1" fill="#f6f5fc" stroke="#cfcdda" stroke-width="0.5"/>
<circle cx="96.2" cy="237.0" r="2.5" fill="#f6f5fc" stroke="#cfcdda" stroke-width="0.5"/>
<circle cx="55.3" cy="222.5" r="2.0" fill="#f6f5fc" stroke="#cfcdda" stroke-width="0.5"/>
<circle cx="216.5" cy="155.7" r="4.6" fill="#f6f5fc" stroke="#cfcdda" stroke-width="0.5"/>
<circle cx="221.9" cy="241.1" r="4.1" fill="#f6f5fc" stroke="#cfcdda" stroke-width="0.5"/>
<circle cx="0.4" cy="300.6" r="2.7" fill="#f6f5fc" stroke="#cfcdda" stroke-width="0.5"/>
<circle cx="68.6" cy="310.3" r="4.5" fill="#f6f5fc" stroke="#cfcdda" stroke-width="0.5"/>
<circle cx="150.6" cy="218.5" r="1.8" fill="#f6f5fc" stroke="#cfcdda" stroke-width="0.5"/>
<circle cx="271.9" cy="151.8" r="3.4" fill="#f6f5fc" stroke="#cfcdda" stroke-width="0.5"/>
<circle cx="8.4" cy="253.3" r="4.2" fill="#f6f5fc" stroke="#cfcdda" stroke-width="0.5"/>
<circle cx="242.5" cy="271.0" r="3.7" fill="#f6f5fc" stroke="#cfcdda" stroke-width="0.5"/>
<circle cx="6.9" cy="281.7" r="5.0" fill="#f6f5fc" stroke="#cfcdda" stroke-width="0.5"/>
<circle cx="68.2" cy="21.0" r="2.8" fill="#f6f5fc" stroke="#cfcdda" stroke-width="0.5"/>
<circle cx="33.9" cy="117.6" r="1.9" fill="#f6f5fc" stroke="#cfcdda" stroke-width="0.5"/>
<circle cx="154.3" cy="244.5" r="4.0" fill="#f6f5fc" stroke="#cfcdda" stroke-width="0.5"/>
<circle cx="294.9" cy="292.1" r="4.3" fill="#f6f5fc" stroke="#cfcdda" stroke-width="0.5"/>
<circle cx="140.9" cy="210.1" r="3.8" fill="#f6f5fc" stroke="#cfcdda" stroke-width="0.5"/>
<circle cx="180.7" cy="267.6" r="2.8" fill="#f6f5fc" stroke="#cfcdda" stroke-width="0.5"/>
<circle cx="32.1" cy="192.9" r="2.8" fill="#f6f5fc" stroke="#cfcdda" stroke-width="0.5"/>
<circle cx="48.7" cy="91.7" r="1.6" fill="#f6f5fc" stroke="#cfcdda" stroke-width="0.5"/>
<circle cx="161.8" cy="255.9" r="3.1" fill="#f6f5fc" stroke="#cfcdda" stroke-width="0.5"/>
<circle cx="117.1" cy="301.0" r="1.9" fill="#f6f5fc" stroke="#cfcdda" stroke-width="0.5"/>
<circle cx="286.5" cy="181.5" r="3.1" fill="#f6f5fc" stroke="#cfcdda" stroke-width="0.5"/>
<circle cx="151.0" cy="233.8" r="1.7" fill="#f6f5fc" stroke="#cfcdda" stroke-width="0.5"/>
<circle cx="234.9" cy="162.5" r="4.5" fill="#f6f5fc" stroke="#cfcdda" stroke-width="0.5"/>
<circle cx="318.5" cy="124.3" r="4.5" fill="#f6f5fc" stroke="#cfcdda" stroke-width="0.5"/>
<circle cx="337.7" cy="41.5" r="4.1" fill="#f6f5fc" stroke="#cfcdda" stroke-width="0.5"/>
<circle cx="15.4" cy="159.1" r="2.5" fill="#f6f5fc" stroke="#cfcdda" stroke-width="0.5"/>
<circle cx="335.0" cy="251.0" r="2.4" fill="#f6f5fc" stroke="#cfcdda" stroke-width="0.5"/>
<circle cx="57.3" cy="86.0" r="1.8" fill="#f6f5fc" stroke="#cfcdda" stroke-width="0.5"/>
<circle cx="288.2" cy="232.3" r="4.1" fill="#f6f5fc" stroke="#cfcdda" stroke-width="0.5"/>
<circle cx="324.2" cy="155.1" r="4.4" fill="#f6f5fc" stroke="#cfcdda" stroke-width="0.5"/>
<circle cx="77.4" cy="65.4" r="3.9" fill="#f6f5fc" stroke="#cfcdda" stroke-width="0.5"/>
<circle cx="69.9" cy="293.4" r="2.0" fill="#f6f5fc" stroke="#cfcdda" stroke-width="0.5"/>
<circle cx="200.5" cy="224.5" r="4.1" fill="#f6f5fc" stroke="#cfcdda" stroke-width="0.5"/>
<circle cx="234.0" cy="25.2" r="2.2" fill="#f6f5fc" stroke="#cfcdda" stroke-width="0.5"/>
<circle cx="157.8" cy="173.7" r="1.9" fill="#f6f5fc" stroke="#cfcdda" stroke-width="0.5"/>
<circle cx="105.7" cy="88.9" r="3.2" fill="#f6f5fc" stroke="#cfcdda" stroke-width="0.5"/>
<circle cx="203.6" cy="205.3" r="2.1" fill="#f6f5fc" stroke="#cfcdda" stroke-width="0.5"/>
<circle cx="151.1" cy="178.4" r="2.3" fill="#f6f5fc" stroke="#cfcdda" stroke-width="0.5"/>
<circle cx="34.6" cy="295.9" r="1.7" fill="#f6f5fc" stroke="#cfcdda" stroke-width="0.5"/>
<circle cx="308.2" cy="25.3" r="2.8" fill="#f6f5fc" stroke="#cfcdda" stroke-width="0.5"/>
<circle cx="149.7" cy="82.0" r="3.2" fill="#f6f5fc" stroke="#cfcdda" stroke-width="0.5"/>
<circle cx="208.8" cy="195.6" r="3.9" fill="#f6f5fc" stroke="#cfcdda" stroke-width="0.5"/>
<circle cx="313.5" cy="225.4" r="4.0" fill="#f6f5fc" stroke="#cfcdda" stroke-width="0.5"/>
<circle cx="271.9" cy="263.9" r="1.8" fill="#f6f5fc" stroke="#cfcdda" stroke-width="0.5"/>
<circle cx="180.1" cy="212.6" r="3.8" fill="#f6f5fc" stroke="#cfcdda" stroke-width="0.5"/>
<circle cx="64.5" cy="295.8" r="2.5" fill="#f6f5fc" stroke="#cfcdda" stroke-width="0.5"/>
<circle cx="161.5" cy="104.7" r="2.5" fill="#f6f5fc" stroke="#cfcdda" stroke-width="0.5"/>
<circle cx="48.8" cy="250.1" r="2.0" fill="#f6f5fc" stroke="#cfcdda" stroke-width="0.5"/>
<circle cx="242.6" cy="234.8" r="4.4" fill="#f6f5fc" stroke="#cfcdda" stroke-width="0.5"/>
<circle cx="153.6" cy="98.9" r="4.8" fill="#f6f5fc" stroke="#cfcdda" stroke-width="0.5"/>
<circle cx="80.6" cy="317.5" r="3.7" fill="#f6f5fc" stroke="#cfcdda" stroke-width="0.5"/>
<circle cx="71.0" cy="271.5" r="3.2" fill="#f6f5fc" stroke="#cfcdda" stroke-width="0.5"/>
<circle cx="24.8" cy="89.0" r="3.8" fill="#f6f5fc" stroke="#cfcdda" stroke-width="0.5"/>
<circle cx="307.7" cy="216.9" r="1.7" fill="#f6f5fc" stroke="#cfcdda" stroke-width="0.5"/>
<circle cx="57.7" cy="281.6" r="4.8" fill="#f6f5fc" stroke="#cfcdda" stroke-width="0.5"/>
<circle cx="315.2" cy="198.0" r="3.6" fill="#f6f5fc" stroke="#cfcdda" stroke-width="0.5"/>
<circle cx="281.9" cy="91.5" r="3.7" fill="#f6f5fc" stroke="#cfcdda" stroke-width="0.5"/>
<circle cx="111.9" cy="311.6" r="3.8" fill="#f6f5fc" stroke="#cfcdda" stroke-width="0.5"/>
<circle cx="88.8" cy="24.2" r="2.0" fill="#f6f5fc" stroke="#cfcdda" stroke-width="0.5"/>
<circle cx="41.5" cy="304.3" r="3.4" fill="#f6f5fc" stroke="#cfcdda" stroke-width="0.5"/>
<circle cx="276.2" cy="238.2" r="4.2" fill="#f6f5fc" stroke="#cfcdda" stroke-width="0.5"/>
<circle cx="77.4" cy="232.9" r="3.1" fill="#f6f5fc" stroke="#cfcdda" stroke-width="0.5"/>
<circle cx="87.2" cy="157.2" r="1.8" fill="#f6f5fc" stroke="#cfcdda" stroke-width="0.5"/>
<circle cx="197.0" cy="167.9" r="4.3" fill="#f6f5fc" stroke="#cfcdda" stroke-width="0.5"/>
<circle cx="278.7" cy="30.7" r="2.0" fill="#f6f5fc" stroke="#cfcdda" stroke-width="0.5"/>
<circle cx="293.2" cy="265.7" r="1.6" fill="#f6f5fc" stroke="#cfcdda" stroke-width="0.5"/>
<circle cx="177.0" cy="81.3" r="4.2" fill="#f6f5fc" stroke="#cfcdda" stroke-width="0.5"/>
<circle cx="338.6" cy="317.2" r="4.8" fill="#f6f5fc" stroke="#cfcdda" stroke-width="0.5"/>
<circle cx="56.5" cy="197.4" r="2.0" fill="#f6f5fc" stroke="#cfcdda" stroke-width="0.5"/>
<circle cx="143.2" cy="121.0" r="2.9" fill="#f6f5fc" stroke="#cfcdda" stroke-width="0.5"/>
<circle cx="213.6" cy="26.3" r="2.3" fill="#f6f5fc" stroke="#cfcdda" stroke-width="0.5"/>
<circle cx="195.7" cy="251.4" r="2.4" fill="#f6f5fc" stroke="#cfcdda" stroke-width="0.5"/>
<circle cx="94.2" cy="109.6" r="3.3" fill="#f6f5fc" stroke="#cfcdda" stroke-width="0.5"/>
<circle cx="222.3" cy="276.2" r="4.7" fill="#f6f5fc" stroke="#cfcdda" stroke-width="0.5"/>
<circle cx="283.2" cy="204.3" r="2.7" fill="#f6f5fc" stroke="#cfcdda" stroke-width="0.5"/>
<circle cx="212.4" cy="279.8" r="2.9" fill="#f6f5fc" stroke="#cfcdda" stroke-width="0.5"/>
<circle cx="49.2" cy="216.9" r="2.5" fill="#f6f5fc" stroke="#cfcdda" stroke-width="0.5"/>
<circle cx="66.1" cy="247.3" r="4.9" fill="#f6f5fc" stroke="#cfcdda" stroke-width="0.5"/>
<circle cx="335.6" cy="294.2" r="3.8" fill="#f6f5fc" stroke="#cfcdda" stroke-width="0.5"/>
<circle cx="214.1" cy="295.1" r="3.3" fill="#f6f5fc" stroke="#cfcdda" stroke-width="0.5"/>
<circle cx="84.3" cy="253.8" r="2.9" fill="#f6f5fc" stroke="#cfcdda" stroke-width="0.5"/>
<circle cx="228.3" cy="313.9" r="2.7" fill="#f6f5fc" stroke="#cfcdda" stroke-width="0.5"/>
<circle cx="124.9" cy="213.8" r="2.9" fill="#f6f5fc" stroke="#cfcdda" stroke-width="0.5"/>
<circle cx="42.6" cy="278.7" r="5.0" fill="#f6f5fc" stroke="#cfcdda" stroke-width="0.5"/>
<circle cx="288.3" cy="77.8" r="2.6" fill="#f6f5fc" stroke="#cfcdda" stroke-width="0.5"/>
<circle cx="143.5" cy="220.3" r="4.2" fill="#f6f5fc" stroke="#cfcdda" stroke-width="0.5"/>
<circle cx="13.8" cy="303.2" r="4.1" fill="#f6f5fc" stroke="#cfcdda" stroke-width="0.5"/>
<circle cx="171.9" cy="238.5" r="4.2" fill="#f6f5fc" stroke="#cfcdda" stroke-width="0.5"/>
<circle cx="49.3" cy="262.0" r="2.3" fill="#f6f5fc" stroke="#cfcdda" stroke-width="0.5"/>
<circle cx="102.5" cy="122.7" r="4.1" fill="#f6f5fc" stroke="#cfcdda" stroke-width="0.5"/>
<circle cx="193.4" cy="268.1" r="3.3" fill="#f6f5fc" stroke="#cfcdda" stroke-width="0.5"/>
<circle cx="154.4" cy="200.9" r="3.7" fill="#f6f5fc" stroke="#cfcdda" stroke-width="0.5"/>
<circle cx="8.3" cy="56.5" r="3.8" fill="#f6f5fc" stroke="#cfcdda" stroke-width="0.5"/>
<circle cx="55.2" cy="209.5" r="4.3" fill="#f6f5fc" stroke="#cfcdda" stroke-width="0.5"/>
<circle cx="252.5" cy="178.0" r="3.6" fill="#f6f5fc" stroke="#cfcdda" stroke-width="0.5"/>
<circle cx="159.6" cy="92.2" r="1.8" fill="#f6f5fc" stroke="#cfcdda" stroke-width="0.5"/>
<circle cx="147.4" cy="75.6" r="2.2" fill="#f6f5fc" stroke="#cfcdda" stroke-width="0.5"/>
<circle cx="112.3" cy="39.7" r="1.7" fill="#f6f5fc" stroke="#cfcdda" stroke-width="0.5"/>
<circle cx="320.9" cy="100.4" r="2.0" fill="#f6f5fc" stroke="#cfcdda" stroke-width="0.5"/>
<circle cx="285.2" cy="165.3" r="3.6" fill="#f6f5fc" stroke="#cfcdda" stroke-width="0.5"/>
<circle cx="311.8" cy="11.1" r="1.7" fill="#f6f5fc" stroke="#cfcdda" stroke-width="0.5"/>
<circle cx="197.0" cy="293.6" r="2.3" fill="#f6f5fc" stroke="#cfcdda" stroke-width="0.5"/>
<circle cx="144.9" cy="59.2" r="2.9" fill="#f6f5fc" stroke="#cfcdda" stroke-width="0.5"/>
<circle cx="286.0" cy="265.6" r="3.1" fill="#f6f5fc" stroke="#cfcdda" stroke-width="0.5"/>
<circle cx="135.4" cy="60.1" r="4.1" fill="#f6f5fc" stroke="#cfcdda" stroke-width="0.5"/>
<circle cx="277.9" cy="266.1" r="1.7" fill="#f6f5fc" stroke="#cfcdda" stroke-width="0.5"/>
<circle cx="17.0" cy="12.9" r="14.3" fill="#f6f4fc" stroke="#c3c1cf" stroke-width="0.9"/>
<circle cx="40.9" cy="4.6" r="9.5" fill="#f6f4fc" stroke="#c3c1cf" stroke-width="0.9"/>
<circle cx="54.3" cy="2.5" r="7.2" fill="#f6f4fc" stroke="#c3c1cf" stroke-width="0.9"/>
<circle cx="90.6" cy="9.7" r="10.7" fill="#f6f4fc" stroke="#c3c1cf" stroke-width="0.9"/>
<circle cx="108.3" cy="7.7" r="7.2" fill="#f6f4fc" stroke="#c3c1cf" stroke-width="0.9"/>
<circle cx="131.1" cy="11.8" r="21.5" fill="#f6f4fc" stroke="#c3c1cf" stroke-width="0.9"/>
<circle cx="172.5" cy="12.9" r="19.1" fill="#f6f4fc" stroke="#c3c1cf" stroke-width="0.9"/>
<circle cx="220.2" cy="4.6" r="15.5" fill="#f6f4fc" stroke="#c3c1cf" stroke-width="0.9"/>
<circle cx="272.1" cy="10.8" r="15.5" fill="#f6f4fc" stroke="#c3c1cf" stroke-width="0.9"/>
<circle cx="299.0" cy="6.6" r="9.5" fill="#f6f4fc" stroke="#c3c1cf" stroke-width="0.9"/>
<circle cx="330.2" cy="25.3" r="11.9" fill="#f6f4fc" stroke="#c3c1cf" stroke-width="0.9"/>
<circle cx="252.4" cy="23.2" r="9.5" fill="#f6f4fc" stroke="#c3c1cf" stroke-width="0.9"/>
<circle cx="4.6" cy="40.9" r="9.5" fill="#f6f4fc" stroke="#c3c1cf" stroke-width="0.9"/>
<circle cx="37.7" cy="49.1" r="14.3" fill="#f6f4fc" stroke="#c3c1cf" stroke-width="0.9"/>
<circle cx="20.1" cy="32.6" r="8.3" fill="#f6f4fc" stroke="#c3c1cf" stroke-width="0.9"/>
<circle cx="65.7" cy="36.7" r="6.0" fill="#f6f4fc" stroke="#c3c1cf" stroke-width="0.9"/>
<circle cx="140.4" cy="39.8" r="15.5" fill="#f6f4fc" stroke="#c3c1cf" stroke-width="0.9"/>
<circle cx="174.6" cy="46.0" r="15.5" fill="#f6f4fc" stroke="#c3c1cf" stroke-width="0.9"/>
<circle cx="233.7" cy="52.3" r="20.3" fill="#f6f4fc" stroke="#c3c1cf" stroke-width="0.9"/>
<circle cx="263.8" cy="60.6" r="20.3" fill="#f6f4fc" stroke="#c3c1cf" stroke-width="0.9"/>
<circle cx="292.8" cy="56.4" r="11.9" fill="#f6f4fc" stroke="#c3c1cf" stroke-width="0.9"/>
<circle cx="315.6" cy="37.7" r="10.7" fill="#f6f4fc" stroke="#c3c1cf" stroke-width="0.9"/>
<circle cx="192.2" cy="29.4" r="9.5" fill="#f6f4fc" stroke="#c3c1cf" stroke-width="0.9"/>
<circle cx="56.4" cy="66.8" r="11.9" fill="#f6f4fc" stroke="#c3c1cf" stroke-width="0.9"/>
<circle cx="36.7" cy="75.1" r="9.5" fill="#f6f4fc" stroke="#c3c1cf" stroke-width="0.9"/>
<circle cx="82.3" cy="87.5" r="13.1" fill="#f6f4fc" stroke="#c3c1cf" stroke-width="0.9"/>
<circle cx="120.7" cy="73.0" r="14.3" fill="#f6f4fc" stroke="#c3c1cf" stroke-width="0.9"/>
<circle cx="102.0" cy="73.0" r="10.7" fill="#f6f4fc" stroke="#c3c1cf" stroke-width="0.9"/>
<circle cx="168.4" cy="68.9" r="8.3" fill="#f6f4fc" stroke="#c3c1cf" stroke-width="0.9"/>
<circle cx="232.7" cy="81.3" r="15.5" fill="#f6f4fc" stroke="#c3c1cf" stroke-width="0.9"/>
<circle cx="323.9" cy="81.3" r="14.3" fill="#f6f4fc" stroke="#c3c1cf" stroke-width="0.9"/>
<circle cx="267.9" cy="93.7" r="9.5" fill="#f6f4fc" stroke="#c3c1cf" stroke-width="0.9"/>
<circle cx="189.1" cy="79.2" r="7.2" fill="#f6f4fc" stroke="#c3c1cf" stroke-width="0.9"/>
<circle cx="249.3" cy="97.9" r="8.3" fill="#f6f4fc" stroke="#c3c1cf" stroke-width="0.9"/>
<circle cx="6.6" cy="95.8" r="11.9" fill="#f6f4fc" stroke="#c3c1cf" stroke-width="0.9"/>
<circle cx="61.6" cy="107.2" r="15.5" fill="#f6f4fc" stroke="#c3c1cf" stroke-width="0.9"/>
<circle cx="131.1" cy="106.2" r="15.5" fill="#f6f4fc" stroke="#c3c1cf" stroke-width="0.9"/>
<circle cx="108.3" cy="102.0" r="8.3" fill="#f6f4fc" stroke="#c3c1cf" stroke-width="0.9"/>
<circle cx="192.2" cy="102.0" r="14.3" fill="#f6f4fc" stroke="#c3c1cf" stroke-width="0.9"/>
<circle cx="226.5" cy="108.3" r="7.2" fill="#f6f4fc" stroke="#c3c1cf" stroke-width="0.9"/>
<circle cx="292.8" cy="116.5" r="20.3" fill="#f6f4fc" stroke="#c3c1cf" stroke-width="0.9"/>
<circle cx="288.7" cy="137.3" r="16.7" fill="#f6f4fc" stroke="#c3c1cf" stroke-width="0.9"/>
<circle cx="243.1" cy="129.0" r="17.9" fill="#f6f4fc" stroke="#c3c1cf" stroke-width="0.9"/>
<circle cx="24.3" cy="102.0" r="7.2" fill="#f6f4fc" stroke="#c3c1cf" stroke-width="0.9"/>
<circle cx="326.0" cy="110.3" r="8.3" fill="#f6f4fc" stroke="#c3c1cf" stroke-width="0.9"/>
<circle cx="10.8" cy="124.8" r="11.9" fill="#f6f4fc" stroke="#c3c1cf" stroke-width="0.9"/>
<circle cx="51.2" cy="141.4" r="20.3" fill="#f6f4fc" stroke="#c3c1cf" stroke-width="0.9"/>
<circle cx="82.3" cy="139.4" r="13.1" fill="#f6f4fc" stroke="#c3c1cf" stroke-width="0.9"/>
<circle cx="125.9" cy="126.9" r="10.7" fill="#f6f4fc" stroke="#c3c1cf" stroke-width="0.9"/>
<circle cx="168.4" cy="126.9" r="14.3" fill="#f6f4fc" stroke="#c3c1cf" stroke-width="0.9"/>
<circle cx="196.4" cy="132.1" r="17.9" fill="#f6f4fc" stroke="#c3c1cf" stroke-width="0.9"/>
<circle cx="89.6" cy="120.7" r="6.0" fill="#f6f4fc" stroke="#c3c1cf" stroke-width="0.9"/>
<circle cx="334.3" cy="137.3" r="9.5" fill="#f6f4fc" stroke="#c3c1cf" stroke-width="0.9"/>
<circle cx="25.3" cy="143.5" r="8.3" fill="#f6f4fc" stroke="#c3c1cf" stroke-width="0.9"/>
<circle cx="116.5" cy="158.0" r="15.5" fill="#f6f4fc" stroke="#c3c1cf" stroke-width="0.9"/>
<circle cx="160.1" cy="158.0" r="13.1" fill="#f6f4fc" stroke="#c3c1cf" stroke-width="0.9"/>
<circle cx="179.8" cy="154.9" r="10.7" fill="#f6f4fc" stroke="#c3c1cf" stroke-width="0.9"/>
<circle cx="73.0" cy="170.5" r="13.1" fill="#f6f4fc" stroke="#c3c1cf" stroke-width="0.9"/>
<circle cx="12.9" cy="178.8" r="10.7" fill="#f6f4fc" stroke="#c3c1cf" stroke-width="0.9"/>
<circle cx="89.6" cy="170.5" r="7.2" fill="#f6f4fc" stroke="#c3c1cf" stroke-width="0.9"/>
<circle cx="129.0" cy="176.7" r="15.5" fill="#f6f4fc" stroke="#c3c1cf" stroke-width="0.9"/>
<circle cx="176.7" cy="172.5" r="10.7" fill="#f6f4fc" stroke="#c3c1cf" stroke-width="0.9"/>
<circle cx="255.5" cy="158.0" r="9.5" fill="#f6f4fc" stroke="#c3c1cf" stroke-width="0.9"/>
<circle cx="308.4" cy="172.5" r="9.5" fill="#f6f4fc" stroke="#c3c1cf" stroke-width="0.9"/>
<circle cx="93.7" cy="191.2" r="15.5" fill="#f6f4fc" stroke="#c3c1cf" stroke-width="0.9"/>
<circle cx="121.7" cy="195.4" r="10.7" fill="#f6f4fc" stroke="#c3c1cf" stroke-width="0.9"/>
<circle cx="193.3" cy="187.1" r="13.1" fill="#f6f4fc" stroke="#c3c1cf" stroke-width="0.9"/>
<circle cx="271.0" cy="189.1" r="11.9" fill="#f6f4fc" stroke="#c3c1cf" stroke-width="0.9"/>
<circle cx="299.0" cy="199.5" r="11.9" fill="#f6f4fc" stroke="#c3c1cf" stroke-width="0.9"/>
<circle cx="332.2" cy="197.4" r="11.9" fill="#f6f4fc" stroke="#c3c1cf" stroke-width="0.9"/>
<circle cx="6.6" cy="203.6" r="9.5" fill="#f6f4fc" stroke="#c3c1cf" stroke-width="0.9"/>
<circle cx="222.3" cy="172.5" r="7.2" fill="#f6f4fc" stroke="#c3c1cf" stroke-width="0.9"/>
<circle cx="81.3" cy="211.9" r="15.5" fill="#f6f4fc" stroke="#c3c1cf" stroke-width="0.9"/>
<circle cx="106.2" cy="218.2" r="13.1" fill="#f6f4fc" stroke="#c3c1cf" stroke-width="0.9"/>
<circle cx="33.6" cy="230.6" r="14.3" fill="#f6f4fc" stroke="#c3c1cf" stroke-width="0.9"/>
<circle cx="265.9" cy="216.1" r="15.5" fill="#f6f4fc" stroke="#c3c1cf" stroke-width="0.9"/>
<circle cx="332.2" cy="224.4" r="11.9" fill="#f6f4fc" stroke="#c3c1cf" stroke-width="0.9"/>
<circle cx="60.6" cy="230.6" r="6.0" fill="#f6f4fc" stroke="#c3c1cf" stroke-width="0.9"/>
<circle cx="220.2" cy="201.6" r="7.2" fill="#f6f4fc" stroke="#c3c1cf" stroke-width="0.9"/>
<circle cx="126.9" cy="241.0" r="15.5" fill="#f6f4fc" stroke="#c3c1cf" stroke-width="0.9"/>
<circle cx="236.8" cy="251.3" r="11.9" fill="#f6f4fc" stroke="#c3c1cf" stroke-width="0.9"/>
<circle cx="305.3" cy="247.2" r="15.5" fill="#f6f4fc" stroke="#c3c1cf" stroke-width="0.9"/>
<circle cx="199.5" cy="238.9" r="7.2" fill="#f6f4fc" stroke="#c3c1cf" stroke-width="0.9"/>
<circle cx="259.6" cy="241.0" r="7.2" fill="#f6f4fc" stroke="#c3c1cf" stroke-width="0.9"/>
<circle cx="70.9" cy="207.8" r="7.2" fill="#f6f4fc" stroke="#c3c1cf" stroke-width="0.9"/>
<circle cx="91.7" cy="267.9" r="11.9" fill="#f6f4fc" stroke="#c3c1cf" stroke-width="0.9"/>
<circle cx="118.6" cy="267.9" r="11.9" fill="#f6f4fc" stroke="#c3c1cf" stroke-width="0.9"/>
<circle cx="234.8" cy="292.8" r="11.9" fill="#f6f4fc" stroke="#c3c1cf" stroke-width="0.9"/>
<circle cx="265.9" cy="303.2" r="10.7" fill="#f6f4fc" stroke="#c3c1cf" stroke-width="0.9"/>
<circle cx="309.4" cy="301.1" r="10.7" fill="#f6f4fc" stroke="#c3c1cf" stroke-width="0.9"/>
<circle cx="10.8" cy="267.9" r="7.2" fill="#f6f4fc" stroke="#c3c1cf" stroke-width="0.9"/>
<circle cx="141.4" cy="282.5" r="13.1" fill="#f6f4fc" stroke="#c3c1cf" stroke-width="0.9"/>
<circle cx="23.2" cy="290.8" r="8.3" fill="#f6f4fc" stroke="#c3c1cf" stroke-width="0.9"/>
<circle cx="182.9" cy="299.0" r="10.7" fill="#f6f4fc" stroke="#c3c1cf" stroke-width="0.9"/>
<circle cx="207.8" cy="315.6" r="7.2" fill="#f6f4fc" stroke="#c3c1cf" stroke-width="0.9"/>
<circle cx="156.0" cy="317.7" r="8.3" fill="#f6f4fc" stroke="#c3c1cf" stroke-width="0.9"/>
<circle cx="334.3" cy="261.7" r="7.2" fill="#f6f4fc" stroke="#c3c1cf" stroke-width="0.9"/>
<circle cx="286.6" cy="282.5" r="7.2" fill="#f6f4fc" stroke="#c3c1cf" stroke-width="0.9"/>
<circle cx="211.9" cy="267.9" r="6.0" fill="#f6f4fc" stroke="#c3c1cf" stroke-width="0.9"/>
<circle cx="54.3" cy="299.0" r="7.2" fill="#f6f4fc" stroke="#c3c1cf" stroke-width="0.9"/>
<circle cx="79.2" cy="303.2" r="6.0" fill="#f6f4fc" stroke="#c3c1cf" stroke-width="0.9"/>
<circle cx="41.9" cy="116.5" r="2.2" fill="#544a45" opacity="0.9"/>
<circle cx="65.7" cy="122.8" r="1.9" fill="#544a45" opacity="0.9"/>
<circle cx="75.1" cy="118.6" r="1.5" fill="#544a45" opacity="0.9"/>
<circle cx="66.8" cy="145.6" r="1.5" fill="#544a45" opacity="0.9"/>
<circle cx="136.3" cy="133.1" r="2.2" fill="#544a45" opacity="0.9"/>
<circle cx="126.9" cy="140.4" r="2.2" fill="#544a45" opacity="0.9"/>
<circle cx="221.3" cy="117.6" r="2.6" fill="#544a45" opacity="0.9"/>
<circle cx="284.5" cy="150.8" r="2.2" fill="#544a45" opacity="0.9"/>
<circle cx="51.2" cy="170.5" r="2.2" fill="#544a45" opacity="0.9"/>
<circle cx="149.7" cy="181.9" r="1.9" fill="#544a45" opacity="0.9"/>
<circle cx="23.2" cy="189.1" r="3.4" fill="#544a45" opacity="0.9"/>
<circle cx="19.1" cy="197.4" r="2.2" fill="#544a45" opacity="0.9"/>
<circle cx="17.0" cy="249.3" r="2.2" fill="#544a45" opacity="0.9"/>
<circle cx="29.4" cy="252.4" r="1.9" fill="#544a45" opacity="0.9"/>
<circle cx="83.4" cy="247.2" r="1.5" fill="#544a45" opacity="0.9"/>
<circle cx="174.6" cy="273.1" r="1.9" fill="#544a45" opacity="0.9"/>
<circle cx="286.6" cy="222.3" r="2.6" fill="#544a45" opacity="0.9"/>
<circle cx="318.7" cy="207.8" r="1.5" fill="#544a45" opacity="0.9"/>
<circle cx="126.9" cy="316.7" r="1.5" fill="#544a45" opacity="0.9"/>
<circle cx="290.8" cy="267.9" r="1.5" fill="#544a45" opacity="0.9"/>
</g>
</svg>
<rect x="589.30" y="1937.20" width="50.50" height="4.40" fill="#000"/>
<rect x="592.00" y="2299.20" width="51.00" height="4.20" fill="#000"/>
<line x1="792.20" y1="1880.00" x2="867.80" y2="1880.00" stroke="#000" stroke-width="2.4" stroke-linecap="round"/>
<line x1="811.20" y1="1874.50" x2="848.80" y2="1874.50" stroke="#000" stroke-width="2.4" stroke-linecap="round"/>
<line x1="811.20" y1="1885.75" x2="848.80" y2="1885.75" stroke="#000" stroke-width="2.4" stroke-linecap="round"/>
<line x1="829.60" y1="1874.50" x2="829.60" y2="1885.75" stroke="#000" stroke-width="2.4" stroke-linecap="butt"/>
<line x1="909.20" y1="1838.00" x2="984.80" y2="1838.00" stroke="#000" stroke-width="2.4" stroke-linecap="round"/>
<line x1="928.20" y1="1823.00" x2="965.80" y2="1823.00" stroke="#000" stroke-width="2.4" stroke-linecap="round"/>
<line x1="928.20" y1="1853.00" x2="965.80" y2="1853.00" stroke="#000" stroke-width="2.4" stroke-linecap="round"/>
<line x1="946.60" y1="1823.00" x2="946.60" y2="1853.00" stroke="#000" stroke-width="2.4" stroke-linecap="butt"/>
<circle cx="830.50" cy="1849.00" r="5.4" fill="#3fb737"/>
<circle cx="814.25" cy="1856.50" r="5.4" fill="#3fb737"/>
<circle cx="845.50" cy="1863.00" r="5.4" fill="#3fb737"/>
<circle cx="830.00" cy="1865.75" r="5.4" fill="#3fb737"/>
<circle cx="822.00" cy="1872.00" r="5.4" fill="#3fb737"/>
<circle cx="837.50" cy="1876.75" r="5.4" fill="#3fb737"/>
<circle cx="853.00" cy="1876.75" r="5.4" fill="#3fb737"/>
<circle cx="806.25" cy="1885.00" r="5.4" fill="#3fb737"/>
<circle cx="798.75" cy="1894.75" r="5.4" fill="#3fb737"/>
<circle cx="814.25" cy="1895.25" r="5.4" fill="#3fb737"/>
<circle cx="830.00" cy="1900.00" r="5.4" fill="#3fb737"/>
<circle cx="845.50" cy="1904.00" r="5.4" fill="#3fb737"/>
<circle cx="860.75" cy="1904.50" r="5.4" fill="#3fb737"/>
<rect x="941.60" y="1648.60" width="10.80" height="10.80" fill="#3fb737"/>
<rect x="941.60" y="1668.35" width="10.80" height="10.80" fill="#3fb737"/>
<rect x="952.10" y="1771.10" width="10.80" height="10.80" fill="#3fb737"/>
<rect x="930.85" y="1778.35" width="10.80" height="10.80" fill="#3fb737"/>
<rect x="941.60" y="1786.10" width="10.80" height="10.80" fill="#3fb737"/>
<rect x="941.60" y="1808.35" width="10.80" height="10.80" fill="#3fb737"/>
<rect x="941.60" y="1832.85" width="10.80" height="10.80" fill="#3fb737"/>
<rect x="930.85" y="1840.10" width="10.80" height="10.80" fill="#3fb737"/>
<rect x="952.10" y="1841.60" width="10.80" height="10.80" fill="#3fb737"/>
<rect x="919.60" y="1859.10" width="10.80" height="10.80" fill="#3fb737"/>
<rect x="930.85" y="1865.85" width="10.80" height="10.80" fill="#3fb737"/>
<rect x="952.10" y="1862.60" width="10.80" height="10.80" fill="#3fb737"/>
<rect x="962.10" y="1868.35" width="10.80" height="10.80" fill="#3fb737"/>
<rect x="941.60" y="1870.85" width="10.80" height="10.80" fill="#3fb737"/>
<rect x="962.10" y="1877.10" width="10.80" height="10.80" fill="#3fb737"/>
<rect x="909.10" y="1880.85" width="10.80" height="10.80" fill="#3fb737"/>
<rect x="919.60" y="1882.10" width="10.80" height="10.80" fill="#3fb737"/>
<rect x="930.85" y="1884.10" width="10.80" height="10.80" fill="#3fb737"/>
<rect x="941.60" y="1879.60" width="10.80" height="10.80" fill="#3fb737"/>
<rect x="952.10" y="1887.60" width="10.80" height="10.80" fill="#3fb737"/>
<rect x="973.35" y="1892.60" width="10.80" height="10.80" fill="#3fb737"/>
<line x1="751.75" y1="1636.70" x2="751.75" y2="1915.20" stroke="#000" stroke-width="2.6" stroke-linecap="butt"/>
<line x1="740.45" y1="1913.90" x2="1023.75" y2="1913.90" stroke="#000" stroke-width="2.6" stroke-linecap="butt"/>
<line x1="740.45" y1="1638.00" x2="751.75" y2="1638.00" stroke="#000" stroke-width="2.6" stroke-linecap="butt"/>
<text transform="translate(737.15 1645.50) scale(0.94 1)" font-size="21" text-anchor="end" fill="#1a1a1a">200</text>
<line x1="740.45" y1="1706.90" x2="751.75" y2="1706.90" stroke="#000" stroke-width="2.6" stroke-linecap="butt"/>
<text transform="translate(737.15 1714.70) scale(0.94 1)" font-size="21" text-anchor="end" fill="#1a1a1a">150</text>
<line x1="740.45" y1="1775.90" x2="751.75" y2="1775.90" stroke="#000" stroke-width="2.6" stroke-linecap="butt"/>
<text transform="translate(737.15 1784.00) scale(0.94 1)" font-size="21" text-anchor="end" fill="#1a1a1a">100</text>
<line x1="740.45" y1="1844.90" x2="751.75" y2="1844.90" stroke="#000" stroke-width="2.6" stroke-linecap="butt"/>
<text transform="translate(737.15 1853.30) scale(0.94 1)" font-size="21" text-anchor="end" fill="#1a1a1a">50</text>
<line x1="740.45" y1="1913.90" x2="751.75" y2="1913.90" stroke="#000" stroke-width="2.6" stroke-linecap="butt"/>
<text transform="translate(737.15 1922.60) scale(0.94 1)" font-size="21" text-anchor="end" fill="#1a1a1a">0</text>
<line x1="830.00" y1="1913.90" x2="830.00" y2="1924.70" stroke="#000" stroke-width="2.6" stroke-linecap="butt"/>
<text transform="translate(830.00 1943.00) scale(0.97 1)" font-size="21" text-anchor="middle" fill="#1a1a1a">1-3</text>
<line x1="947.30" y1="1913.90" x2="947.30" y2="1924.70" stroke="#000" stroke-width="2.6" stroke-linecap="butt"/>
<text transform="translate(947.30 1943.00) scale(0.97 1)" font-size="21" text-anchor="middle" fill="#1a1a1a">4-8</text>
<text x="886.00" y="1970.50" font-size="23.8" font-weight="bold" text-anchor="middle" fill="#1a1a1a">NAS score</text>
<text x="696.30" y="1776.00" font-size="23.5" font-weight="bold" text-anchor="middle" fill="#1a1a1a" transform="rotate(-90 696.30 1776.00)">CD9<tspan font-size="14.5" dy="-8">+</tspan><tspan dy="8"> cells/mm</tspan><tspan font-size="14.5" dy="-8">2</tspan><tspan dy="8"> liver</tspan></text>
<path d="M830.75 1631.50V1627.00H947.50V1631.50" fill="none" stroke="#111" stroke-width="1.9"/>
<text transform="translate(888.75 1623.10) scale(0.857 1)" font-size="20.1" text-anchor="middle" fill="#1a1a1a">P=0.039</text>
<line x1="792.20" y1="2230.00" x2="867.80" y2="2230.00" stroke="#000" stroke-width="2.4" stroke-linecap="round"/>
<line x1="811.20" y1="2221.75" x2="848.80" y2="2221.75" stroke="#000" stroke-width="2.4" stroke-linecap="round"/>
<line x1="811.20" y1="2238.25" x2="848.80" y2="2238.25" stroke="#000" stroke-width="2.4" stroke-linecap="round"/>
<line x1="829.60" y1="2221.75" x2="829.60" y2="2238.25" stroke="#000" stroke-width="2.4" stroke-linecap="butt"/>
<line x1="909.70" y1="2194.25" x2="985.30" y2="2194.25" stroke="#000" stroke-width="2.4" stroke-linecap="round"/>
<line x1="928.70" y1="2180.25" x2="966.30" y2="2180.25" stroke="#000" stroke-width="2.4" stroke-linecap="round"/>
<line x1="928.70" y1="2208.25" x2="966.30" y2="2208.25" stroke="#000" stroke-width="2.4" stroke-linecap="round"/>
<line x1="947.10" y1="2180.25" x2="947.10" y2="2208.25" stroke="#000" stroke-width="2.4" stroke-linecap="butt"/>
<circle cx="830.00" cy="2182.00" r="5.4" fill="#3fb737"/>
<circle cx="837.50" cy="2190.50" r="5.4" fill="#3fb737"/>
<circle cx="822.00" cy="2202.25" r="5.4" fill="#3fb737"/>
<circle cx="822.00" cy="2215.50" r="5.4" fill="#3fb737"/>
<circle cx="837.50" cy="2219.25" r="5.4" fill="#3fb737"/>
<circle cx="845.50" cy="2236.50" r="5.4" fill="#3fb737"/>
<circle cx="860.75" cy="2236.00" r="5.4" fill="#3fb737"/>
<circle cx="798.75" cy="2245.00" r="5.4" fill="#3fb737"/>
<circle cx="814.25" cy="2248.75" r="5.4" fill="#3fb737"/>
<circle cx="830.00" cy="2250.00" r="5.4" fill="#3fb737"/>
<circle cx="822.00" cy="2265.50" r="5.4" fill="#3fb737"/>
<circle cx="837.50" cy="2270.25" r="5.4" fill="#3fb737"/>
<rect x="942.10" y="2078.35" width="10.80" height="10.80" fill="#3fb737"/>
<rect x="928.85" y="2124.10" width="10.80" height="10.80" fill="#3fb737"/>
<rect x="955.10" y="2120.35" width="10.80" height="10.80" fill="#3fb737"/>
<rect x="968.35" y="2137.85" width="10.80" height="10.80" fill="#3fb737"/>
<rect x="915.85" y="2147.85" width="10.80" height="10.80" fill="#3fb737"/>
<rect x="942.10" y="2152.60" width="10.80" height="10.80" fill="#3fb737"/>
<rect x="915.85" y="2200.10" width="10.80" height="10.80" fill="#3fb737"/>
<rect x="942.10" y="2192.10" width="10.80" height="10.80" fill="#3fb737"/>
<rect x="942.10" y="2202.10" width="10.80" height="10.80" fill="#3fb737"/>
<rect x="968.35" y="2215.85" width="10.80" height="10.80" fill="#3fb737"/>
<rect x="968.35" y="2225.10" width="10.80" height="10.80" fill="#3fb737"/>
<rect x="915.85" y="2229.60" width="10.80" height="10.80" fill="#3fb737"/>
<rect x="942.10" y="2239.10" width="10.80" height="10.80" fill="#3fb737"/>
<rect x="915.85" y="2252.10" width="10.80" height="10.80" fill="#3fb737"/>
<rect x="942.10" y="2252.60" width="10.80" height="10.80" fill="#3fb737"/>
<rect x="968.35" y="2258.35" width="10.80" height="10.80" fill="#3fb737"/>
<line x1="751.50" y1="1998.70" x2="751.50" y2="2278.50" stroke="#000" stroke-width="2.6" stroke-linecap="butt"/>
<line x1="740.20" y1="2277.20" x2="1026.25" y2="2277.20" stroke="#000" stroke-width="2.6" stroke-linecap="butt"/>
<line x1="740.20" y1="2000.00" x2="751.50" y2="2000.00" stroke="#000" stroke-width="2.6" stroke-linecap="butt"/>
<text transform="translate(736.90 2007.50) scale(0.94 1)" font-size="21" text-anchor="end" fill="#1a1a1a">150</text>
<line x1="740.20" y1="2092.30" x2="751.50" y2="2092.30" stroke="#000" stroke-width="2.6" stroke-linecap="butt"/>
<text transform="translate(736.90 2100.10) scale(0.94 1)" font-size="21" text-anchor="end" fill="#1a1a1a">100</text>
<line x1="740.20" y1="2184.80" x2="751.50" y2="2184.80" stroke="#000" stroke-width="2.6" stroke-linecap="butt"/>
<text transform="translate(736.90 2192.90) scale(0.94 1)" font-size="21" text-anchor="end" fill="#1a1a1a">50</text>
<line x1="740.20" y1="2277.20" x2="751.50" y2="2277.20" stroke="#000" stroke-width="2.6" stroke-linecap="butt"/>
<text transform="translate(736.90 2285.60) scale(0.94 1)" font-size="21" text-anchor="end" fill="#1a1a1a">0</text>
<line x1="830.00" y1="2277.20" x2="830.00" y2="2288.00" stroke="#000" stroke-width="2.6" stroke-linecap="butt"/>
<text transform="translate(830.00 2306.25) scale(0.97 1)" font-size="21" text-anchor="middle" fill="#1a1a1a">1-3</text>
<line x1="947.30" y1="2277.20" x2="947.30" y2="2288.00" stroke="#000" stroke-width="2.6" stroke-linecap="butt"/>
<text transform="translate(947.30 2306.25) scale(0.97 1)" font-size="21" text-anchor="middle" fill="#1a1a1a">4-8</text>
<text x="886.00" y="2332.50" font-size="23.8" font-weight="bold" text-anchor="middle" fill="#1a1a1a">NAS score</text>
<text x="696.30" y="2136.00" font-size="23.5" font-weight="bold" text-anchor="middle" fill="#1a1a1a" transform="rotate(-90 696.30 2136.00)">TREM2<tspan font-size="14.5" dy="-8">+</tspan><tspan dy="8"> cells/mm</tspan><tspan font-size="14.5" dy="-8">2</tspan><tspan dy="8"> liver</tspan></text>
</g>
<g id="panel-f">
<text x="1133.00" y="1619.00" font-size="32" font-weight="bold" text-anchor="start" fill="#1a1a1a">f</text>
<line x1="1237.10" y1="1636.30" x2="1237.10" y2="1914.60" stroke="#000" stroke-width="2.6" stroke-linecap="butt"/>
<line x1="1225.60" y1="1913.30" x2="1512.60" y2="1913.30" stroke="#000" stroke-width="2.6" stroke-linecap="butt"/>
<line x1="1225.60" y1="1637.60" x2="1237.10" y2="1637.60" stroke="#000" stroke-width="2.6" stroke-linecap="butt"/>
<text transform="translate(1225.00 1645.20) scale(0.96 1)" font-size="21" text-anchor="end" fill="#1a1a1a">300</text>
<line x1="1225.60" y1="1729.60" x2="1237.10" y2="1729.60" stroke="#000" stroke-width="2.6" stroke-linecap="butt"/>
<text transform="translate(1225.00 1737.20) scale(0.96 1)" font-size="21" text-anchor="end" fill="#1a1a1a">200</text>
<line x1="1225.60" y1="1821.50" x2="1237.10" y2="1821.50" stroke="#000" stroke-width="2.6" stroke-linecap="butt"/>
<text transform="translate(1225.00 1829.10) scale(0.96 1)" font-size="21" text-anchor="end" fill="#1a1a1a">100</text>
<line x1="1225.60" y1="1913.30" x2="1237.10" y2="1913.30" stroke="#000" stroke-width="2.6" stroke-linecap="butt"/>
<text transform="translate(1225.00 1920.90) scale(0.96 1)" font-size="21" text-anchor="end" fill="#1a1a1a">0</text>
<line x1="1237.40" y1="1913.30" x2="1237.40" y2="1924.50" stroke="#000" stroke-width="2.6" stroke-linecap="butt"/>
<text transform="translate(1237.40 1944.20) scale(0.97 1)" font-size="21" text-anchor="middle" fill="#1a1a1a">0</text>
<line x1="1292.20" y1="1913.30" x2="1292.20" y2="1924.50" stroke="#000" stroke-width="2.6" stroke-linecap="butt"/>
<text transform="translate(1292.20 1944.20) scale(0.97 1)" font-size="21" text-anchor="middle" fill="#1a1a1a">5</text>
<line x1="1347.40" y1="1913.30" x2="1347.40" y2="1924.50" stroke="#000" stroke-width="2.6" stroke-linecap="butt"/>
<text transform="translate(1347.40 1944.20) scale(0.97 1)" font-size="21" text-anchor="middle" fill="#1a1a1a">10</text>
<line x1="1402.00" y1="1913.30" x2="1402.00" y2="1924.50" stroke="#000" stroke-width="2.6" stroke-linecap="butt"/>
<text transform="translate(1402.00 1944.20) scale(0.97 1)" font-size="21" text-anchor="middle" fill="#1a1a1a">15</text>
<line x1="1456.60" y1="1913.30" x2="1456.60" y2="1924.50" stroke="#000" stroke-width="2.6" stroke-linecap="butt"/>
<text transform="translate(1456.60 1944.20) scale(0.97 1)" font-size="21" text-anchor="middle" fill="#1a1a1a">20</text>
<line x1="1511.20" y1="1913.30" x2="1511.20" y2="1924.50" stroke="#000" stroke-width="2.6" stroke-linecap="butt"/>
<text transform="translate(1511.20 1944.20) scale(0.97 1)" font-size="21" text-anchor="middle" fill="#1a1a1a">25</text>
<line x1="1252.70" y1="1892.80" x2="1485.80" y2="1731.00" stroke="#000" stroke-width="2.6" stroke-linecap="round"/>
<circle cx="1485.25" cy="1688.16" r="5.4" fill="#3fb737"/>
<circle cx="1468.66" cy="1739.86" r="5.4" fill="#3fb737"/>
<circle cx="1436.59" cy="1750.37" r="5.4" fill="#3fb737"/>
<circle cx="1361.38" cy="1752.86" r="5.4" fill="#3fb737"/>
<circle cx="1306.08" cy="1821.70" r="5.4" fill="#3fb737"/>
<circle cx="1293.36" cy="1826.40" r="5.4" fill="#3fb737"/>
<circle cx="1293.36" cy="1831.93" r="5.4" fill="#3fb737"/>
<circle cx="1309.68" cy="1846.59" r="5.4" fill="#3fb737"/>
<circle cx="1371.06" cy="1854.61" r="5.4" fill="#3fb737"/>
<circle cx="1353.91" cy="1858.75" r="5.4" fill="#3fb737"/>
<circle cx="1266.54" cy="1863.18" r="5.4" fill="#3fb737"/>
<circle cx="1265.71" cy="1867.88" r="5.4" fill="#3fb737"/>
<circle cx="1291.43" cy="1865.67" r="5.4" fill="#3fb737"/>
<circle cx="1275.67" cy="1869.26" r="5.4" fill="#3fb737"/>
<circle cx="1280.92" cy="1870.92" r="5.4" fill="#3fb737"/>
<circle cx="1277.60" cy="1874.79" r="5.4" fill="#3fb737"/>
<circle cx="1265.16" cy="1879.77" r="5.4" fill="#3fb737"/>
<circle cx="1278.98" cy="1880.32" r="5.4" fill="#3fb737"/>
<circle cx="1294.74" cy="1879.49" r="5.4" fill="#3fb737"/>
<circle cx="1256.04" cy="1882.53" r="5.4" fill="#3fb737"/>
<circle cx="1257.42" cy="1886.40" r="5.4" fill="#3fb737"/>
<circle cx="1290.04" cy="1886.40" r="5.4" fill="#3fb737"/>
<circle cx="1301.10" cy="1887.23" r="5.4" fill="#3fb737"/>
<circle cx="1324.61" cy="1885.02" r="5.4" fill="#3fb737"/>
<circle cx="1359.72" cy="1888.06" r="5.4" fill="#3fb737"/>
<circle cx="1260.18" cy="1890.55" r="5.4" fill="#3fb737"/>
<circle cx="1281.75" cy="1892.76" r="5.4" fill="#3fb737"/>
<circle cx="1269.31" cy="1894.14" r="5.4" fill="#3fb737"/>
<circle cx="1278.98" cy="1895.53" r="5.4" fill="#3fb737"/>
<circle cx="1264.33" cy="1896.36" r="5.4" fill="#3fb737"/>
<circle cx="1249.95" cy="1899.67" r="5.4" fill="#3fb737"/>
<circle cx="1269.31" cy="1899.67" r="5.4" fill="#3fb737"/>
<circle cx="1307.19" cy="1901.89" r="5.4" fill="#3fb737"/>
<circle cx="1328.75" cy="1900.50" r="5.4" fill="#3fb737"/>
<circle cx="1317.97" cy="1903.55" r="5.4" fill="#3fb737"/>
<circle cx="1252.16" cy="1906.03" r="5.4" fill="#3fb737"/>
<circle cx="1271.52" cy="1906.03" r="5.4" fill="#3fb737"/>
<text x="1374.80" y="1971.00" font-size="23.8" font-weight="bold" text-anchor="middle" fill="#1a1a1a">PSR % area</text>
<text x="1175.30" y="1774.00" font-size="23.5" font-weight="bold" text-anchor="middle" fill="#1a1a1a" transform="rotate(-90 1175.30 1774.00)">CD9<tspan font-size="14.5" dy="-8">+</tspan><tspan dy="8"> cells/mm</tspan><tspan font-size="14.5" dy="-8">2</tspan><tspan dy="8"> liver</tspan></text>
<text x="1511.20" y="1724.60" font-size="13.7" text-anchor="start" fill="#111">p&lt;0.0001</text>
<text x="1510.80" y="1742.60" font-size="13.7" text-anchor="start" fill="#111">r=0.8199</text>
<line x1="1237.80" y1="2000.00" x2="1237.80" y2="2277.40" stroke="#000" stroke-width="2.6" stroke-linecap="butt"/>
<line x1="1226.30" y1="2276.10" x2="1512.60" y2="2276.10" stroke="#000" stroke-width="2.6" stroke-linecap="butt"/>
<line x1="1226.30" y1="2039.60" x2="1237.80" y2="2039.60" stroke="#000" stroke-width="2.6" stroke-linecap="butt"/>
<text transform="translate(1225.00 2047.20) scale(0.96 1)" font-size="21" text-anchor="end" fill="#1a1a1a">300</text>
<line x1="1226.30" y1="2118.30" x2="1237.80" y2="2118.30" stroke="#000" stroke-width="2.6" stroke-linecap="butt"/>
<text transform="translate(1225.00 2125.90) scale(0.96 1)" font-size="21" text-anchor="end" fill="#1a1a1a">200</text>
<line x1="1226.30" y1="2197.20" x2="1237.80" y2="2197.20" stroke="#000" stroke-width="2.6" stroke-linecap="butt"/>
<text transform="translate(1225.00 2204.80) scale(0.96 1)" font-size="21" text-anchor="end" fill="#1a1a1a">100</text>
<line x1="1226.30" y1="2276.10" x2="1237.80" y2="2276.10" stroke="#000" stroke-width="2.6" stroke-linecap="butt"/>
<text transform="translate(1225.00 2283.70) scale(0.96 1)" font-size="21" text-anchor="end" fill="#1a1a1a">0</text>
<line x1="1238.20" y1="2276.10" x2="1238.20" y2="2287.30" stroke="#000" stroke-width="2.6" stroke-linecap="butt"/>
<text transform="translate(1238.20 2306.70) scale(0.97 1)" font-size="21" text-anchor="middle" fill="#1a1a1a">0</text>
<line x1="1293.00" y1="2276.10" x2="1293.00" y2="2287.30" stroke="#000" stroke-width="2.6" stroke-linecap="butt"/>
<text transform="translate(1293.00 2306.70) scale(0.97 1)" font-size="21" text-anchor="middle" fill="#1a1a1a">5</text>
<line x1="1347.90" y1="2276.10" x2="1347.90" y2="2287.30" stroke="#000" stroke-width="2.6" stroke-linecap="butt"/>
<text transform="translate(1347.90 2306.70) scale(0.97 1)" font-size="21" text-anchor="middle" fill="#1a1a1a">10</text>
<line x1="1402.80" y1="2276.10" x2="1402.80" y2="2287.30" stroke="#000" stroke-width="2.6" stroke-linecap="butt"/>
<text transform="translate(1402.80 2306.70) scale(0.97 1)" font-size="21" text-anchor="middle" fill="#1a1a1a">15</text>
<line x1="1457.80" y1="2276.10" x2="1457.80" y2="2287.30" stroke="#000" stroke-width="2.6" stroke-linecap="butt"/>
<text transform="translate(1457.80 2306.70) scale(0.97 1)" font-size="21" text-anchor="middle" fill="#1a1a1a">20</text>
<line x1="1512.20" y1="2276.10" x2="1512.20" y2="2287.30" stroke="#000" stroke-width="2.6" stroke-linecap="butt"/>
<text transform="translate(1512.20 2306.70) scale(0.97 1)" font-size="21" text-anchor="middle" fill="#1a1a1a">25</text>
<line x1="1256.90" y1="2263.30" x2="1486.40" y2="2138.90" stroke="#000" stroke-width="2.6" stroke-linecap="round"/>
<circle cx="1485.80" cy="2024.42" r="5.4" fill="#3fb737"/>
<circle cx="1437.14" cy="2048.48" r="5.4" fill="#3fb737"/>
<circle cx="1265.71" cy="2193.36" r="5.4" fill="#3fb737"/>
<circle cx="1361.93" cy="2211.61" r="5.4" fill="#3fb737"/>
<circle cx="1280.37" cy="2212.72" r="5.4" fill="#3fb737"/>
<circle cx="1257.69" cy="2219.08" r="5.4" fill="#3fb737"/>
<circle cx="1293.64" cy="2223.22" r="5.4" fill="#3fb737"/>
<circle cx="1267.10" cy="2225.44" r="5.4" fill="#3fb737"/>
<circle cx="1345.34" cy="2235.67" r="5.4" fill="#3fb737"/>
<circle cx="1281.75" cy="2239.26" r="5.4" fill="#3fb737"/>
<circle cx="1283.13" cy="2242.58" r="5.4" fill="#3fb737"/>
<circle cx="1276.22" cy="2245.62" r="5.4" fill="#3fb737"/>
<circle cx="1306.63" cy="2245.34" r="5.4" fill="#3fb737"/>
<circle cx="1328.75" cy="2243.96" r="5.4" fill="#3fb737"/>
<circle cx="1256.87" cy="2249.49" r="5.4" fill="#3fb737"/>
<circle cx="1259.63" cy="2251.70" r="5.4" fill="#3fb737"/>
<circle cx="1354.47" cy="2249.77" r="5.4" fill="#3fb737"/>
<circle cx="1371.06" cy="2252.53" r="5.4" fill="#3fb737"/>
<circle cx="1469.21" cy="2251.98" r="5.4" fill="#3fb737"/>
<circle cx="1270.69" cy="2256.40" r="5.4" fill="#3fb737"/>
<circle cx="1249.95" cy="2258.61" r="5.4" fill="#3fb737"/>
<circle cx="1291.98" cy="2258.06" r="5.4" fill="#3fb737"/>
<circle cx="1295.57" cy="2258.61" r="5.4" fill="#3fb737"/>
<circle cx="1252.16" cy="2263.59" r="5.4" fill="#3fb737"/>
<circle cx="1265.16" cy="2262.21" r="5.4" fill="#3fb737"/>
<circle cx="1278.16" cy="2261.38" r="5.4" fill="#3fb737"/>
<circle cx="1278.16" cy="2264.97" r="5.4" fill="#3fb737"/>
<circle cx="1301.10" cy="2267.74" r="5.4" fill="#3fb737"/>
<circle cx="1307.46" cy="2267.46" r="5.4" fill="#3fb737"/>
<circle cx="1290.04" cy="2270.50" r="5.4" fill="#3fb737"/>
<circle cx="1318.52" cy="2271.61" r="5.4" fill="#3fb737"/>
<circle cx="1360.00" cy="2273.27" r="5.4" fill="#3fb737"/>
<text x="1374.80" y="2333.20" font-size="23.8" font-weight="bold" text-anchor="middle" fill="#1a1a1a">PSR % area</text>
<text x="1175.30" y="2137.00" font-size="23.5" font-weight="bold" text-anchor="middle" fill="#1a1a1a" transform="rotate(-90 1175.30 2137.00)">TREM2<tspan font-size="14.5" dy="-8">+</tspan><tspan dy="8"> cells/mm</tspan><tspan font-size="14.5" dy="-8">2</tspan><tspan dy="8"> liver</tspan></text>
<text x="1511.20" y="2132.00" font-size="13.7" text-anchor="start" fill="#111">p=0.0003</text>
<text x="1510.80" y="2150.00" font-size="13.7" text-anchor="start" fill="#111">r=0.5952</text>
</g>
</svg>
</body></html>
